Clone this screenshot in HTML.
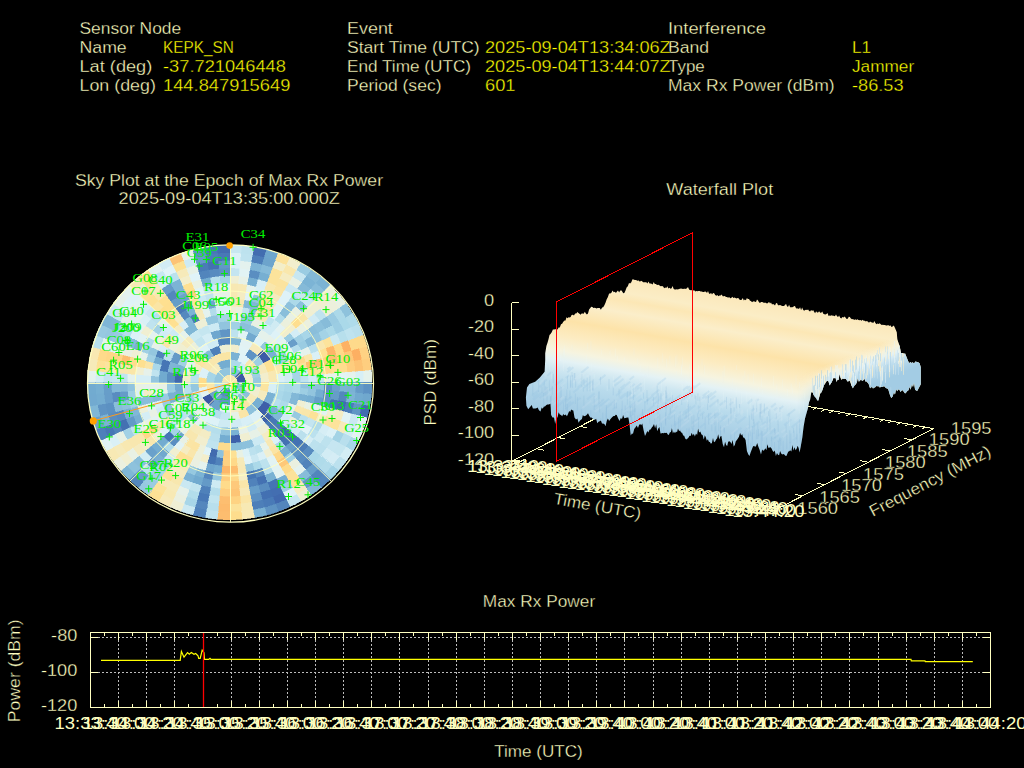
<!DOCTYPE html>
<html><head><meta charset="utf-8"><title>Interference Event</title>
<style>html,body{margin:0;padding:0;background:#000;overflow:hidden}svg{display:block}text{font-family:"Liberation Sans",sans-serif;white-space:pre;stroke:#000;stroke-width:.32px}#sats text{font-family:"Liberation Serif",serif;stroke:none}text.ns{stroke:none}</style></head>
<body>
<svg width="1024" height="768" viewBox="0 0 1024 768" font-family="'Liberation Sans', sans-serif" font-size="16.3px">
<rect width="1024" height="768" fill="#000"/>
<g id="header">
<text x="79.50" y="33.60" textLength="101.72" lengthAdjust="spacingAndGlyphs" fill="#ffffc0">Sensor Node</text>
<text x="79.50" y="52.70" textLength="47.22" lengthAdjust="spacingAndGlyphs" fill="#ffffc0">Name</text>
<text x="79.50" y="71.80" textLength="72.77" lengthAdjust="spacingAndGlyphs" fill="#ffffc0">Lat (deg)</text>
<text x="79.50" y="90.90" textLength="76.33" lengthAdjust="spacingAndGlyphs" fill="#ffffc0">Lon (deg)</text>
<text x="163.00" y="52.70" textLength="70.89" lengthAdjust="spacingAndGlyphs" fill="#ffff00">KEPK_SN</text>
<text x="163.00" y="71.80" textLength="122.94" lengthAdjust="spacingAndGlyphs" fill="#ffff00">-37.721046448</text>
<text x="163.00" y="90.90" textLength="127.34" lengthAdjust="spacingAndGlyphs" fill="#ffff00">144.847915649</text>
<text x="347.00" y="33.60" textLength="45.84" lengthAdjust="spacingAndGlyphs" fill="#ffffc0">Event</text>
<text x="347.00" y="52.70" textLength="132.72" lengthAdjust="spacingAndGlyphs" fill="#ffffc0">Start Time (UTC)</text>
<text x="347.00" y="71.80" textLength="124.02" lengthAdjust="spacingAndGlyphs" fill="#ffffc0">End Time (UTC)</text>
<text x="347.00" y="90.90" textLength="94.5" lengthAdjust="spacingAndGlyphs" fill="#ffffc0">Period (sec)</text>
<text x="668.00" y="33.60" textLength="97.91" lengthAdjust="spacingAndGlyphs" fill="#ffffc0">Interference</text>
<text x="668.00" y="52.70" textLength="41.09" lengthAdjust="spacingAndGlyphs" fill="#ffffc0">Band</text>
<text x="668.00" y="71.80" textLength="36.77" lengthAdjust="spacingAndGlyphs" fill="#ffffc0">Type</text>
<text x="668.00" y="90.90" textLength="166.61" lengthAdjust="spacingAndGlyphs" fill="#ffffc0">Max Rx Power (dBm)</text>
<text x="485.00" y="52.70" textLength="185.72" lengthAdjust="spacingAndGlyphs" fill="#ffff00">2025-09-04T13:34:06Z</text>
<text x="485.00" y="71.80" textLength="185.72" lengthAdjust="spacingAndGlyphs" fill="#ffff00">2025-09-04T13:44:07Z</text>
<text x="485.00" y="90.90" textLength="30.56" lengthAdjust="spacingAndGlyphs" fill="#ffff00">601</text>
<text x="852.00" y="52.70" textLength="19.11" lengthAdjust="spacingAndGlyphs" fill="#ffff00">L1</text>
<text x="852.00" y="71.80" textLength="62.14" lengthAdjust="spacingAndGlyphs" fill="#ffff00">Jammer</text>
<text x="852.00" y="90.90" textLength="51.62" lengthAdjust="spacingAndGlyphs" fill="#ffff00">-86.53</text>
</g>
<g id="sky">
<text x="74.92" y="185.70" textLength="308.16" lengthAdjust="spacingAndGlyphs" fill="#ffffc0">Sky Plot at the Epoch of Max Rx Power</text>
<text x="118.61" y="204.40" textLength="221.38" lengthAdjust="spacingAndGlyphs" fill="#ffffc0">2025-09-04T13:35:00.000Z</text>
<ellipse cx="229.7" cy="382.3" rx="142.2" ry="137.3" fill="#bcdcec"/>
<g shape-rendering="crispEdges" stroke-width="0.6">
<path d="M229.7 374.7L230.0 374.7L230.4 374.7L230.7 374.7L231.1 374.8L231.4 374.9L231.7 374.9L232.1 375.0L232.4 375.1L232.7 375.3L233.0 375.4L233.3 375.5L233.6 375.7L233.9 375.9L234.2 376.1L234.5 376.2L234.8 376.5L235.0 376.7L235.3 376.9L235.5 377.1L235.8 377.4L236.0 377.7L236.2 377.9L236.4 378.2L236.5 378.5L236.7 378.8L236.9 379.1L237.0 379.4L237.1 379.7L237.2 380.0L237.3 380.3L237.4 380.6L237.5 381.0L237.5 381.3L237.6 381.6L237.6 382.0L237.6 382.3L229.7 382.3L229.7 382.3L229.7 382.3L229.7 382.3L229.7 382.3L229.7 382.3L229.7 382.3L229.7 382.3L229.7 382.3L229.7 382.3L229.7 382.3L229.7 382.3L229.7 382.3L229.7 382.3L229.7 382.3L229.7 382.3L229.7 382.3L229.7 382.3L229.7 382.3L229.7 382.3L229.7 382.3L229.7 382.3L229.7 382.3L229.7 382.3L229.7 382.3L229.7 382.3L229.7 382.3L229.7 382.3L229.7 382.3L229.7 382.3L229.7 382.3L229.7 382.3L229.7 382.3L229.7 382.3L229.7 382.3L229.7 382.3L229.7 382.3Z" fill="#f8e8b1" stroke="#f8e8b1"/>
<path d="M237.6 382.3L237.6 382.6L237.6 383.0L237.5 383.3L237.5 383.6L237.4 384.0L237.3 384.3L237.2 384.6L237.1 384.9L237.0 385.2L236.9 385.5L236.7 385.8L236.5 386.1L236.4 386.4L236.2 386.7L236.0 386.9L235.8 387.2L235.5 387.5L235.3 387.7L235.0 387.9L234.8 388.1L234.5 388.4L234.2 388.5L233.9 388.7L233.6 388.9L233.3 389.1L233.0 389.2L232.7 389.3L232.4 389.5L232.1 389.6L231.7 389.7L231.4 389.7L231.1 389.8L230.7 389.9L230.4 389.9L230.0 389.9L229.7 389.9L229.7 382.3L229.7 382.3L229.7 382.3L229.7 382.3L229.7 382.3L229.7 382.3L229.7 382.3L229.7 382.3L229.7 382.3L229.7 382.3L229.7 382.3L229.7 382.3L229.7 382.3L229.7 382.3L229.7 382.3L229.7 382.3L229.7 382.3L229.7 382.3L229.7 382.3L229.7 382.3L229.7 382.3L229.7 382.3L229.7 382.3L229.7 382.3L229.7 382.3L229.7 382.3L229.7 382.3L229.7 382.3L229.7 382.3L229.7 382.3L229.7 382.3L229.7 382.3L229.7 382.3L229.7 382.3L229.7 382.3L229.7 382.3L229.7 382.3Z" fill="#fbe39e" stroke="#fbe39e"/>
<path d="M229.7 389.9L229.4 389.9L229.0 389.9L228.7 389.9L228.3 389.8L228.0 389.7L227.7 389.7L227.3 389.6L227.0 389.5L226.7 389.3L226.4 389.2L226.1 389.1L225.8 388.9L225.5 388.7L225.2 388.5L224.9 388.4L224.6 388.1L224.4 387.9L224.1 387.7L223.9 387.5L223.6 387.2L223.4 386.9L223.2 386.7L223.0 386.4L222.9 386.1L222.7 385.8L222.5 385.5L222.4 385.2L222.3 384.9L222.2 384.6L222.1 384.3L222.0 384.0L221.9 383.6L221.9 383.3L221.8 383.0L221.8 382.6L221.8 382.3L229.7 382.3L229.7 382.3L229.7 382.3L229.7 382.3L229.7 382.3L229.7 382.3L229.7 382.3L229.7 382.3L229.7 382.3L229.7 382.3L229.7 382.3L229.7 382.3L229.7 382.3L229.7 382.3L229.7 382.3L229.7 382.3L229.7 382.3L229.7 382.3L229.7 382.3L229.7 382.3L229.7 382.3L229.7 382.3L229.7 382.3L229.7 382.3L229.7 382.3L229.7 382.3L229.7 382.3L229.7 382.3L229.7 382.3L229.7 382.3L229.7 382.3L229.7 382.3L229.7 382.3L229.7 382.3L229.7 382.3L229.7 382.3L229.7 382.3Z" fill="#b5deec" stroke="#b5deec"/>
<path d="M221.8 382.3L221.8 382.0L221.8 381.6L221.9 381.3L221.9 381.0L222.0 380.6L222.1 380.3L222.2 380.0L222.3 379.7L222.4 379.4L222.5 379.1L222.7 378.8L222.9 378.5L223.0 378.2L223.2 377.9L223.4 377.7L223.6 377.4L223.9 377.1L224.1 376.9L224.4 376.7L224.6 376.5L224.9 376.2L225.2 376.1L225.5 375.9L225.8 375.7L226.1 375.5L226.4 375.4L226.7 375.3L227.0 375.1L227.3 375.0L227.7 374.9L228.0 374.9L228.3 374.8L228.7 374.7L229.0 374.7L229.4 374.7L229.7 374.7L229.7 382.3L229.7 382.3L229.7 382.3L229.7 382.3L229.7 382.3L229.7 382.3L229.7 382.3L229.7 382.3L229.7 382.3L229.7 382.3L229.7 382.3L229.7 382.3L229.7 382.3L229.7 382.3L229.7 382.3L229.7 382.3L229.7 382.3L229.7 382.3L229.7 382.3L229.7 382.3L229.7 382.3L229.7 382.3L229.7 382.3L229.7 382.3L229.7 382.3L229.7 382.3L229.7 382.3L229.7 382.3L229.7 382.3L229.7 382.3L229.7 382.3L229.7 382.3L229.7 382.3L229.7 382.3L229.7 382.3L229.7 382.3L229.7 382.3Z" fill="#f8e8b1" stroke="#f8e8b1"/>
<path d="M229.7 367.0L230.4 367.1L231.1 367.1L231.8 367.2L232.4 367.3L233.1 367.4L233.8 367.6L234.5 367.8L235.1 368.0L235.7 368.2L236.4 368.5L237.0 368.8L237.6 369.1L238.2 369.4L238.8 369.8L239.3 370.2L239.9 370.6L240.4 371.1L240.9 371.5L235.3 376.9L235.0 376.7L234.8 376.5L234.5 376.2L234.2 376.1L233.9 375.9L233.6 375.7L233.3 375.5L233.0 375.4L232.7 375.3L232.4 375.1L232.1 375.0L231.7 374.9L231.4 374.9L231.1 374.8L230.7 374.7L230.4 374.7L230.0 374.7L229.7 374.7Z" fill="#8cc0db" stroke="#8cc0db"/>
<path d="M240.9 371.5L241.3 372.0L241.8 372.5L242.2 373.0L242.6 373.5L243.0 374.1L243.4 374.7L243.7 375.3L244.0 375.9L244.3 376.5L244.5 377.1L244.8 377.7L245.0 378.4L245.1 379.0L245.3 379.7L245.4 380.3L245.4 381.0L245.5 381.6L245.5 382.3L237.6 382.3L237.6 382.0L237.6 381.6L237.5 381.3L237.5 381.0L237.4 380.6L237.3 380.3L237.2 380.0L237.1 379.7L237.0 379.4L236.9 379.1L236.7 378.8L236.5 378.5L236.4 378.2L236.2 377.9L236.0 377.7L235.8 377.4L235.5 377.1L235.3 376.9Z" fill="#3c57a5" stroke="#3c57a5"/>
<path d="M245.5 382.3L245.5 383.0L245.4 383.6L245.4 384.3L245.3 384.9L245.1 385.6L245.0 386.2L244.8 386.9L244.5 387.5L244.3 388.1L244.0 388.7L243.7 389.3L243.4 389.9L243.0 390.5L242.6 391.1L242.2 391.6L241.8 392.1L241.3 392.6L240.9 393.1L235.3 387.7L235.5 387.5L235.8 387.2L236.0 386.9L236.2 386.7L236.4 386.4L236.5 386.1L236.7 385.8L236.9 385.5L237.0 385.2L237.1 384.9L237.2 384.6L237.3 384.3L237.4 384.0L237.5 383.6L237.5 383.3L237.6 383.0L237.6 382.6L237.6 382.3Z" fill="#8fc3dd" stroke="#8fc3dd"/>
<path d="M240.9 393.1L240.4 393.5L239.9 394.0L239.3 394.4L238.8 394.8L238.2 395.2L237.6 395.5L237.0 395.8L236.4 396.1L235.7 396.4L235.1 396.6L234.5 396.8L233.8 397.0L233.1 397.2L232.4 397.3L231.8 397.4L231.1 397.5L230.4 397.5L229.7 397.6L229.7 389.9L230.0 389.9L230.4 389.9L230.7 389.9L231.1 389.8L231.4 389.7L231.7 389.7L232.1 389.6L232.4 389.5L232.7 389.3L233.0 389.2L233.3 389.1L233.6 388.9L233.9 388.7L234.2 388.5L234.5 388.4L234.8 388.1L235.0 387.9L235.3 387.7Z" fill="#c5e6f0" stroke="#c5e6f0"/>
<path d="M229.7 397.6L229.0 397.5L228.3 397.5L227.6 397.4L227.0 397.3L226.3 397.2L225.6 397.0L224.9 396.8L224.3 396.6L223.7 396.4L223.0 396.1L222.4 395.8L221.8 395.5L221.2 395.2L220.6 394.8L220.1 394.4L219.5 394.0L219.0 393.5L218.5 393.1L224.1 387.7L224.4 387.9L224.6 388.1L224.9 388.4L225.2 388.5L225.5 388.7L225.8 388.9L226.1 389.1L226.4 389.2L226.7 389.3L227.0 389.5L227.3 389.6L227.7 389.7L228.0 389.7L228.3 389.8L228.7 389.9L229.0 389.9L229.4 389.9L229.7 389.9Z" fill="#588cc0" stroke="#588cc0"/>
<path d="M218.5 393.1L218.1 392.6L217.6 392.1L217.2 391.6L216.8 391.1L216.4 390.5L216.0 389.9L215.7 389.3L215.4 388.7L215.1 388.1L214.9 387.5L214.6 386.9L214.4 386.2L214.3 385.6L214.1 384.9L214.0 384.3L214.0 383.6L213.9 383.0L213.9 382.3L221.8 382.3L221.8 382.6L221.8 383.0L221.9 383.3L221.9 383.6L222.0 384.0L222.1 384.3L222.2 384.6L222.3 384.9L222.4 385.2L222.5 385.5L222.7 385.8L222.9 386.1L223.0 386.4L223.2 386.7L223.4 386.9L223.6 387.2L223.9 387.5L224.1 387.7Z" fill="#b9e0ed" stroke="#b9e0ed"/>
<path d="M213.9 382.3L213.9 381.6L214.0 381.0L214.0 380.3L214.1 379.7L214.3 379.0L214.4 378.4L214.6 377.7L214.9 377.1L215.1 376.5L215.4 375.9L215.7 375.3L216.0 374.7L216.4 374.1L216.8 373.5L217.2 373.0L217.6 372.5L218.1 372.0L218.5 371.5L224.1 376.9L223.9 377.1L223.6 377.4L223.4 377.7L223.2 377.9L223.0 378.2L222.9 378.5L222.7 378.8L222.5 379.1L222.4 379.4L222.3 379.7L222.2 380.0L222.1 380.3L222.0 380.6L221.9 381.0L221.9 381.3L221.8 381.6L221.8 382.0L221.8 382.3Z" fill="#94c7df" stroke="#94c7df"/>
<path d="M218.5 371.5L219.0 371.1L219.5 370.6L220.1 370.2L220.6 369.8L221.2 369.4L221.8 369.1L222.4 368.8L223.0 368.5L223.7 368.2L224.3 368.0L224.9 367.8L225.6 367.6L226.3 367.4L227.0 367.3L227.6 367.2L228.3 367.1L229.0 367.1L229.7 367.0L229.7 374.7L229.4 374.7L229.0 374.7L228.7 374.7L228.3 374.8L228.0 374.9L227.7 374.9L227.3 375.0L227.0 375.1L226.7 375.3L226.4 375.4L226.1 375.5L225.8 375.7L225.5 375.9L225.2 376.1L224.9 376.2L224.6 376.5L224.4 376.7L224.1 376.9Z" fill="#92c5de" stroke="#92c5de"/>
<path d="M229.7 359.4L230.7 359.4L231.8 359.5L232.8 359.6L233.8 359.8L234.8 360.0L235.8 360.2L236.8 360.5L237.8 360.8L238.8 361.2L239.7 361.6L240.6 362.0L241.5 362.5L237.6 369.1L237.0 368.8L236.4 368.5L235.7 368.2L235.1 368.0L234.5 367.8L233.8 367.6L233.1 367.4L232.4 367.3L231.8 367.2L231.1 367.1L230.4 367.1L229.7 367.0Z" fill="#addae9" stroke="#addae9"/>
<path d="M241.5 362.5L242.4 363.0L243.3 363.6L244.1 364.1L244.9 364.8L245.7 365.4L246.5 366.1L247.2 366.8L247.9 367.6L248.5 368.4L249.1 369.2L249.7 370.0L250.2 370.9L243.4 374.7L243.0 374.1L242.6 373.5L242.2 373.0L241.8 372.5L241.3 372.0L240.9 371.5L240.4 371.1L239.9 370.6L239.3 370.2L238.8 369.8L238.2 369.4L237.6 369.1Z" fill="#d1ecf4" stroke="#d1ecf4"/>
<path d="M250.2 370.9L250.7 371.7L251.2 372.6L251.6 373.5L252.0 374.5L252.3 375.4L252.6 376.4L252.8 377.3L253.0 378.3L253.2 379.3L253.3 380.3L253.4 381.3L253.4 382.3L245.5 382.3L245.5 381.6L245.4 381.0L245.4 380.3L245.3 379.7L245.1 379.0L245.0 378.4L244.8 377.7L244.5 377.1L244.3 376.5L244.0 375.9L243.7 375.3L243.4 374.7Z" fill="#f1eecf" stroke="#f1eecf"/>
<path d="M253.4 382.3L253.4 383.3L253.3 384.3L253.2 385.3L253.0 386.3L252.8 387.3L252.6 388.2L252.3 389.2L252.0 390.1L251.6 391.1L251.2 392.0L250.7 392.9L250.2 393.7L243.4 389.9L243.7 389.3L244.0 388.7L244.3 388.1L244.5 387.5L244.8 386.9L245.0 386.2L245.1 385.6L245.3 384.9L245.4 384.3L245.4 383.6L245.5 383.0L245.5 382.3Z" fill="#f1efd0" stroke="#f1efd0"/>
<path d="M250.2 393.7L249.7 394.6L249.1 395.4L248.5 396.2L247.9 397.0L247.2 397.8L246.5 398.5L245.7 399.2L244.9 399.8L244.1 400.5L243.3 401.0L242.4 401.6L241.5 402.1L237.6 395.5L238.2 395.2L238.8 394.8L239.3 394.4L239.9 394.0L240.4 393.5L240.9 393.1L241.3 392.6L241.8 392.1L242.2 391.6L242.6 391.1L243.0 390.5L243.4 389.9Z" fill="#8dc1dc" stroke="#8dc1dc"/>
<path d="M241.5 402.1L240.6 402.6L239.7 403.0L238.8 403.4L237.8 403.8L236.8 404.1L235.8 404.4L234.8 404.6L233.8 404.8L232.8 405.0L231.8 405.1L230.7 405.2L229.7 405.2L229.7 397.6L230.4 397.5L231.1 397.5L231.8 397.4L232.4 397.3L233.1 397.2L233.8 397.0L234.5 396.8L235.1 396.6L235.7 396.4L236.4 396.1L237.0 395.8L237.6 395.5Z" fill="#f6ebbd" stroke="#f6ebbd"/>
<path d="M229.7 405.2L228.7 405.2L227.6 405.1L226.6 405.0L225.6 404.8L224.6 404.6L223.6 404.4L222.6 404.1L221.6 403.8L220.6 403.4L219.7 403.0L218.8 402.6L217.8 402.1L221.8 395.5L222.4 395.8L223.0 396.1L223.7 396.4L224.3 396.6L224.9 396.8L225.6 397.0L226.3 397.2L227.0 397.3L227.6 397.4L228.3 397.5L229.0 397.5L229.7 397.6Z" fill="#6096c5" stroke="#6096c5"/>
<path d="M217.8 402.1L217.0 401.6L216.1 401.0L215.3 400.5L214.5 399.8L213.7 399.2L212.9 398.5L212.2 397.8L211.5 397.0L210.9 396.2L210.3 395.4L209.7 394.6L209.2 393.7L216.0 389.9L216.4 390.5L216.8 391.1L217.2 391.6L217.6 392.1L218.1 392.6L218.5 393.1L219.0 393.5L219.5 394.0L220.1 394.4L220.6 394.8L221.2 395.2L221.8 395.5Z" fill="#6ca4cc" stroke="#6ca4cc"/>
<path d="M209.2 393.7L208.7 392.9L208.2 392.0L207.8 391.1L207.4 390.1L207.1 389.2L206.8 388.2L206.6 387.3L206.4 386.3L206.2 385.3L206.1 384.3L206.0 383.3L206.0 382.3L213.9 382.3L213.9 383.0L214.0 383.6L214.0 384.3L214.1 384.9L214.3 385.6L214.4 386.2L214.6 386.9L214.9 387.5L215.1 388.1L215.4 388.7L215.7 389.3L216.0 389.9Z" fill="#f9e6aa" stroke="#f9e6aa"/>
<path d="M206.0 382.3L206.0 381.3L206.1 380.3L206.2 379.3L206.4 378.3L206.6 377.3L206.8 376.4L207.1 375.4L207.4 374.5L207.8 373.5L208.2 372.6L208.7 371.7L209.2 370.9L216.0 374.7L215.7 375.3L215.4 375.9L215.1 376.5L214.9 377.1L214.6 377.7L214.4 378.4L214.3 379.0L214.1 379.7L214.0 380.3L214.0 381.0L213.9 381.6L213.9 382.3Z" fill="#a6d5e7" stroke="#a6d5e7"/>
<path d="M209.2 370.9L209.7 370.0L210.3 369.2L210.9 368.4L211.5 367.6L212.2 366.8L212.9 366.1L213.7 365.4L214.5 364.8L215.3 364.1L216.1 363.6L217.0 363.0L217.8 362.5L221.8 369.1L221.2 369.4L220.6 369.8L220.1 370.2L219.5 370.6L219.0 371.1L218.5 371.5L218.1 372.0L217.6 372.5L217.2 373.0L216.8 373.5L216.4 374.1L216.0 374.7Z" fill="#f5ebbf" stroke="#f5ebbf"/>
<path d="M217.8 362.5L218.8 362.0L219.7 361.6L220.6 361.2L221.6 360.8L222.6 360.5L223.6 360.2L224.6 360.0L225.6 359.8L226.6 359.6L227.6 359.5L228.7 359.4L229.7 359.4L229.7 367.0L229.0 367.1L228.3 367.1L227.6 367.2L227.0 367.3L226.3 367.4L225.6 367.6L224.9 367.8L224.3 368.0L223.7 368.2L223.0 368.5L222.4 368.8L221.8 369.1Z" fill="#74add1" stroke="#74add1"/>
<path d="M229.7 351.8L231.1 351.8L232.5 351.9L233.8 352.0L235.2 352.3L236.5 352.5L237.9 352.8L239.2 353.2L240.5 353.6L237.8 360.8L236.8 360.5L235.8 360.2L234.8 360.0L233.8 359.8L232.8 359.6L231.8 359.5L230.7 359.4L229.7 359.4Z" fill="#7ab2d4" stroke="#7ab2d4"/>
<path d="M240.5 353.6L241.8 354.1L243.1 354.6L244.3 355.2L245.5 355.9L246.7 356.6L247.8 357.3L248.9 358.1L250.0 358.9L244.9 364.8L244.1 364.1L243.3 363.6L242.4 363.0L241.5 362.5L240.6 362.0L239.7 361.6L238.8 361.2L237.8 360.8Z" fill="#e0f3f7" stroke="#e0f3f7"/>
<path d="M250.0 358.9L251.0 359.8L252.0 360.7L253.0 361.7L253.9 362.7L254.8 363.7L255.6 364.8L256.4 365.9L257.1 367.0L250.2 370.9L249.7 370.0L249.1 369.2L248.5 368.4L247.9 367.6L247.2 366.8L246.5 366.1L245.7 365.4L244.9 364.8Z" fill="#f8e7ae" stroke="#f8e7ae"/>
<path d="M257.1 367.0L257.7 368.2L258.3 369.4L258.9 370.6L259.4 371.9L259.8 373.1L260.2 374.4L260.6 375.7L260.8 377.0L253.0 378.3L252.8 377.3L252.6 376.4L252.3 375.4L252.0 374.5L251.6 373.5L251.2 372.6L250.7 371.7L250.2 370.9Z" fill="#9fcfe4" stroke="#9fcfe4"/>
<path d="M260.8 377.0L261.0 378.3L261.2 379.6L261.3 381.0L261.3 382.3L261.3 383.6L261.2 385.0L261.0 386.3L260.8 387.6L253.0 386.3L253.2 385.3L253.3 384.3L253.4 383.3L253.4 382.3L253.4 381.3L253.3 380.3L253.2 379.3L253.0 378.3Z" fill="#98c9e1" stroke="#98c9e1"/>
<path d="M260.8 387.6L260.6 388.9L260.2 390.2L259.8 391.5L259.4 392.7L258.9 394.0L258.3 395.2L257.7 396.4L257.1 397.6L250.2 393.7L250.7 392.9L251.2 392.0L251.6 391.1L252.0 390.1L252.3 389.2L252.6 388.2L252.8 387.3L253.0 386.3Z" fill="#f1eecf" stroke="#f1eecf"/>
<path d="M257.1 397.6L256.4 398.7L255.6 399.8L254.8 400.9L253.9 401.9L253.0 402.9L252.0 403.9L251.0 404.8L250.0 405.7L244.9 399.8L245.7 399.2L246.5 398.5L247.2 397.8L247.9 397.0L248.5 396.2L249.1 395.4L249.7 394.6L250.2 393.7Z" fill="#f6eab9" stroke="#f6eab9"/>
<path d="M250.0 405.7L248.9 406.5L247.8 407.3L246.7 408.0L245.5 408.7L244.3 409.4L243.1 410.0L241.8 410.5L240.5 411.0L237.8 403.8L238.8 403.4L239.7 403.0L240.6 402.6L241.5 402.1L242.4 401.6L243.3 401.0L244.1 400.5L244.9 399.8Z" fill="#fae5a5" stroke="#fae5a5"/>
<path d="M240.5 411.0L239.2 411.4L237.9 411.8L236.5 412.1L235.2 412.3L233.8 412.6L232.5 412.7L231.1 412.8L229.7 412.8L229.7 405.2L230.7 405.2L231.8 405.1L232.8 405.0L233.8 404.8L234.8 404.6L235.8 404.4L236.8 404.1L237.8 403.8Z" fill="#f4edc7" stroke="#f4edc7"/>
<path d="M229.7 412.8L228.3 412.8L226.9 412.7L225.6 412.6L224.2 412.3L222.9 412.1L221.5 411.8L220.2 411.4L218.9 411.0L221.6 403.8L222.6 404.1L223.6 404.4L224.6 404.6L225.6 404.8L226.6 405.0L227.6 405.1L228.7 405.2L229.7 405.2Z" fill="#e2f2f3" stroke="#e2f2f3"/>
<path d="M218.9 411.0L217.6 410.5L216.3 410.0L215.1 409.4L213.9 408.7L212.7 408.0L211.6 407.3L210.5 406.5L209.4 405.7L214.5 399.8L215.3 400.5L216.1 401.0L217.0 401.6L217.8 402.1L218.8 402.6L219.7 403.0L220.6 403.4L221.6 403.8Z" fill="#6ba3cc" stroke="#6ba3cc"/>
<path d="M209.4 405.7L208.4 404.8L207.4 403.9L206.4 402.9L205.5 401.9L204.6 400.9L203.8 399.8L203.0 398.7L202.3 397.6L209.2 393.7L209.7 394.6L210.3 395.4L210.9 396.2L211.5 397.0L212.2 397.8L212.9 398.5L213.7 399.2L214.5 399.8Z" fill="#3b55a4" stroke="#3b55a4"/>
<path d="M202.3 397.6L201.7 396.4L201.1 395.2L200.5 394.0L200.0 392.7L199.6 391.5L199.2 390.2L198.8 388.9L198.6 387.6L206.4 386.3L206.6 387.3L206.8 388.2L207.1 389.2L207.4 390.1L207.8 391.1L208.2 392.0L208.7 392.9L209.2 393.7Z" fill="#e3f2f2" stroke="#e3f2f2"/>
<path d="M198.6 387.6L198.4 386.3L198.2 385.0L198.1 383.6L198.1 382.3L198.1 381.0L198.2 379.6L198.4 378.3L198.6 377.0L206.4 378.3L206.2 379.3L206.1 380.3L206.0 381.3L206.0 382.3L206.0 383.3L206.1 384.3L206.2 385.3L206.4 386.3Z" fill="#fedc8c" stroke="#fedc8c"/>
<path d="M198.6 377.0L198.8 375.7L199.2 374.4L199.6 373.1L200.0 371.9L200.5 370.6L201.1 369.4L201.7 368.2L202.3 367.0L209.2 370.9L208.7 371.7L208.2 372.6L207.8 373.5L207.4 374.5L207.1 375.4L206.8 376.4L206.6 377.3L206.4 378.3Z" fill="#ddf1f7" stroke="#ddf1f7"/>
<path d="M202.3 367.0L203.0 365.9L203.8 364.8L204.6 363.7L205.5 362.7L206.4 361.7L207.4 360.7L208.4 359.8L209.4 358.9L214.5 364.8L213.7 365.4L212.9 366.1L212.2 366.8L211.5 367.6L210.9 368.4L210.3 369.2L209.7 370.0L209.2 370.9Z" fill="#f8e7ae" stroke="#f8e7ae"/>
<path d="M209.4 358.9L210.5 358.1L211.6 357.3L212.7 356.6L213.9 355.9L215.1 355.2L216.3 354.6L217.6 354.1L218.9 353.6L221.6 360.8L220.6 361.2L219.7 361.6L218.8 362.0L217.8 362.5L217.0 363.0L216.1 363.6L215.3 364.1L214.5 364.8Z" fill="#f9e7ad" stroke="#f9e7ad"/>
<path d="M218.9 353.6L220.2 353.2L221.5 352.8L222.9 352.5L224.2 352.3L225.6 352.0L226.9 351.9L228.3 351.8L229.7 351.8L229.7 359.4L228.7 359.4L227.6 359.5L226.6 359.6L225.6 359.8L224.6 360.0L223.6 360.2L222.6 360.5L221.6 360.8Z" fill="#fae5a4" stroke="#fae5a4"/>
<path d="M229.7 344.2L231.4 344.2L233.1 344.3L234.9 344.5L236.6 344.7L238.2 345.1L239.9 345.5L237.9 352.8L236.5 352.5L235.2 352.3L233.8 352.0L232.5 351.9L231.1 351.8L229.7 351.8Z" fill="#f2eecc" stroke="#f2eecc"/>
<path d="M239.9 345.5L241.6 345.9L243.2 346.5L244.8 347.1L246.4 347.7L247.9 348.5L249.4 349.3L245.5 355.9L244.3 355.2L243.1 354.6L241.8 354.1L240.5 353.6L239.2 353.2L237.9 352.8Z" fill="#e1f3f5" stroke="#e1f3f5"/>
<path d="M249.4 349.3L250.9 350.1L252.4 351.1L253.7 352.0L255.1 353.1L256.4 354.2L257.6 355.3L252.0 360.7L251.0 359.8L250.0 358.9L248.9 358.1L247.8 357.3L246.7 356.6L245.5 355.9Z" fill="#5e93c4" stroke="#5e93c4"/>
<path d="M257.6 355.3L258.8 356.5L260.0 357.8L261.0 359.1L262.1 360.4L263.0 361.8L263.9 363.2L257.1 367.0L256.4 365.9L255.6 364.8L254.8 363.7L253.9 362.7L253.0 361.7L252.0 360.7Z" fill="#9ecfe3" stroke="#9ecfe3"/>
<path d="M263.9 363.2L264.7 364.7L265.5 366.2L266.2 367.7L266.8 369.3L267.4 370.8L267.9 372.4L260.2 374.4L259.8 373.1L259.4 371.9L258.9 370.6L258.3 369.4L257.7 368.2L257.1 367.0Z" fill="#f6eabb" stroke="#f6eabb"/>
<path d="M267.9 372.4L268.3 374.0L268.6 375.7L268.9 377.3L269.0 379.0L269.2 380.6L269.2 382.3L261.3 382.3L261.3 381.0L261.2 379.6L261.0 378.3L260.8 377.0L260.6 375.7L260.2 374.4Z" fill="#f2eecd" stroke="#f2eecd"/>
<path d="M269.2 382.3L269.2 384.0L269.0 385.6L268.9 387.3L268.6 388.9L268.3 390.6L267.9 392.2L260.2 390.2L260.6 388.9L260.8 387.6L261.0 386.3L261.2 385.0L261.3 383.6L261.3 382.3Z" fill="#fbe4a0" stroke="#fbe4a0"/>
<path d="M267.9 392.2L267.4 393.8L266.8 395.3L266.2 396.9L265.5 398.4L264.7 399.9L263.9 401.4L257.1 397.6L257.7 396.4L258.3 395.2L258.9 394.0L259.4 392.7L259.8 391.5L260.2 390.2Z" fill="#f5ebbe" stroke="#f5ebbe"/>
<path d="M263.9 401.4L263.0 402.8L262.1 404.2L261.0 405.5L260.0 406.8L258.8 408.1L257.6 409.3L252.0 403.9L253.0 402.9L253.9 401.9L254.8 400.9L255.6 399.8L256.4 398.7L257.1 397.6Z" fill="#77afd2" stroke="#77afd2"/>
<path d="M257.6 409.3L256.4 410.4L255.1 411.5L253.7 412.6L252.4 413.5L250.9 414.5L249.4 415.3L245.5 408.7L246.7 408.0L247.8 407.3L248.9 406.5L250.0 405.7L251.0 404.8L252.0 403.9Z" fill="#8dc1dc" stroke="#8dc1dc"/>
<path d="M249.4 415.3L247.9 416.1L246.4 416.9L244.8 417.5L243.2 418.1L241.6 418.7L239.9 419.1L237.9 411.8L239.2 411.4L240.5 411.0L241.8 410.5L243.1 410.0L244.3 409.4L245.5 408.7Z" fill="#fae5a7" stroke="#fae5a7"/>
<path d="M239.9 419.1L238.2 419.5L236.6 419.9L234.9 420.1L233.1 420.3L231.4 420.4L229.7 420.4L229.7 412.8L231.1 412.8L232.5 412.7L233.8 412.6L235.2 412.3L236.5 412.1L237.9 411.8Z" fill="#e7f1e7" stroke="#e7f1e7"/>
<path d="M229.7 420.4L228.0 420.4L226.3 420.3L224.5 420.1L222.8 419.9L221.2 419.5L219.5 419.1L221.5 411.8L222.9 412.1L224.2 412.3L225.6 412.6L226.9 412.7L228.3 412.8L229.7 412.8Z" fill="#c3e5f0" stroke="#c3e5f0"/>
<path d="M219.5 419.1L217.8 418.7L216.2 418.1L214.6 417.5L213.0 416.9L211.5 416.1L209.9 415.3L213.9 408.7L215.1 409.4L216.3 410.0L217.6 410.5L218.9 411.0L220.2 411.4L221.5 411.8Z" fill="#b6deec" stroke="#b6deec"/>
<path d="M209.9 415.3L208.5 414.5L207.0 413.5L205.7 412.6L204.3 411.5L203.0 410.4L201.8 409.3L207.4 403.9L208.4 404.8L209.4 405.7L210.5 406.5L211.6 407.3L212.7 408.0L213.9 408.7Z" fill="#e7f1e8" stroke="#e7f1e8"/>
<path d="M201.8 409.3L200.6 408.1L199.4 406.8L198.4 405.5L197.3 404.2L196.4 402.8L195.5 401.4L202.3 397.6L203.0 398.7L203.8 399.8L204.6 400.9L205.5 401.9L206.4 402.9L207.4 403.9Z" fill="#edefd8" stroke="#edefd8"/>
<path d="M195.5 401.4L194.7 399.9L193.9 398.4L193.2 396.9L192.6 395.3L192.0 393.8L191.5 392.2L199.2 390.2L199.6 391.5L200.0 392.7L200.5 394.0L201.1 395.2L201.7 396.4L202.3 397.6Z" fill="#cfeaf3" stroke="#cfeaf3"/>
<path d="M191.5 392.2L191.1 390.6L190.8 388.9L190.5 387.3L190.4 385.6L190.2 384.0L190.2 382.3L198.1 382.3L198.1 383.6L198.2 385.0L198.4 386.3L198.6 387.6L198.8 388.9L199.2 390.2Z" fill="#94c7df" stroke="#94c7df"/>
<path d="M190.2 382.3L190.2 380.6L190.4 379.0L190.5 377.3L190.8 375.7L191.1 374.0L191.5 372.4L199.2 374.4L198.8 375.7L198.6 377.0L198.4 378.3L198.2 379.6L198.1 381.0L198.1 382.3Z" fill="#bbe1ee" stroke="#bbe1ee"/>
<path d="M191.5 372.4L192.0 370.8L192.6 369.3L193.2 367.7L193.9 366.2L194.7 364.7L195.5 363.2L202.3 367.0L201.7 368.2L201.1 369.4L200.5 370.6L200.0 371.9L199.6 373.1L199.2 374.4Z" fill="#f5ecc2" stroke="#f5ecc2"/>
<path d="M195.5 363.2L196.4 361.8L197.3 360.4L198.4 359.1L199.4 357.8L200.6 356.5L201.8 355.3L207.4 360.7L206.4 361.7L205.5 362.7L204.6 363.7L203.8 364.8L203.0 365.9L202.3 367.0Z" fill="#fbe4a3" stroke="#fbe4a3"/>
<path d="M201.8 355.3L203.0 354.2L204.3 353.1L205.7 352.0L207.0 351.1L208.5 350.1L209.9 349.3L213.9 355.9L212.7 356.6L211.6 357.3L210.5 358.1L209.4 358.9L208.4 359.8L207.4 360.7Z" fill="#87bcd9" stroke="#87bcd9"/>
<path d="M209.9 349.3L211.5 348.5L213.0 347.7L214.6 347.1L216.2 346.5L217.8 345.9L219.5 345.5L221.5 352.8L220.2 353.2L218.9 353.6L217.6 354.1L216.3 354.6L215.1 355.2L213.9 355.9Z" fill="#4d7fb9" stroke="#4d7fb9"/>
<path d="M219.5 345.5L221.2 345.1L222.8 344.7L224.5 344.5L226.3 344.3L228.0 344.2L229.7 344.2L229.7 351.8L228.3 351.8L226.9 351.9L225.6 352.0L224.2 352.3L222.9 352.5L221.5 352.8Z" fill="#f0efd2" stroke="#f0efd2"/>
<path d="M229.7 336.5L231.8 336.6L233.8 336.7L235.9 336.9L237.9 337.2L240.0 337.6L242.0 338.1L239.9 345.5L238.2 345.1L236.6 344.7L234.9 344.5L233.1 344.3L231.4 344.2L229.7 344.2Z" fill="#80b7d6" stroke="#80b7d6"/>
<path d="M242.0 338.1L244.0 338.7L245.9 339.3L247.8 340.0L249.7 340.8L251.6 341.7L253.4 342.7L249.4 349.3L247.9 348.5L246.4 347.7L244.8 347.1L243.2 346.5L241.6 345.9L239.9 345.5Z" fill="#e2f2f3" stroke="#e2f2f3"/>
<path d="M253.4 342.7L255.2 343.7L256.9 344.8L258.6 346.0L260.2 347.2L261.7 348.6L263.2 349.9L257.6 355.3L256.4 354.2L255.1 353.1L253.7 352.0L252.4 351.1L250.9 350.1L249.4 349.3Z" fill="#f6eabb" stroke="#f6eabb"/>
<path d="M263.2 349.9L264.6 351.4L266.0 352.9L267.3 354.4L268.5 356.0L269.7 357.7L270.7 359.4L263.9 363.2L263.0 361.8L262.1 360.4L261.0 359.1L260.0 357.8L258.8 356.5L257.6 355.3Z" fill="#3d5ba7" stroke="#3d5ba7"/>
<path d="M270.7 359.4L271.7 361.2L272.7 363.0L273.5 364.8L274.2 366.6L274.9 368.5L275.5 370.5L267.9 372.4L267.4 370.8L266.8 369.3L266.2 367.7L265.5 366.2L264.7 364.7L263.9 363.2Z" fill="#fde194" stroke="#fde194"/>
<path d="M275.5 370.5L276.0 372.4L276.4 374.4L276.7 376.3L276.9 378.3L277.1 380.3L277.1 382.3L269.2 382.3L269.2 380.6L269.0 379.0L268.9 377.3L268.6 375.7L268.3 374.0L267.9 372.4Z" fill="#f8e8b2" stroke="#f8e8b2"/>
<path d="M277.1 382.3L277.1 384.3L276.9 386.3L276.7 388.3L276.4 390.2L276.0 392.2L275.5 394.1L267.9 392.2L268.3 390.6L268.6 388.9L268.9 387.3L269.0 385.6L269.2 384.0L269.2 382.3Z" fill="#d7eff6" stroke="#d7eff6"/>
<path d="M275.5 394.1L274.9 396.1L274.2 398.0L273.5 399.8L272.7 401.6L271.7 403.4L270.7 405.2L263.9 401.4L264.7 399.9L265.5 398.4L266.2 396.9L266.8 395.3L267.4 393.8L267.9 392.2Z" fill="#7ab2d4" stroke="#7ab2d4"/>
<path d="M270.7 405.2L269.7 406.9L268.5 408.6L267.3 410.2L266.0 411.7L264.6 413.2L263.2 414.7L257.6 409.3L258.8 408.1L260.0 406.8L261.0 405.5L262.1 404.2L263.0 402.8L263.9 401.4Z" fill="#3e5fa9" stroke="#3e5fa9"/>
<path d="M263.2 414.7L261.7 416.0L260.2 417.4L258.6 418.6L256.9 419.8L255.2 420.9L253.4 421.9L249.4 415.3L250.9 414.5L252.4 413.5L253.7 412.6L255.1 411.5L256.4 410.4L257.6 409.3Z" fill="#dcf1f7" stroke="#dcf1f7"/>
<path d="M253.4 421.9L251.6 422.9L249.7 423.8L247.8 424.6L245.9 425.3L244.0 425.9L242.0 426.5L239.9 419.1L241.6 418.7L243.2 418.1L244.8 417.5L246.4 416.9L247.9 416.1L249.4 415.3Z" fill="#d8eff6" stroke="#d8eff6"/>
<path d="M242.0 426.5L240.0 427.0L237.9 427.4L235.9 427.7L233.8 427.9L231.8 428.0L229.7 428.1L229.7 420.4L231.4 420.4L233.1 420.3L234.9 420.1L236.6 419.9L238.2 419.5L239.9 419.1Z" fill="#d1ebf4" stroke="#d1ebf4"/>
<path d="M229.7 428.1L227.6 428.0L225.6 427.9L223.5 427.7L221.5 427.4L219.4 427.0L217.4 426.5L219.5 419.1L221.2 419.5L222.8 419.9L224.5 420.1L226.3 420.3L228.0 420.4L229.7 420.4Z" fill="#cfebf3" stroke="#cfebf3"/>
<path d="M217.4 426.5L215.4 425.9L213.5 425.3L211.6 424.6L209.7 423.8L207.8 422.9L206.0 421.9L209.9 415.3L211.5 416.1L213.0 416.9L214.6 417.5L216.2 418.1L217.8 418.7L219.5 419.1Z" fill="#ddf2f7" stroke="#ddf2f7"/>
<path d="M206.0 421.9L204.2 420.9L202.5 419.8L200.8 418.6L199.2 417.4L197.7 416.0L196.2 414.7L201.8 409.3L203.0 410.4L204.3 411.5L205.7 412.6L207.0 413.5L208.5 414.5L209.9 415.3Z" fill="#e0f3f8" stroke="#e0f3f8"/>
<path d="M196.2 414.7L194.8 413.2L193.4 411.7L192.1 410.2L190.9 408.6L189.7 406.9L188.7 405.2L195.5 401.4L196.4 402.8L197.3 404.2L198.4 405.5L199.4 406.8L200.6 408.1L201.8 409.3Z" fill="#e7f1e9" stroke="#e7f1e9"/>
<path d="M188.7 405.2L187.7 403.4L186.7 401.6L185.9 399.8L185.2 398.0L184.5 396.1L183.9 394.1L191.5 392.2L192.0 393.8L192.6 395.3L193.2 396.9L193.9 398.4L194.7 399.9L195.5 401.4Z" fill="#9dcde3" stroke="#9dcde3"/>
<path d="M183.9 394.1L183.4 392.2L183.0 390.2L182.7 388.3L182.5 386.3L182.3 384.3L182.3 382.3L190.2 382.3L190.2 384.0L190.4 385.6L190.5 387.3L190.8 388.9L191.1 390.6L191.5 392.2Z" fill="#b9e0ed" stroke="#b9e0ed"/>
<path d="M182.3 382.3L182.3 380.3L182.5 378.3L182.7 376.3L183.0 374.4L183.4 372.4L183.9 370.5L191.5 372.4L191.1 374.0L190.8 375.7L190.5 377.3L190.4 379.0L190.2 380.6L190.2 382.3Z" fill="#f4edc8" stroke="#f4edc8"/>
<path d="M183.9 370.5L184.5 368.5L185.2 366.6L185.9 364.8L186.7 363.0L187.7 361.2L188.7 359.4L195.5 363.2L194.7 364.7L193.9 366.2L193.2 367.7L192.6 369.3L192.0 370.8L191.5 372.4Z" fill="#e3f2f0" stroke="#e3f2f0"/>
<path d="M188.7 359.4L189.7 357.7L190.9 356.0L192.1 354.4L193.4 352.9L194.8 351.4L196.2 349.9L201.8 355.3L200.6 356.5L199.4 357.8L198.4 359.1L197.3 360.4L196.4 361.8L195.5 363.2Z" fill="#f6eab9" stroke="#f6eab9"/>
<path d="M196.2 349.9L197.7 348.6L199.2 347.2L200.8 346.0L202.5 344.8L204.2 343.7L206.0 342.7L209.9 349.3L208.5 350.1L207.0 351.1L205.7 352.0L204.3 353.1L203.0 354.2L201.8 355.3Z" fill="#ddf1f7" stroke="#ddf1f7"/>
<path d="M206.0 342.7L207.8 341.7L209.7 340.8L211.6 340.0L213.5 339.3L215.4 338.7L217.4 338.1L219.5 345.5L217.8 345.9L216.2 346.5L214.6 347.1L213.0 347.7L211.5 348.5L209.9 349.3Z" fill="#d0ebf4" stroke="#d0ebf4"/>
<path d="M217.4 338.1L219.4 337.6L221.5 337.2L223.5 336.9L225.6 336.7L227.6 336.6L229.7 336.5L229.7 344.2L228.0 344.2L226.3 344.3L224.5 344.5L222.8 344.7L221.2 345.1L219.5 345.5Z" fill="#5284bc" stroke="#5284bc"/>
<path d="M229.7 328.9L232.1 329.0L234.5 329.1L236.9 329.4L239.3 329.7L237.9 337.2L235.9 336.9L233.8 336.7L231.8 336.6L229.7 336.5Z" fill="#bde2ee" stroke="#bde2ee"/>
<path d="M239.3 329.7L241.7 330.2L244.0 330.7L246.3 331.4L248.6 332.1L245.9 339.3L244.0 338.7L242.0 338.1L240.0 337.6L237.9 337.2Z" fill="#e1f3f5" stroke="#e1f3f5"/>
<path d="M248.6 332.1L250.9 333.0L253.1 333.9L255.2 334.9L257.3 336.1L253.4 342.7L251.6 341.7L249.7 340.8L247.8 340.0L245.9 339.3Z" fill="#71a9cf" stroke="#71a9cf"/>
<path d="M257.3 336.1L259.4 337.3L261.4 338.6L263.4 339.9L265.2 341.4L260.2 347.2L258.6 346.0L256.9 344.8L255.2 343.7L253.4 342.7Z" fill="#ddf2f7" stroke="#ddf2f7"/>
<path d="M265.2 341.4L267.1 342.9L268.8 344.5L270.5 346.2L272.1 348.0L266.0 352.9L264.6 351.4L263.2 349.9L261.7 348.6L260.2 347.2Z" fill="#95c8e0" stroke="#95c8e0"/>
<path d="M272.1 348.0L273.6 349.8L275.0 351.7L276.3 353.6L277.6 355.6L270.7 359.4L269.7 357.7L268.5 356.0L267.3 354.4L266.0 352.9Z" fill="#79b1d3" stroke="#79b1d3"/>
<path d="M277.6 355.6L278.8 357.6L279.8 359.7L280.8 361.9L281.7 364.0L274.2 366.6L273.5 364.8L272.7 363.0L271.7 361.2L270.7 359.4Z" fill="#c3e5f0" stroke="#c3e5f0"/>
<path d="M281.7 364.0L282.4 366.2L283.1 368.5L283.7 370.7L284.2 373.0L276.4 374.4L276.0 372.4L275.5 370.5L274.9 368.5L274.2 366.6Z" fill="#f8e8b0" stroke="#f8e8b0"/>
<path d="M284.2 373.0L284.5 375.3L284.8 377.6L284.9 380.0L285.0 382.3L277.1 382.3L277.1 380.3L276.9 378.3L276.7 376.3L276.4 374.4Z" fill="#d9f0f6" stroke="#d9f0f6"/>
<path d="M285.0 382.3L284.9 384.6L284.8 387.0L284.5 389.3L284.2 391.6L276.4 390.2L276.7 388.3L276.9 386.3L277.1 384.3L277.1 382.3Z" fill="#b0dcea" stroke="#b0dcea"/>
<path d="M284.2 391.6L283.7 393.9L283.1 396.1L282.4 398.4L281.7 400.6L274.2 398.0L274.9 396.1L275.5 394.1L276.0 392.2L276.4 390.2Z" fill="#aad8e9" stroke="#aad8e9"/>
<path d="M281.7 400.6L280.8 402.7L279.8 404.9L278.8 407.0L277.6 409.0L270.7 405.2L271.7 403.4L272.7 401.6L273.5 399.8L274.2 398.0Z" fill="#b7dfed" stroke="#b7dfed"/>
<path d="M277.6 409.0L276.3 411.0L275.0 412.9L273.6 414.8L272.1 416.6L266.0 411.7L267.3 410.2L268.5 408.6L269.7 406.9L270.7 405.2Z" fill="#76aed2" stroke="#76aed2"/>
<path d="M272.1 416.6L270.5 418.4L268.8 420.1L267.1 421.7L265.2 423.2L260.2 417.4L261.7 416.0L263.2 414.7L264.6 413.2L266.0 411.7Z" fill="#3f62ab" stroke="#3f62ab"/>
<path d="M265.2 423.2L263.4 424.7L261.4 426.0L259.4 427.3L257.3 428.5L253.4 421.9L255.2 420.9L256.9 419.8L258.6 418.6L260.2 417.4Z" fill="#e5f2ec" stroke="#e5f2ec"/>
<path d="M257.3 428.5L255.2 429.7L253.1 430.7L250.9 431.6L248.6 432.5L245.9 425.3L247.8 424.6L249.7 423.8L251.6 422.9L253.4 421.9Z" fill="#d2ecf4" stroke="#d2ecf4"/>
<path d="M248.6 432.5L246.3 433.2L244.0 433.9L241.7 434.4L239.3 434.9L237.9 427.4L240.0 427.0L242.0 426.5L244.0 425.9L245.9 425.3Z" fill="#e6f1ea" stroke="#e6f1ea"/>
<path d="M239.3 434.9L236.9 435.2L234.5 435.5L232.1 435.6L229.7 435.7L229.7 428.1L231.8 428.0L233.8 427.9L235.9 427.7L237.9 427.4Z" fill="#7ab2d4" stroke="#7ab2d4"/>
<path d="M229.7 435.7L227.3 435.6L224.9 435.5L222.5 435.2L220.1 434.9L221.5 427.4L223.5 427.7L225.6 427.9L227.6 428.0L229.7 428.1Z" fill="#93c6df" stroke="#93c6df"/>
<path d="M220.1 434.9L217.7 434.4L215.4 433.9L213.1 433.2L210.8 432.5L213.5 425.3L215.4 425.9L217.4 426.5L219.4 427.0L221.5 427.4Z" fill="#b5deec" stroke="#b5deec"/>
<path d="M210.8 432.5L208.5 431.6L206.3 430.7L204.2 429.7L202.0 428.5L206.0 421.9L207.8 422.9L209.7 423.8L211.6 424.6L213.5 425.3Z" fill="#b8dfed" stroke="#b8dfed"/>
<path d="M202.0 428.5L200.0 427.3L198.0 426.0L196.0 424.7L194.2 423.2L199.2 417.4L200.8 418.6L202.5 419.8L204.2 420.9L206.0 421.9Z" fill="#e3f2f0" stroke="#e3f2f0"/>
<path d="M194.2 423.2L192.3 421.7L190.6 420.1L188.9 418.4L187.3 416.6L193.4 411.7L194.8 413.2L196.2 414.7L197.7 416.0L199.2 417.4Z" fill="#89beda" stroke="#89beda"/>
<path d="M187.3 416.6L185.8 414.8L184.4 412.9L183.1 411.0L181.8 409.0L188.7 405.2L189.7 406.9L190.9 408.6L192.1 410.2L193.4 411.7Z" fill="#c1e4ef" stroke="#c1e4ef"/>
<path d="M181.8 409.0L180.6 407.0L179.6 404.9L178.6 402.7L177.7 400.6L185.2 398.0L185.9 399.8L186.7 401.6L187.7 403.4L188.7 405.2Z" fill="#d0ebf3" stroke="#d0ebf3"/>
<path d="M177.7 400.6L177.0 398.4L176.3 396.1L175.7 393.9L175.2 391.6L183.0 390.2L183.4 392.2L183.9 394.1L184.5 396.1L185.2 398.0Z" fill="#75aed1" stroke="#75aed1"/>
<path d="M175.2 391.6L174.9 389.3L174.6 387.0L174.5 384.6L174.4 382.3L182.3 382.3L182.3 384.3L182.5 386.3L182.7 388.3L183.0 390.2Z" fill="#72aad0" stroke="#72aad0"/>
<path d="M174.4 382.3L174.5 380.0L174.6 377.6L174.9 375.3L175.2 373.0L183.0 374.4L182.7 376.3L182.5 378.3L182.3 380.3L182.3 382.3Z" fill="#4168ad" stroke="#4168ad"/>
<path d="M175.2 373.0L175.7 370.7L176.3 368.5L177.0 366.2L177.7 364.0L185.2 366.6L184.5 368.5L183.9 370.5L183.4 372.4L183.0 374.4Z" fill="#7ab2d4" stroke="#7ab2d4"/>
<path d="M177.7 364.0L178.6 361.9L179.6 359.7L180.6 357.6L181.8 355.6L188.7 359.4L187.7 361.2L186.7 363.0L185.9 364.8L185.2 366.6Z" fill="#a1d1e4" stroke="#a1d1e4"/>
<path d="M181.8 355.6L183.1 353.6L184.4 351.7L185.8 349.8L187.3 348.0L193.4 352.9L192.1 354.4L190.9 356.0L189.7 357.7L188.7 359.4Z" fill="#e9f1e4" stroke="#e9f1e4"/>
<path d="M187.3 348.0L188.9 346.2L190.6 344.5L192.3 342.9L194.2 341.4L199.2 347.2L197.7 348.6L196.2 349.9L194.8 351.4L193.4 352.9Z" fill="#ecf0db" stroke="#ecf0db"/>
<path d="M194.2 341.4L196.0 339.9L198.0 338.6L200.0 337.3L202.0 336.1L206.0 342.7L204.2 343.7L202.5 344.8L200.8 346.0L199.2 347.2Z" fill="#c1e4ef" stroke="#c1e4ef"/>
<path d="M202.0 336.1L204.2 334.9L206.3 333.9L208.5 333.0L210.8 332.1L213.5 339.3L211.6 340.0L209.7 340.8L207.8 341.7L206.0 342.7Z" fill="#d4edf5" stroke="#d4edf5"/>
<path d="M210.8 332.1L213.1 331.4L215.4 330.7L217.7 330.2L220.1 329.7L221.5 337.2L219.4 337.6L217.4 338.1L215.4 338.7L213.5 339.3Z" fill="#6fa7ce" stroke="#6fa7ce"/>
<path d="M220.1 329.7L222.5 329.4L224.9 329.1L227.3 329.0L229.7 328.9L229.7 336.5L227.6 336.6L225.6 336.7L223.5 336.9L221.5 337.2Z" fill="#6095c5" stroke="#6095c5"/>
<path d="M229.7 321.3L232.5 321.3L235.2 321.5L237.9 321.8L240.7 322.2L239.3 329.7L236.9 329.4L234.5 329.1L232.1 329.0L229.7 328.9Z" fill="#a1d1e5" stroke="#a1d1e5"/>
<path d="M240.7 322.2L243.4 322.7L246.1 323.4L248.7 324.1L251.3 325.0L248.6 332.1L246.3 331.4L244.0 330.7L241.7 330.2L239.3 329.7Z" fill="#8bc0db" stroke="#8bc0db"/>
<path d="M251.3 325.0L253.9 325.9L256.4 327.0L258.9 328.2L261.3 329.5L257.3 336.1L255.2 334.9L253.1 333.9L250.9 333.0L248.6 332.1Z" fill="#90c4dd" stroke="#90c4dd"/>
<path d="M261.3 329.5L263.7 330.8L266.0 332.3L268.2 333.9L270.3 335.6L265.2 341.4L263.4 339.9L261.4 338.6L259.4 337.3L257.3 336.1Z" fill="#e5f2eb" stroke="#e5f2eb"/>
<path d="M270.3 335.6L272.4 337.3L274.4 339.2L276.3 341.1L278.1 343.1L272.1 348.0L270.5 346.2L268.8 344.5L267.1 342.9L265.2 341.4Z" fill="#e7f1e8" stroke="#e7f1e8"/>
<path d="M278.1 343.1L279.8 345.2L281.5 347.3L283.0 349.5L284.4 351.8L277.6 355.6L276.3 353.6L275.0 351.7L273.6 349.8L272.1 348.0Z" fill="#c1e4ef" stroke="#c1e4ef"/>
<path d="M284.4 351.8L285.8 354.1L287.0 356.5L288.1 358.9L289.1 361.4L281.7 364.0L280.8 361.9L279.8 359.7L278.8 357.6L277.6 355.6Z" fill="#a2d1e5" stroke="#a2d1e5"/>
<path d="M289.1 361.4L290.0 364.0L290.7 366.5L291.4 369.1L291.9 371.7L284.2 373.0L283.7 370.7L283.1 368.5L282.4 366.2L281.7 364.0Z" fill="#f7e9b6" stroke="#f7e9b6"/>
<path d="M291.9 371.7L292.4 374.3L292.7 377.0L292.8 379.6L292.9 382.3L285.0 382.3L284.9 380.0L284.8 377.6L284.5 375.3L284.2 373.0Z" fill="#d1ecf4" stroke="#d1ecf4"/>
<path d="M292.9 382.3L292.8 385.0L292.7 387.6L292.4 390.3L291.9 392.9L284.2 391.6L284.5 389.3L284.8 387.0L284.9 384.6L285.0 382.3Z" fill="#a9d8e8" stroke="#a9d8e8"/>
<path d="M291.9 392.9L291.4 395.5L290.7 398.1L290.0 400.6L289.1 403.2L281.7 400.6L282.4 398.4L283.1 396.1L283.7 393.9L284.2 391.6Z" fill="#a3d3e6" stroke="#a3d3e6"/>
<path d="M289.1 403.2L288.1 405.7L287.0 408.1L285.8 410.5L284.4 412.8L277.6 409.0L278.8 407.0L279.8 404.9L280.8 402.7L281.7 400.6Z" fill="#aedaea" stroke="#aedaea"/>
<path d="M284.4 412.8L283.0 415.1L281.5 417.3L279.8 419.4L278.1 421.5L272.1 416.6L273.6 414.8L275.0 412.9L276.3 411.0L277.6 409.0Z" fill="#81b8d7" stroke="#81b8d7"/>
<path d="M278.1 421.5L276.3 423.5L274.4 425.4L272.4 427.3L270.3 429.0L265.2 423.2L267.1 421.7L268.8 420.1L270.5 418.4L272.1 416.6Z" fill="#4778b5" stroke="#4778b5"/>
<path d="M270.3 429.0L268.2 430.7L266.0 432.3L263.7 433.8L261.3 435.1L257.3 428.5L259.4 427.3L261.4 426.0L263.4 424.7L265.2 423.2Z" fill="#eeefd7" stroke="#eeefd7"/>
<path d="M261.3 435.1L258.9 436.4L256.4 437.6L253.9 438.7L251.3 439.6L248.6 432.5L250.9 431.6L253.1 430.7L255.2 429.7L257.3 428.5Z" fill="#e7f1e7" stroke="#e7f1e7"/>
<path d="M251.3 439.6L248.7 440.5L246.1 441.2L243.4 441.9L240.7 442.4L239.3 434.9L241.7 434.4L244.0 433.9L246.3 433.2L248.6 432.5Z" fill="#f0efd2" stroke="#f0efd2"/>
<path d="M240.7 442.4L237.9 442.8L235.2 443.1L232.5 443.3L229.7 443.3L229.7 435.7L232.1 435.6L234.5 435.5L236.9 435.2L239.3 434.9Z" fill="#3e60aa" stroke="#3e60aa"/>
<path d="M229.7 443.3L226.9 443.3L224.2 443.1L221.5 442.8L218.7 442.4L220.1 434.9L222.5 435.2L224.9 435.5L227.3 435.6L229.7 435.7Z" fill="#74add1" stroke="#74add1"/>
<path d="M218.7 442.4L216.0 441.9L213.3 441.2L210.7 440.5L208.1 439.6L210.8 432.5L213.1 433.2L215.4 433.9L217.7 434.4L220.1 434.9Z" fill="#bae0ed" stroke="#bae0ed"/>
<path d="M208.1 439.6L205.5 438.7L203.0 437.6L200.5 436.4L198.1 435.1L202.0 428.5L204.2 429.7L206.3 430.7L208.5 431.6L210.8 432.5Z" fill="#f4ecc4" stroke="#f4ecc4"/>
<path d="M198.1 435.1L195.7 433.8L193.4 432.3L191.2 430.7L189.1 429.0L194.2 423.2L196.0 424.7L198.0 426.0L200.0 427.3L202.0 428.5Z" fill="#f6eaba" stroke="#f6eaba"/>
<path d="M189.1 429.0L187.0 427.3L185.0 425.4L183.1 423.5L181.3 421.5L187.3 416.6L188.9 418.4L190.6 420.1L192.3 421.7L194.2 423.2Z" fill="#e8f1e5" stroke="#e8f1e5"/>
<path d="M181.3 421.5L179.6 419.4L177.9 417.3L176.4 415.1L175.0 412.8L181.8 409.0L183.1 411.0L184.4 412.9L185.8 414.8L187.3 416.6Z" fill="#bbe1ee" stroke="#bbe1ee"/>
<path d="M175.0 412.8L173.6 410.5L172.4 408.1L171.3 405.7L170.3 403.2L177.7 400.6L178.6 402.7L179.6 404.9L180.6 407.0L181.8 409.0Z" fill="#e6f1e9" stroke="#e6f1e9"/>
<path d="M170.3 403.2L169.4 400.6L168.7 398.1L168.0 395.5L167.5 392.9L175.2 391.6L175.7 393.9L176.3 396.1L177.0 398.4L177.7 400.6Z" fill="#79b1d3" stroke="#79b1d3"/>
<path d="M167.5 392.9L167.0 390.3L166.7 387.6L166.6 385.0L166.5 382.3L174.4 382.3L174.5 384.6L174.6 387.0L174.9 389.3L175.2 391.6Z" fill="#9acbe2" stroke="#9acbe2"/>
<path d="M166.5 382.3L166.6 379.6L166.7 377.0L167.0 374.3L167.5 371.7L175.2 373.0L174.9 375.3L174.6 377.6L174.5 380.0L174.4 382.3Z" fill="#5b8fc1" stroke="#5b8fc1"/>
<path d="M167.5 371.7L168.0 369.1L168.7 366.5L169.4 364.0L170.3 361.4L177.7 364.0L177.0 366.2L176.3 368.5L175.7 370.7L175.2 373.0Z" fill="#7fb5d6" stroke="#7fb5d6"/>
<path d="M170.3 361.4L171.3 358.9L172.4 356.5L173.6 354.1L175.0 351.8L181.8 355.6L180.6 357.6L179.6 359.7L178.6 361.9L177.7 364.0Z" fill="#649ac7" stroke="#649ac7"/>
<path d="M175.0 351.8L176.4 349.5L177.9 347.3L179.6 345.2L181.3 343.1L187.3 348.0L185.8 349.8L184.4 351.7L183.1 353.6L181.8 355.6Z" fill="#f0efd1" stroke="#f0efd1"/>
<path d="M181.3 343.1L183.1 341.1L185.0 339.2L187.0 337.3L189.1 335.6L194.2 341.4L192.3 342.9L190.6 344.5L188.9 346.2L187.3 348.0Z" fill="#f5ebbf" stroke="#f5ebbf"/>
<path d="M189.1 335.6L191.2 333.9L193.4 332.3L195.7 330.8L198.1 329.5L202.0 336.1L200.0 337.3L198.0 338.6L196.0 339.9L194.2 341.4Z" fill="#cbe9f2" stroke="#cbe9f2"/>
<path d="M198.1 329.5L200.5 328.2L203.0 327.0L205.5 325.9L208.1 325.0L210.8 332.1L208.5 333.0L206.3 333.9L204.2 334.9L202.0 336.1Z" fill="#c5e6f0" stroke="#c5e6f0"/>
<path d="M208.1 325.0L210.7 324.1L213.3 323.4L216.0 322.7L218.7 322.2L220.1 329.7L217.7 330.2L215.4 330.7L213.1 331.4L210.8 332.1Z" fill="#cdeaf3" stroke="#cdeaf3"/>
<path d="M218.7 322.2L221.5 321.8L224.2 321.5L226.9 321.3L229.7 321.3L229.7 328.9L227.3 329.0L224.9 329.1L222.5 329.4L220.1 329.7Z" fill="#91c4de" stroke="#91c4de"/>
<path d="M229.7 313.6L232.8 313.7L235.9 313.9L239.0 314.2L242.0 314.7L240.7 322.2L237.9 321.8L235.2 321.5L232.5 321.3L229.7 321.3Z" fill="#e6f2eb" stroke="#e6f2eb"/>
<path d="M242.0 314.7L245.1 315.3L248.1 316.0L251.1 316.8L254.0 317.8L251.3 325.0L248.7 324.1L246.1 323.4L243.4 322.7L240.7 322.2Z" fill="#96c8e0" stroke="#96c8e0"/>
<path d="M254.0 317.8L256.9 318.9L259.7 320.1L262.5 321.4L265.2 322.8L261.3 329.5L258.9 328.2L256.4 327.0L253.9 325.9L251.3 325.0Z" fill="#e9f1e3" stroke="#e9f1e3"/>
<path d="M265.2 322.8L267.9 324.4L270.5 326.1L273.0 327.8L275.4 329.7L270.3 335.6L268.2 333.9L266.0 332.3L263.7 330.8L261.3 329.5Z" fill="#d0ebf4" stroke="#d0ebf4"/>
<path d="M275.4 329.7L277.7 331.7L280.0 333.8L282.1 335.9L284.2 338.2L278.1 343.1L276.3 341.1L274.4 339.2L272.4 337.3L270.3 335.6Z" fill="#def2f7" stroke="#def2f7"/>
<path d="M284.2 338.2L286.1 340.5L287.9 342.9L289.7 345.4L291.3 348.0L284.4 351.8L283.0 349.5L281.5 347.3L279.8 345.2L278.1 343.1Z" fill="#e5f2ed" stroke="#e5f2ed"/>
<path d="M291.3 348.0L292.8 350.6L294.1 353.3L295.4 356.0L296.5 358.8L289.1 361.4L288.1 358.9L287.0 356.5L285.8 354.1L284.4 351.8Z" fill="#e3f2f0" stroke="#e3f2f0"/>
<path d="M296.5 358.8L297.5 361.7L298.4 364.5L299.1 367.4L299.7 370.4L291.9 371.7L291.4 369.1L290.7 366.5L290.0 364.0L289.1 361.4Z" fill="#f7e9b5" stroke="#f7e9b5"/>
<path d="M299.7 370.4L300.2 373.3L300.5 376.3L300.7 379.3L300.8 382.3L292.9 382.3L292.8 379.6L292.7 377.0L292.4 374.3L291.9 371.7Z" fill="#a6d5e7" stroke="#a6d5e7"/>
<path d="M300.8 382.3L300.7 385.3L300.5 388.3L300.2 391.3L299.7 394.2L291.9 392.9L292.4 390.3L292.7 387.6L292.8 385.0L292.9 382.3Z" fill="#aedaea" stroke="#aedaea"/>
<path d="M299.7 394.2L299.1 397.2L298.4 400.1L297.5 402.9L296.5 405.8L289.1 403.2L290.0 400.6L290.7 398.1L291.4 395.5L291.9 392.9Z" fill="#82b8d7" stroke="#82b8d7"/>
<path d="M296.5 405.8L295.4 408.6L294.1 411.3L292.8 414.0L291.3 416.6L284.4 412.8L285.8 410.5L287.0 408.1L288.1 405.7L289.1 403.2Z" fill="#e7f1e8" stroke="#e7f1e8"/>
<path d="M291.3 416.6L289.7 419.2L287.9 421.7L286.1 424.1L284.2 426.4L278.1 421.5L279.8 419.4L281.5 417.3L283.0 415.1L284.4 412.8Z" fill="#d1ecf4" stroke="#d1ecf4"/>
<path d="M284.2 426.4L282.1 428.7L280.0 430.8L277.7 432.9L275.4 434.9L270.3 429.0L272.4 427.3L274.4 425.4L276.3 423.5L278.1 421.5Z" fill="#4b7db8" stroke="#4b7db8"/>
<path d="M275.4 434.9L273.0 436.8L270.5 438.5L267.9 440.2L265.2 441.8L261.3 435.1L263.7 433.8L266.0 432.3L268.2 430.7L270.3 429.0Z" fill="#f4ecc3" stroke="#f4ecc3"/>
<path d="M265.2 441.8L262.5 443.2L259.7 444.5L256.9 445.7L254.0 446.8L251.3 439.6L253.9 438.7L256.4 437.6L258.9 436.4L261.3 435.1Z" fill="#cdeaf3" stroke="#cdeaf3"/>
<path d="M254.0 446.8L251.1 447.8L248.1 448.6L245.1 449.3L242.0 449.9L240.7 442.4L243.4 441.9L246.1 441.2L248.7 440.5L251.3 439.6Z" fill="#8dc1dc" stroke="#8dc1dc"/>
<path d="M242.0 449.9L239.0 450.4L235.9 450.7L232.8 450.9L229.7 451.0L229.7 443.3L232.5 443.3L235.2 443.1L237.9 442.8L240.7 442.4Z" fill="#8bc0db" stroke="#8bc0db"/>
<path d="M229.7 451.0L226.6 450.9L223.5 450.7L220.4 450.4L217.4 449.9L218.7 442.4L221.5 442.8L224.2 443.1L226.9 443.3L229.7 443.3Z" fill="#fedc8d" stroke="#fedc8d"/>
<path d="M217.4 449.9L214.3 449.3L211.3 448.6L208.3 447.8L205.4 446.8L208.1 439.6L210.7 440.5L213.3 441.2L216.0 441.9L218.7 442.4Z" fill="#c0e3ef" stroke="#c0e3ef"/>
<path d="M205.4 446.8L202.5 445.7L199.7 444.5L196.9 443.2L194.1 441.8L198.1 435.1L200.5 436.4L203.0 437.6L205.5 438.7L208.1 439.6Z" fill="#f2eece" stroke="#f2eece"/>
<path d="M194.1 441.8L191.5 440.2L188.9 438.5L186.4 436.8L184.0 434.9L189.1 429.0L191.2 430.7L193.4 432.3L195.7 433.8L198.1 435.1Z" fill="#f8e7af" stroke="#f8e7af"/>
<path d="M184.0 434.9L181.7 432.9L179.4 430.8L177.3 428.7L175.2 426.4L181.3 421.5L183.1 423.5L185.0 425.4L187.0 427.3L189.1 429.0Z" fill="#e6f1ea" stroke="#e6f1ea"/>
<path d="M175.2 426.4L173.3 424.1L171.5 421.7L169.7 419.2L168.1 416.6L175.0 412.8L176.4 415.1L177.9 417.3L179.6 419.4L181.3 421.5Z" fill="#c9e7f1" stroke="#c9e7f1"/>
<path d="M168.1 416.6L166.6 414.0L165.3 411.3L164.0 408.6L162.9 405.8L170.3 403.2L171.3 405.7L172.4 408.1L173.6 410.5L175.0 412.8Z" fill="#90c3dd" stroke="#90c3dd"/>
<path d="M162.9 405.8L161.9 402.9L161.0 400.1L160.3 397.2L159.7 394.2L167.5 392.9L168.0 395.5L168.7 398.1L169.4 400.6L170.3 403.2Z" fill="#9acbe2" stroke="#9acbe2"/>
<path d="M159.7 394.2L159.2 391.3L158.9 388.3L158.7 385.3L158.6 382.3L166.5 382.3L166.6 385.0L166.7 387.6L167.0 390.3L167.5 392.9Z" fill="#e8f1e5" stroke="#e8f1e5"/>
<path d="M158.6 382.3L158.7 379.3L158.9 376.3L159.2 373.3L159.7 370.4L167.5 371.7L167.0 374.3L166.7 377.0L166.6 379.6L166.5 382.3Z" fill="#71aacf" stroke="#71aacf"/>
<path d="M159.7 370.4L160.3 367.4L161.0 364.5L161.9 361.7L162.9 358.8L170.3 361.4L169.4 364.0L168.7 366.5L168.0 369.1L167.5 371.7Z" fill="#4676b5" stroke="#4676b5"/>
<path d="M162.9 358.8L164.0 356.0L165.3 353.3L166.6 350.6L168.1 348.0L175.0 351.8L173.6 354.1L172.4 356.5L171.3 358.9L170.3 361.4Z" fill="#bbe1ed" stroke="#bbe1ed"/>
<path d="M168.1 348.0L169.7 345.4L171.5 342.9L173.3 340.5L175.2 338.2L181.3 343.1L179.6 345.2L177.9 347.3L176.4 349.5L175.0 351.8Z" fill="#edf0da" stroke="#edf0da"/>
<path d="M175.2 338.2L177.3 335.9L179.4 333.8L181.7 331.7L184.0 329.7L189.1 335.6L187.0 337.3L185.0 339.2L183.1 341.1L181.3 343.1Z" fill="#e5f2eb" stroke="#e5f2eb"/>
<path d="M184.0 329.7L186.4 327.8L188.9 326.1L191.5 324.4L194.1 322.8L198.1 329.5L195.7 330.8L193.4 332.3L191.2 333.9L189.1 335.6Z" fill="#80b7d6" stroke="#80b7d6"/>
<path d="M194.1 322.8L196.9 321.4L199.7 320.1L202.5 318.9L205.4 317.8L208.1 325.0L205.5 325.9L203.0 327.0L200.5 328.2L198.1 329.5Z" fill="#eeefd6" stroke="#eeefd6"/>
<path d="M205.4 317.8L208.3 316.8L211.3 316.0L214.3 315.3L217.4 314.7L218.7 322.2L216.0 322.7L213.3 323.4L210.7 324.1L208.1 325.0Z" fill="#92c5de" stroke="#92c5de"/>
<path d="M217.4 314.7L220.4 314.2L223.5 313.9L226.6 313.7L229.7 313.6L229.7 321.3L226.9 321.3L224.2 321.5L221.5 321.8L218.7 322.2Z" fill="#a6d5e7" stroke="#a6d5e7"/>
<path d="M229.7 306.0L233.1 306.1L236.6 306.3L235.9 313.9L232.8 313.7L229.7 313.6Z" fill="#efefd5" stroke="#efefd5"/>
<path d="M236.6 306.3L240.0 306.7L243.4 307.2L242.0 314.7L239.0 314.2L235.9 313.9Z" fill="#eaf0e0" stroke="#eaf0e0"/>
<path d="M243.4 307.2L246.8 307.8L250.1 308.6L248.1 316.0L245.1 315.3L242.0 314.7Z" fill="#c0e3ef" stroke="#c0e3ef"/>
<path d="M250.1 308.6L253.5 309.6L256.7 310.6L254.0 317.8L251.1 316.8L248.1 316.0Z" fill="#8abedb" stroke="#8abedb"/>
<path d="M256.7 310.6L259.9 311.8L263.1 313.2L259.7 320.1L256.9 318.9L254.0 317.8Z" fill="#f6eabc" stroke="#f6eabc"/>
<path d="M263.1 313.2L266.2 314.6L269.2 316.2L265.2 322.8L262.5 321.4L259.7 320.1Z" fill="#f7e9b6" stroke="#f7e9b6"/>
<path d="M269.2 316.2L272.1 318.0L275.0 319.8L270.5 326.1L267.9 324.4L265.2 322.8Z" fill="#bfe3ef" stroke="#bfe3ef"/>
<path d="M275.0 319.8L277.8 321.8L280.5 323.9L275.4 329.7L273.0 327.8L270.5 326.1Z" fill="#d0ebf3" stroke="#d0ebf3"/>
<path d="M280.5 323.9L283.1 326.1L285.6 328.4L280.0 333.8L277.7 331.7L275.4 329.7Z" fill="#e3f2f2" stroke="#e3f2f2"/>
<path d="M285.6 328.4L287.9 330.8L290.2 333.3L284.2 338.2L282.1 335.9L280.0 333.8Z" fill="#f2eecd" stroke="#f2eecd"/>
<path d="M290.2 333.3L292.4 335.9L294.4 338.5L287.9 342.9L286.1 340.5L284.2 338.2Z" fill="#9acce2" stroke="#9acce2"/>
<path d="M294.4 338.5L296.3 341.3L298.1 344.2L291.3 348.0L289.7 345.4L287.9 342.9Z" fill="#689ec9" stroke="#689ec9"/>
<path d="M298.1 344.2L299.8 347.1L301.3 350.1L294.1 353.3L292.8 350.6L291.3 348.0Z" fill="#b4deec" stroke="#b4deec"/>
<path d="M301.3 350.1L302.7 353.1L303.9 356.2L296.5 358.8L295.4 356.0L294.1 353.3Z" fill="#e5f2ed" stroke="#e5f2ed"/>
<path d="M303.9 356.2L305.0 359.4L306.0 362.6L298.4 364.5L297.5 361.7L296.5 358.8Z" fill="#fed98a" stroke="#fed98a"/>
<path d="M306.0 362.6L306.8 365.8L307.5 369.1L299.7 370.4L299.1 367.4L298.4 364.5Z" fill="#fce29a" stroke="#fce29a"/>
<path d="M307.5 369.1L308.0 372.3L308.4 375.7L300.5 376.3L300.2 373.3L299.7 370.4Z" fill="#dbf1f7" stroke="#dbf1f7"/>
<path d="M308.4 375.7L308.6 379.0L308.7 382.3L300.8 382.3L300.7 379.3L300.5 376.3Z" fill="#c0e3ef" stroke="#c0e3ef"/>
<path d="M308.7 382.3L308.6 385.6L308.4 388.9L300.5 388.3L300.7 385.3L300.8 382.3Z" fill="#90c3dd" stroke="#90c3dd"/>
<path d="M308.4 388.9L308.0 392.3L307.5 395.5L299.7 394.2L300.2 391.3L300.5 388.3Z" fill="#9dcee3" stroke="#9dcee3"/>
<path d="M307.5 395.5L306.8 398.8L306.0 402.0L298.4 400.1L299.1 397.2L299.7 394.2Z" fill="#79b1d3" stroke="#79b1d3"/>
<path d="M306.0 402.0L305.0 405.2L303.9 408.4L296.5 405.8L297.5 402.9L298.4 400.1Z" fill="#f0efd3" stroke="#f0efd3"/>
<path d="M303.9 408.4L302.7 411.5L301.3 414.5L294.1 411.3L295.4 408.6L296.5 405.8Z" fill="#f9e7ac" stroke="#f9e7ac"/>
<path d="M301.3 414.5L299.8 417.5L298.1 420.4L291.3 416.6L292.8 414.0L294.1 411.3Z" fill="#96c9e0" stroke="#96c9e0"/>
<path d="M298.1 420.4L296.3 423.3L294.4 426.1L287.9 421.7L289.7 419.2L291.3 416.6Z" fill="#ecf0dc" stroke="#ecf0dc"/>
<path d="M294.4 426.1L292.4 428.7L290.2 431.3L284.2 426.4L286.1 424.1L287.9 421.7Z" fill="#c7e7f1" stroke="#c7e7f1"/>
<path d="M290.2 431.3L287.9 433.8L285.6 436.2L280.0 430.8L282.1 428.7L284.2 426.4Z" fill="#4168ae" stroke="#4168ae"/>
<path d="M285.6 436.2L283.1 438.5L280.5 440.7L275.4 434.9L277.7 432.9L280.0 430.8Z" fill="#426caf" stroke="#426caf"/>
<path d="M280.5 440.7L277.8 442.8L275.0 444.8L270.5 438.5L273.0 436.8L275.4 434.9Z" fill="#d9f0f6" stroke="#d9f0f6"/>
<path d="M275.0 444.8L272.1 446.6L269.2 448.4L265.2 441.8L267.9 440.2L270.5 438.5Z" fill="#f7e8b3" stroke="#f7e8b3"/>
<path d="M269.2 448.4L266.2 450.0L263.1 451.4L259.7 444.5L262.5 443.2L265.2 441.8Z" fill="#e5f2ec" stroke="#e5f2ec"/>
<path d="M263.1 451.4L259.9 452.8L256.7 454.0L254.0 446.8L256.9 445.7L259.7 444.5Z" fill="#b7dfec" stroke="#b7dfec"/>
<path d="M256.7 454.0L253.5 455.0L250.1 456.0L248.1 448.6L251.1 447.8L254.0 446.8Z" fill="#bce1ee" stroke="#bce1ee"/>
<path d="M250.1 456.0L246.8 456.8L243.4 457.4L242.0 449.9L245.1 449.3L248.1 448.6Z" fill="#dbf1f7" stroke="#dbf1f7"/>
<path d="M243.4 457.4L240.0 457.9L236.6 458.3L235.9 450.7L239.0 450.4L242.0 449.9Z" fill="#e8f1e4" stroke="#e8f1e4"/>
<path d="M236.6 458.3L233.1 458.5L229.7 458.6L229.7 451.0L232.8 450.9L235.9 450.7Z" fill="#fde194" stroke="#fde194"/>
<path d="M229.7 458.6L226.3 458.5L222.8 458.3L223.5 450.7L226.6 450.9L229.7 451.0Z" fill="#fece7f" stroke="#fece7f"/>
<path d="M222.8 458.3L219.4 457.9L216.0 457.4L217.4 449.9L220.4 450.4L223.5 450.7Z" fill="#8dc1dc" stroke="#8dc1dc"/>
<path d="M216.0 457.4L212.6 456.8L209.3 456.0L211.3 448.6L214.3 449.3L217.4 449.9Z" fill="#426baf" stroke="#426baf"/>
<path d="M209.3 456.0L205.9 455.0L202.7 454.0L205.4 446.8L208.3 447.8L211.3 448.6Z" fill="#dff3f8" stroke="#dff3f8"/>
<path d="M202.7 454.0L199.5 452.8L196.3 451.4L199.7 444.5L202.5 445.7L205.4 446.8Z" fill="#edf0da" stroke="#edf0da"/>
<path d="M196.3 451.4L193.2 450.0L190.2 448.4L194.1 441.8L196.9 443.2L199.7 444.5Z" fill="#fbe4a3" stroke="#fbe4a3"/>
<path d="M190.2 448.4L187.3 446.6L184.4 444.8L188.9 438.5L191.5 440.2L194.1 441.8Z" fill="#fae5a5" stroke="#fae5a5"/>
<path d="M184.4 444.8L181.6 442.8L178.9 440.7L184.0 434.9L186.4 436.8L188.9 438.5Z" fill="#e8f1e5" stroke="#e8f1e5"/>
<path d="M178.9 440.7L176.3 438.5L173.8 436.2L179.4 430.8L181.7 432.9L184.0 434.9Z" fill="#6ca4cc" stroke="#6ca4cc"/>
<path d="M173.8 436.2L171.5 433.8L169.2 431.3L175.2 426.4L177.3 428.7L179.4 430.8Z" fill="#a4d4e6" stroke="#a4d4e6"/>
<path d="M169.2 431.3L167.0 428.7L165.0 426.1L171.5 421.7L173.3 424.1L175.2 426.4Z" fill="#aedbea" stroke="#aedbea"/>
<path d="M165.0 426.1L163.1 423.3L161.3 420.4L168.1 416.6L169.7 419.2L171.5 421.7Z" fill="#f7e9b6" stroke="#f7e9b6"/>
<path d="M161.3 420.4L159.6 417.5L158.1 414.5L165.3 411.3L166.6 414.0L168.1 416.6Z" fill="#c3e5f0" stroke="#c3e5f0"/>
<path d="M158.1 414.5L156.7 411.5L155.5 408.4L162.9 405.8L164.0 408.6L165.3 411.3Z" fill="#cdeaf3" stroke="#cdeaf3"/>
<path d="M155.5 408.4L154.4 405.2L153.4 402.0L161.0 400.1L161.9 402.9L162.9 405.8Z" fill="#d7eef5" stroke="#d7eef5"/>
<path d="M153.4 402.0L152.6 398.8L151.9 395.5L159.7 394.2L160.3 397.2L161.0 400.1Z" fill="#82b8d7" stroke="#82b8d7"/>
<path d="M151.9 395.5L151.4 392.3L151.0 388.9L158.9 388.3L159.2 391.3L159.7 394.2Z" fill="#e6f2eb" stroke="#e6f2eb"/>
<path d="M151.0 388.9L150.8 385.6L150.7 382.3L158.6 382.3L158.7 385.3L158.9 388.3Z" fill="#e5f2ec" stroke="#e5f2ec"/>
<path d="M150.7 382.3L150.8 379.0L151.0 375.7L158.9 376.3L158.7 379.3L158.6 382.3Z" fill="#94c6df" stroke="#94c6df"/>
<path d="M151.0 375.7L151.4 372.3L151.9 369.1L159.7 370.4L159.2 373.3L158.9 376.3Z" fill="#bfe3ef" stroke="#bfe3ef"/>
<path d="M151.9 369.1L152.6 365.8L153.4 362.6L161.0 364.5L160.3 367.4L159.7 370.4Z" fill="#aad8e9" stroke="#aad8e9"/>
<path d="M153.4 362.6L154.4 359.4L155.5 356.2L162.9 358.8L161.9 361.7L161.0 364.5Z" fill="#71aacf" stroke="#71aacf"/>
<path d="M155.5 356.2L156.7 353.1L158.1 350.1L165.3 353.3L164.0 356.0L162.9 358.8Z" fill="#5183bb" stroke="#5183bb"/>
<path d="M158.1 350.1L159.6 347.1L161.3 344.2L168.1 348.0L166.6 350.6L165.3 353.3Z" fill="#d7eef5" stroke="#d7eef5"/>
<path d="M161.3 344.2L163.1 341.3L165.0 338.5L171.5 342.9L169.7 345.4L168.1 348.0Z" fill="#f9e6a9" stroke="#f9e6a9"/>
<path d="M165.0 338.5L167.0 335.9L169.2 333.3L175.2 338.2L173.3 340.5L171.5 342.9Z" fill="#f8e8b3" stroke="#f8e8b3"/>
<path d="M169.2 333.3L171.5 330.8L173.8 328.4L179.4 333.8L177.3 335.9L175.2 338.2Z" fill="#ceeaf3" stroke="#ceeaf3"/>
<path d="M173.8 328.4L176.3 326.1L178.9 323.9L184.0 329.7L181.7 331.7L179.4 333.8Z" fill="#f4ecc4" stroke="#f4ecc4"/>
<path d="M178.9 323.9L181.6 321.8L184.4 319.8L188.9 326.1L186.4 327.8L184.0 329.7Z" fill="#d8eff6" stroke="#d8eff6"/>
<path d="M184.4 319.8L187.3 318.0L190.2 316.2L194.1 322.8L191.5 324.4L188.9 326.1Z" fill="#82b9d7" stroke="#82b9d7"/>
<path d="M190.2 316.2L193.2 314.6L196.3 313.2L199.7 320.1L196.9 321.4L194.1 322.8Z" fill="#4d7eb9" stroke="#4d7eb9"/>
<path d="M196.3 313.2L199.5 311.8L202.7 310.6L205.4 317.8L202.5 318.9L199.7 320.1Z" fill="#f6eabb" stroke="#f6eabb"/>
<path d="M202.7 310.6L205.9 309.6L209.3 308.6L211.3 316.0L208.3 316.8L205.4 317.8Z" fill="#e4f2ee" stroke="#e4f2ee"/>
<path d="M209.3 308.6L212.6 307.8L216.0 307.2L217.4 314.7L214.3 315.3L211.3 316.0Z" fill="#b2dceb" stroke="#b2dceb"/>
<path d="M216.0 307.2L219.4 306.7L222.8 306.3L223.5 313.9L220.4 314.2L217.4 314.7Z" fill="#d8eff6" stroke="#d8eff6"/>
<path d="M222.8 306.3L226.3 306.1L229.7 306.0L229.7 313.6L226.6 313.7L223.5 313.9Z" fill="#daf0f6" stroke="#daf0f6"/>
<path d="M229.7 298.4L233.5 298.5L237.3 298.7L236.6 306.3L233.1 306.1L229.7 306.0Z" fill="#f6eab9" stroke="#f6eab9"/>
<path d="M237.3 298.7L241.0 299.1L244.8 299.7L243.4 307.2L240.0 306.7L236.6 306.3Z" fill="#f8e7ae" stroke="#f8e7ae"/>
<path d="M244.8 299.7L248.5 300.4L252.2 301.3L250.1 308.6L246.8 307.8L243.4 307.2Z" fill="#80b7d6" stroke="#80b7d6"/>
<path d="M252.2 301.3L255.8 302.3L259.4 303.5L256.7 310.6L253.5 309.6L250.1 308.6Z" fill="#81b7d6" stroke="#81b7d6"/>
<path d="M259.4 303.5L263.0 304.8L266.4 306.3L263.1 313.2L259.9 311.8L256.7 310.6Z" fill="#fce39c" stroke="#fce39c"/>
<path d="M266.4 306.3L269.8 307.9L273.1 309.6L269.2 316.2L266.2 314.6L263.1 313.2Z" fill="#fae5a4" stroke="#fae5a4"/>
<path d="M273.1 309.6L276.4 311.5L279.5 313.6L275.0 319.8L272.1 318.0L269.2 316.2Z" fill="#e0f3f8" stroke="#e0f3f8"/>
<path d="M279.5 313.6L282.6 315.7L285.6 318.0L280.5 323.9L277.8 321.8L275.0 319.8Z" fill="#b1dceb" stroke="#b1dceb"/>
<path d="M285.6 318.0L288.4 320.4L291.1 323.0L285.6 328.4L283.1 326.1L280.5 323.9Z" fill="#ebf0dd" stroke="#ebf0dd"/>
<path d="M291.1 323.0L293.8 325.6L296.3 328.4L290.2 333.3L287.9 330.8L285.6 328.4Z" fill="#f3eecc" stroke="#f3eecc"/>
<path d="M296.3 328.4L298.6 331.2L300.9 334.2L294.4 338.5L292.4 335.9L290.2 333.3Z" fill="#d4edf5" stroke="#d4edf5"/>
<path d="M300.9 334.2L303.0 337.2L305.0 340.3L298.1 344.2L296.3 341.3L294.4 338.5Z" fill="#9fcfe4" stroke="#9fcfe4"/>
<path d="M305.0 340.3L306.8 343.6L308.5 346.8L301.3 350.1L299.8 347.1L298.1 344.2Z" fill="#9acce2" stroke="#9acce2"/>
<path d="M308.5 346.8L310.0 350.2L311.4 353.6L303.9 356.2L302.7 353.1L301.3 350.1Z" fill="#e5f2ed" stroke="#e5f2ed"/>
<path d="M311.4 353.6L312.6 357.1L313.6 360.6L306.0 362.6L305.0 359.4L303.9 356.2Z" fill="#f9e7ad" stroke="#f9e7ad"/>
<path d="M313.6 360.6L314.5 364.1L315.3 367.7L307.5 369.1L306.8 365.8L306.0 362.6Z" fill="#fdc072" stroke="#fdc072"/>
<path d="M315.3 367.7L315.9 371.3L316.3 375.0L308.4 375.7L308.0 372.3L307.5 369.1Z" fill="#fde194" stroke="#fde194"/>
<path d="M316.3 375.0L316.5 378.6L316.6 382.3L308.7 382.3L308.6 379.0L308.4 375.7Z" fill="#d1ecf4" stroke="#d1ecf4"/>
<path d="M316.6 382.3L316.5 386.0L316.3 389.6L308.4 388.9L308.6 385.6L308.7 382.3Z" fill="#8fc2dd" stroke="#8fc2dd"/>
<path d="M316.3 389.6L315.9 393.3L315.3 396.9L307.5 395.5L308.0 392.3L308.4 388.9Z" fill="#92c5de" stroke="#92c5de"/>
<path d="M315.3 396.9L314.5 400.5L313.6 404.0L306.0 402.0L306.8 398.8L307.5 395.5Z" fill="#76afd2" stroke="#76afd2"/>
<path d="M313.6 404.0L312.6 407.5L311.4 411.0L303.9 408.4L305.0 405.2L306.0 402.0Z" fill="#e8f1e5" stroke="#e8f1e5"/>
<path d="M311.4 411.0L310.0 414.4L308.5 417.8L301.3 414.5L302.7 411.5L303.9 408.4Z" fill="#f9e6aa" stroke="#f9e6aa"/>
<path d="M308.5 417.8L306.8 421.0L305.0 424.3L298.1 420.4L299.8 417.5L301.3 414.5Z" fill="#b9e0ed" stroke="#b9e0ed"/>
<path d="M305.0 424.3L303.0 427.4L300.9 430.4L294.4 426.1L296.3 423.3L298.1 420.4Z" fill="#e5f2ec" stroke="#e5f2ec"/>
<path d="M300.9 430.4L298.6 433.4L296.3 436.2L290.2 431.3L292.4 428.7L294.4 426.1Z" fill="#d3ecf4" stroke="#d3ecf4"/>
<path d="M296.3 436.2L293.8 439.0L291.1 441.6L285.6 436.2L287.9 433.8L290.2 431.3Z" fill="#4066ac" stroke="#4066ac"/>
<path d="M291.1 441.6L288.4 444.2L285.6 446.6L280.5 440.7L283.1 438.5L285.6 436.2Z" fill="#4471b2" stroke="#4471b2"/>
<path d="M285.6 446.6L282.6 448.9L279.5 451.0L275.0 444.8L277.8 442.8L280.5 440.7Z" fill="#a8d7e8" stroke="#a8d7e8"/>
<path d="M279.5 451.0L276.4 453.1L273.1 455.0L269.2 448.4L272.1 446.6L275.0 444.8Z" fill="#fbe4a3" stroke="#fbe4a3"/>
<path d="M273.1 455.0L269.8 456.7L266.4 458.3L263.1 451.4L266.2 450.0L269.2 448.4Z" fill="#f0efd3" stroke="#f0efd3"/>
<path d="M266.4 458.3L263.0 459.8L259.4 461.1L256.7 454.0L259.9 452.8L263.1 451.4Z" fill="#daf0f6" stroke="#daf0f6"/>
<path d="M259.4 461.1L255.8 462.3L252.2 463.3L250.1 456.0L253.5 455.0L256.7 454.0Z" fill="#cae8f2" stroke="#cae8f2"/>
<path d="M252.2 463.3L248.5 464.2L244.8 464.9L243.4 457.4L246.8 456.8L250.1 456.0Z" fill="#e0f3f8" stroke="#e0f3f8"/>
<path d="M244.8 464.9L241.0 465.5L237.3 465.9L236.6 458.3L240.0 457.9L243.4 457.4Z" fill="#f6eab9" stroke="#f6eab9"/>
<path d="M237.3 465.9L233.5 466.1L229.7 466.2L229.7 458.6L233.1 458.5L236.6 458.3Z" fill="#fed989" stroke="#fed989"/>
<path d="M229.7 466.2L225.9 466.1L222.1 465.9L222.8 458.3L226.3 458.5L229.7 458.6Z" fill="#fed081" stroke="#fed081"/>
<path d="M222.1 465.9L218.4 465.5L214.6 464.9L216.0 457.4L219.4 457.9L222.8 458.3Z" fill="#5082bb" stroke="#5082bb"/>
<path d="M214.6 464.9L210.9 464.2L207.2 463.3L209.3 456.0L212.6 456.8L216.0 457.4Z" fill="#4473b3" stroke="#4473b3"/>
<path d="M207.2 463.3L203.6 462.3L200.0 461.1L202.7 454.0L205.9 455.0L209.3 456.0Z" fill="#f3eecb" stroke="#f3eecb"/>
<path d="M200.0 461.1L196.4 459.8L193.0 458.3L196.3 451.4L199.5 452.8L202.7 454.0Z" fill="#edf0da" stroke="#edf0da"/>
<path d="M193.0 458.3L189.6 456.7L186.2 455.0L190.2 448.4L193.2 450.0L196.3 451.4Z" fill="#f9e6ab" stroke="#f9e6ab"/>
<path d="M186.2 455.0L183.0 453.1L179.9 451.0L184.4 444.8L187.3 446.6L190.2 448.4Z" fill="#f5ecc2" stroke="#f5ecc2"/>
<path d="M179.9 451.0L176.8 448.9L173.8 446.6L178.9 440.7L181.6 442.8L184.4 444.8Z" fill="#e2f3f4" stroke="#e2f3f4"/>
<path d="M173.8 446.6L171.0 444.2L168.3 441.6L173.8 436.2L176.3 438.5L178.9 440.7Z" fill="#5a8ec1" stroke="#5a8ec1"/>
<path d="M168.3 441.6L165.6 439.0L163.1 436.2L169.2 431.3L171.5 433.8L173.8 436.2Z" fill="#4676b5" stroke="#4676b5"/>
<path d="M163.1 436.2L160.8 433.4L158.5 430.4L165.0 426.1L167.0 428.7L169.2 431.3Z" fill="#ddf1f7" stroke="#ddf1f7"/>
<path d="M158.5 430.4L156.4 427.4L154.4 424.3L161.3 420.4L163.1 423.3L165.0 426.1Z" fill="#f7e8b3" stroke="#f7e8b3"/>
<path d="M154.4 424.3L152.6 421.0L150.9 417.8L158.1 414.5L159.6 417.5L161.3 420.4Z" fill="#e2f2f2" stroke="#e2f2f2"/>
<path d="M150.9 417.8L149.4 414.4L148.0 411.0L155.5 408.4L156.7 411.5L158.1 414.5Z" fill="#e8f1e5" stroke="#e8f1e5"/>
<path d="M148.0 411.0L146.8 407.5L145.8 404.0L153.4 402.0L154.4 405.2L155.5 408.4Z" fill="#e1f3f6" stroke="#e1f3f6"/>
<path d="M145.8 404.0L144.9 400.5L144.1 396.9L151.9 395.5L152.6 398.8L153.4 402.0Z" fill="#89beda" stroke="#89beda"/>
<path d="M144.1 396.9L143.5 393.3L143.1 389.6L151.0 388.9L151.4 392.3L151.9 395.5Z" fill="#f4edc7" stroke="#f4edc7"/>
<path d="M143.1 389.6L142.9 386.0L142.8 382.3L150.7 382.3L150.8 385.6L151.0 388.9Z" fill="#e6f1ea" stroke="#e6f1ea"/>
<path d="M142.8 382.3L142.9 378.6L143.1 375.0L151.0 375.7L150.8 379.0L150.7 382.3Z" fill="#d6eef5" stroke="#d6eef5"/>
<path d="M143.1 375.0L143.5 371.3L144.1 367.7L151.9 369.1L151.4 372.3L151.0 375.7Z" fill="#e6f1ea" stroke="#e6f1ea"/>
<path d="M144.1 367.7L144.9 364.1L145.8 360.6L153.4 362.6L152.6 365.8L151.9 369.1Z" fill="#fae5a6" stroke="#fae5a6"/>
<path d="M145.8 360.6L146.8 357.1L148.0 353.6L155.5 356.2L154.4 359.4L153.4 362.6Z" fill="#a0d0e4" stroke="#a0d0e4"/>
<path d="M148.0 353.6L149.4 350.2L150.9 346.8L158.1 350.1L156.7 353.1L155.5 356.2Z" fill="#94c7df" stroke="#94c7df"/>
<path d="M150.9 346.8L152.6 343.6L154.4 340.3L161.3 344.2L159.6 347.1L158.1 350.1Z" fill="#e6f1ea" stroke="#e6f1ea"/>
<path d="M154.4 340.3L156.4 337.2L158.5 334.2L165.0 338.5L163.1 341.3L161.3 344.2Z" fill="#efefd5" stroke="#efefd5"/>
<path d="M158.5 334.2L160.8 331.2L163.1 328.4L169.2 333.3L167.0 335.9L165.0 338.5Z" fill="#d1ecf4" stroke="#d1ecf4"/>
<path d="M163.1 328.4L165.6 325.6L168.3 323.0L173.8 328.4L171.5 330.8L169.2 333.3Z" fill="#d6eef5" stroke="#d6eef5"/>
<path d="M168.3 323.0L171.0 320.4L173.8 318.0L178.9 323.9L176.3 326.1L173.8 328.4Z" fill="#fee091" stroke="#fee091"/>
<path d="M173.8 318.0L176.8 315.7L179.9 313.6L184.4 319.8L181.6 321.8L178.9 323.9Z" fill="#f4edc6" stroke="#f4edc6"/>
<path d="M179.9 313.6L183.0 311.5L186.2 309.6L190.2 316.2L187.3 318.0L184.4 319.8Z" fill="#5588be" stroke="#5588be"/>
<path d="M186.2 309.6L189.6 307.9L193.0 306.3L196.3 313.2L193.2 314.6L190.2 316.2Z" fill="#7cb4d5" stroke="#7cb4d5"/>
<path d="M193.0 306.3L196.4 304.8L200.0 303.5L202.7 310.6L199.5 311.8L196.3 313.2Z" fill="#f7e9b5" stroke="#f7e9b5"/>
<path d="M200.0 303.5L203.6 302.3L207.2 301.3L209.3 308.6L205.9 309.6L202.7 310.6Z" fill="#e7f1e8" stroke="#e7f1e8"/>
<path d="M207.2 301.3L210.9 300.4L214.6 299.7L216.0 307.2L212.6 307.8L209.3 308.6Z" fill="#6ea5cd" stroke="#6ea5cd"/>
<path d="M214.6 299.7L218.4 299.1L222.1 298.7L222.8 306.3L219.4 306.7L216.0 307.2Z" fill="#e3f2f2" stroke="#e3f2f2"/>
<path d="M222.1 298.7L225.9 298.5L229.7 298.4L229.7 306.0L226.3 306.1L222.8 306.3Z" fill="#dff3f8" stroke="#dff3f8"/>
<path d="M229.7 290.8L233.8 290.9L238.0 291.1L237.3 298.7L233.5 298.5L229.7 298.4Z" fill="#f7e9b4" stroke="#f7e9b4"/>
<path d="M238.0 291.1L242.1 291.5L246.2 292.2L244.8 299.7L241.0 299.1L237.3 298.7Z" fill="#f5ecc2" stroke="#f5ecc2"/>
<path d="M246.2 292.2L250.2 292.9L254.2 293.9L252.2 301.3L248.5 300.4L244.8 299.7Z" fill="#e0f3f7" stroke="#e0f3f7"/>
<path d="M254.2 293.9L258.2 295.0L262.1 296.3L259.4 303.5L255.8 302.3L252.2 301.3Z" fill="#94c7df" stroke="#94c7df"/>
<path d="M262.1 296.3L266.0 297.7L269.8 299.3L266.4 306.3L263.0 304.8L259.4 303.5Z" fill="#fde195" stroke="#fde195"/>
<path d="M269.8 299.3L273.5 301.1L277.1 303.0L273.1 309.6L269.8 307.9L266.4 306.3Z" fill="#f5ebbf" stroke="#f5ebbf"/>
<path d="M277.1 303.0L280.6 305.1L284.1 307.3L279.5 313.6L276.4 311.5L273.1 309.6Z" fill="#e2f3f4" stroke="#e2f3f4"/>
<path d="M284.1 307.3L287.4 309.7L290.6 312.2L285.6 318.0L282.6 315.7L279.5 313.6Z" fill="#89beda" stroke="#89beda"/>
<path d="M290.6 312.2L293.7 314.8L296.7 317.6L291.1 323.0L288.4 320.4L285.6 318.0Z" fill="#e8f1e4" stroke="#e8f1e4"/>
<path d="M296.7 317.6L299.6 320.5L302.3 323.5L296.3 328.4L293.8 325.6L291.1 323.0Z" fill="#fede8e" stroke="#fede8e"/>
<path d="M302.3 323.5L304.9 326.6L307.4 329.8L300.9 334.2L298.6 331.2L296.3 328.4Z" fill="#e8f1e5" stroke="#e8f1e5"/>
<path d="M307.4 329.8L309.7 333.1L311.8 336.5L305.0 340.3L303.0 337.2L300.9 334.2Z" fill="#a8d6e8" stroke="#a8d6e8"/>
<path d="M311.8 336.5L313.8 340.0L315.6 343.6L308.5 346.8L306.8 343.6L305.0 340.3Z" fill="#83b9d7" stroke="#83b9d7"/>
<path d="M315.6 343.6L317.3 347.3L318.8 351.0L311.4 353.6L310.0 350.2L308.5 346.8Z" fill="#bae0ed" stroke="#bae0ed"/>
<path d="M318.8 351.0L320.1 354.8L321.3 358.6L313.6 360.6L312.6 357.1L311.4 353.6Z" fill="#daf0f6" stroke="#daf0f6"/>
<path d="M321.3 358.6L322.3 362.5L323.1 366.4L315.3 367.7L314.5 364.1L313.6 360.6Z" fill="#fdbe70" stroke="#fdbe70"/>
<path d="M323.1 366.4L323.7 370.4L324.1 374.3L316.3 375.0L315.9 371.3L315.3 367.7Z" fill="#fbe39d" stroke="#fbe39d"/>
<path d="M324.1 374.3L324.4 378.3L324.5 382.3L316.6 382.3L316.5 378.6L316.3 375.0Z" fill="#c5e6f0" stroke="#c5e6f0"/>
<path d="M324.5 382.3L324.4 386.3L324.1 390.3L316.3 389.6L316.5 386.0L316.6 382.3Z" fill="#8dc1dc" stroke="#8dc1dc"/>
<path d="M324.1 390.3L323.7 394.2L323.1 398.2L315.3 396.9L315.9 393.3L316.3 389.6Z" fill="#75aed2" stroke="#75aed2"/>
<path d="M323.1 398.2L322.3 402.1L321.3 406.0L313.6 404.0L314.5 400.5L315.3 396.9Z" fill="#679ec9" stroke="#679ec9"/>
<path d="M321.3 406.0L320.1 409.8L318.8 413.6L311.4 411.0L312.6 407.5L313.6 404.0Z" fill="#e4f2ee" stroke="#e4f2ee"/>
<path d="M318.8 413.6L317.3 417.3L315.6 421.0L308.5 417.8L310.0 414.4L311.4 411.0Z" fill="#fce298" stroke="#fce298"/>
<path d="M315.6 421.0L313.8 424.6L311.8 428.1L305.0 424.3L306.8 421.0L308.5 417.8Z" fill="#c4e5f0" stroke="#c4e5f0"/>
<path d="M311.8 428.1L309.7 431.5L307.4 434.8L300.9 430.4L303.0 427.4L305.0 424.3Z" fill="#e1f3f7" stroke="#e1f3f7"/>
<path d="M307.4 434.8L304.9 438.0L302.3 441.1L296.3 436.2L298.6 433.4L300.9 430.4Z" fill="#bae0ed" stroke="#bae0ed"/>
<path d="M302.3 441.1L299.6 444.1L296.7 447.0L291.1 441.6L293.8 439.0L296.3 436.2Z" fill="#4471b2" stroke="#4471b2"/>
<path d="M296.7 447.0L293.7 449.8L290.6 452.4L285.6 446.6L288.4 444.2L291.1 441.6Z" fill="#689ec9" stroke="#689ec9"/>
<path d="M290.6 452.4L287.4 454.9L284.1 457.3L279.5 451.0L282.6 448.9L285.6 446.6Z" fill="#77afd2" stroke="#77afd2"/>
<path d="M284.1 457.3L280.6 459.5L277.1 461.6L273.1 455.0L276.4 453.1L279.5 451.0Z" fill="#fed889" stroke="#fed889"/>
<path d="M277.1 461.6L273.5 463.5L269.8 465.3L266.4 458.3L269.8 456.7L273.1 455.0Z" fill="#e2f3f4" stroke="#e2f3f4"/>
<path d="M269.8 465.3L266.0 466.9L262.1 468.3L259.4 461.1L263.0 459.8L266.4 458.3Z" fill="#bde2ee" stroke="#bde2ee"/>
<path d="M262.1 468.3L258.2 469.6L254.2 470.7L252.2 463.3L255.8 462.3L259.4 461.1Z" fill="#abd9e9" stroke="#abd9e9"/>
<path d="M254.2 470.7L250.2 471.7L246.2 472.4L244.8 464.9L248.5 464.2L252.2 463.3Z" fill="#97c9e0" stroke="#97c9e0"/>
<path d="M246.2 472.4L242.1 473.1L238.0 473.5L237.3 465.9L241.0 465.5L244.8 464.9Z" fill="#f7e9b6" stroke="#f7e9b6"/>
<path d="M238.0 473.5L233.8 473.7L229.7 473.8L229.7 466.2L233.5 466.1L237.3 465.9Z" fill="#fdbd6f" stroke="#fdbd6f"/>
<path d="M229.7 473.8L225.6 473.7L221.4 473.5L222.1 465.9L225.9 466.1L229.7 466.2Z" fill="#fdb86a" stroke="#fdb86a"/>
<path d="M221.4 473.5L217.3 473.1L213.2 472.4L214.6 464.9L218.4 465.5L222.1 465.9Z" fill="#72abd0" stroke="#72abd0"/>
<path d="M213.2 472.4L209.2 471.7L205.2 470.7L207.2 463.3L210.9 464.2L214.6 464.9Z" fill="#6da5cd" stroke="#6da5cd"/>
<path d="M205.2 470.7L201.2 469.6L197.3 468.3L200.0 461.1L203.6 462.3L207.2 463.3Z" fill="#e4f2ee" stroke="#e4f2ee"/>
<path d="M197.3 468.3L193.4 466.9L189.6 465.3L193.0 458.3L196.4 459.8L200.0 461.1Z" fill="#eaf0e1" stroke="#eaf0e1"/>
<path d="M189.6 465.3L185.9 463.5L182.3 461.6L186.2 455.0L189.6 456.7L193.0 458.3Z" fill="#fde297" stroke="#fde297"/>
<path d="M182.3 461.6L178.8 459.5L175.3 457.3L179.9 451.0L183.0 453.1L186.2 455.0Z" fill="#fde196" stroke="#fde196"/>
<path d="M175.3 457.3L172.0 454.9L168.8 452.4L173.8 446.6L176.8 448.9L179.9 451.0Z" fill="#f0efd1" stroke="#f0efd1"/>
<path d="M168.8 452.4L165.7 449.8L162.7 447.0L168.3 441.6L171.0 444.2L173.8 446.6Z" fill="#b0dceb" stroke="#b0dceb"/>
<path d="M162.7 447.0L159.8 444.1L157.1 441.1L163.1 436.2L165.6 439.0L168.3 441.6Z" fill="#73acd0" stroke="#73acd0"/>
<path d="M157.1 441.1L154.5 438.0L152.0 434.8L158.5 430.4L160.8 433.4L163.1 436.2Z" fill="#efefd4" stroke="#efefd4"/>
<path d="M152.0 434.8L149.7 431.5L147.6 428.1L154.4 424.3L156.4 427.4L158.5 430.4Z" fill="#fed384" stroke="#fed384"/>
<path d="M147.6 428.1L145.6 424.6L143.8 421.0L150.9 417.8L152.6 421.0L154.4 424.3Z" fill="#e8f1e6" stroke="#e8f1e6"/>
<path d="M143.8 421.0L142.1 417.3L140.6 413.6L148.0 411.0L149.4 414.4L150.9 417.8Z" fill="#d5eef5" stroke="#d5eef5"/>
<path d="M140.6 413.6L139.3 409.8L138.1 406.0L145.8 404.0L146.8 407.5L148.0 411.0Z" fill="#ecf0db" stroke="#ecf0db"/>
<path d="M138.1 406.0L137.1 402.1L136.3 398.2L144.1 396.9L144.9 400.5L145.8 404.0Z" fill="#88bdda" stroke="#88bdda"/>
<path d="M136.3 398.2L135.7 394.2L135.3 390.3L143.1 389.6L143.5 393.3L144.1 396.9Z" fill="#daf0f6" stroke="#daf0f6"/>
<path d="M135.3 390.3L135.0 386.3L134.9 382.3L142.8 382.3L142.9 386.0L143.1 389.6Z" fill="#e8f1e5" stroke="#e8f1e5"/>
<path d="M134.9 382.3L135.0 378.3L135.3 374.3L143.1 375.0L142.9 378.6L142.8 382.3Z" fill="#d6eef5" stroke="#d6eef5"/>
<path d="M135.3 374.3L135.7 370.4L136.3 366.4L144.1 367.7L143.5 371.3L143.1 375.0Z" fill="#f0efd2" stroke="#f0efd2"/>
<path d="M136.3 366.4L137.1 362.5L138.1 358.6L145.8 360.6L144.9 364.1L144.1 367.7Z" fill="#fee090" stroke="#fee090"/>
<path d="M138.1 358.6L139.3 354.8L140.6 351.0L148.0 353.6L146.8 357.1L145.8 360.6Z" fill="#e5f2eb" stroke="#e5f2eb"/>
<path d="M140.6 351.0L142.1 347.3L143.8 343.6L150.9 346.8L149.4 350.2L148.0 353.6Z" fill="#9fcfe4" stroke="#9fcfe4"/>
<path d="M143.8 343.6L145.6 340.0L147.6 336.5L154.4 340.3L152.6 343.6L150.9 346.8Z" fill="#b3ddeb" stroke="#b3ddeb"/>
<path d="M147.6 336.5L149.7 333.1L152.0 329.8L158.5 334.2L156.4 337.2L154.4 340.3Z" fill="#e4f2ef" stroke="#e4f2ef"/>
<path d="M152.0 329.8L154.5 326.6L157.1 323.5L163.1 328.4L160.8 331.2L158.5 334.2Z" fill="#a3d2e5" stroke="#a3d2e5"/>
<path d="M157.1 323.5L159.8 320.5L162.7 317.6L168.3 323.0L165.6 325.6L163.1 328.4Z" fill="#e5f2ed" stroke="#e5f2ed"/>
<path d="M162.7 317.6L165.7 314.8L168.8 312.2L173.8 318.0L171.0 320.4L168.3 323.0Z" fill="#fedc8c" stroke="#fedc8c"/>
<path d="M168.8 312.2L172.0 309.7L175.3 307.3L179.9 313.6L176.8 315.7L173.8 318.0Z" fill="#fae6a7" stroke="#fae6a7"/>
<path d="M175.3 307.3L178.8 305.1L182.3 303.0L186.2 309.6L183.0 311.5L179.9 313.6Z" fill="#4878b6" stroke="#4878b6"/>
<path d="M182.3 303.0L185.9 301.1L189.6 299.3L193.0 306.3L189.6 307.9L186.2 309.6Z" fill="#5b90c2" stroke="#5b90c2"/>
<path d="M189.6 299.3L193.4 297.7L197.3 296.3L200.0 303.5L196.4 304.8L193.0 306.3Z" fill="#fbe4a0" stroke="#fbe4a0"/>
<path d="M197.3 296.3L201.2 295.0L205.2 293.9L207.2 301.3L203.6 302.3L200.0 303.5Z" fill="#cbe9f2" stroke="#cbe9f2"/>
<path d="M205.2 293.9L209.2 292.9L213.2 292.2L214.6 299.7L210.9 300.4L207.2 301.3Z" fill="#c0e3ef" stroke="#c0e3ef"/>
<path d="M213.2 292.2L217.3 291.5L221.4 291.1L222.1 298.7L218.4 299.1L214.6 299.7Z" fill="#e7f1e8" stroke="#e7f1e8"/>
<path d="M221.4 291.1L225.6 290.9L229.7 290.8L229.7 298.4L225.9 298.5L222.1 298.7Z" fill="#e7f1e7" stroke="#e7f1e7"/>
<path d="M229.7 283.1L234.2 283.2L238.7 283.5L238.0 291.1L233.8 290.9L229.7 290.8Z" fill="#f7e8b3" stroke="#f7e8b3"/>
<path d="M238.7 283.5L243.1 284.0L247.5 284.6L246.2 292.2L242.1 291.5L238.0 291.1Z" fill="#f7e9b6" stroke="#f7e9b6"/>
<path d="M247.5 284.6L251.9 285.5L256.3 286.5L254.2 293.9L250.2 292.9L246.2 292.2Z" fill="#e5f2ed" stroke="#e5f2ed"/>
<path d="M256.3 286.5L260.6 287.7L264.8 289.1L262.1 296.3L258.2 295.0L254.2 293.9Z" fill="#d9f0f6" stroke="#d9f0f6"/>
<path d="M264.8 289.1L269.0 290.7L273.1 292.4L269.8 299.3L266.0 297.7L262.1 296.3Z" fill="#f6ebbc" stroke="#f6ebbc"/>
<path d="M273.1 292.4L277.1 294.3L281.0 296.4L277.1 303.0L273.5 301.1L269.8 299.3Z" fill="#f5ebbe" stroke="#f5ebbe"/>
<path d="M281.0 296.4L284.9 298.7L288.6 301.1L284.1 307.3L280.6 305.1L277.1 303.0Z" fill="#def2f7" stroke="#def2f7"/>
<path d="M288.6 301.1L292.2 303.6L295.7 306.3L290.6 312.2L287.4 309.7L284.1 307.3Z" fill="#8dc1dc" stroke="#8dc1dc"/>
<path d="M295.7 306.3L299.1 309.2L302.3 312.2L296.7 317.6L293.7 314.8L290.6 312.2Z" fill="#e8f1e4" stroke="#e8f1e4"/>
<path d="M302.3 312.2L305.4 315.3L308.4 318.6L302.3 323.5L299.6 320.5L296.7 317.6Z" fill="#f9e6a8" stroke="#f9e6a8"/>
<path d="M308.4 318.6L311.2 321.9L313.8 325.4L307.4 329.8L304.9 326.6L302.3 323.5Z" fill="#ebf0df" stroke="#ebf0df"/>
<path d="M313.8 325.4L316.3 329.0L318.6 332.7L311.8 336.5L309.7 333.1L307.4 329.8Z" fill="#8abeda" stroke="#8abeda"/>
<path d="M318.6 332.7L320.8 336.5L322.8 340.4L315.6 343.6L313.8 340.0L311.8 336.5Z" fill="#90c3dd" stroke="#90c3dd"/>
<path d="M322.8 340.4L324.6 344.4L326.2 348.4L318.8 351.0L317.3 347.3L315.6 343.6Z" fill="#f8e7af" stroke="#f8e7af"/>
<path d="M326.2 348.4L327.6 352.5L328.9 356.6L321.3 358.6L320.1 354.8L318.8 351.0Z" fill="#fee193" stroke="#fee193"/>
<path d="M328.9 356.6L330.0 360.8L330.8 365.1L323.1 366.4L322.3 362.5L321.3 358.6Z" fill="#fed283" stroke="#fed283"/>
<path d="M330.8 365.1L331.5 369.4L332.0 373.7L324.1 374.3L323.7 370.4L323.1 366.4Z" fill="#feda8a" stroke="#feda8a"/>
<path d="M332.0 373.7L332.3 378.0L332.4 382.3L324.5 382.3L324.4 378.3L324.1 374.3Z" fill="#e8f1e6" stroke="#e8f1e6"/>
<path d="M332.4 382.3L332.3 386.6L332.0 390.9L324.1 390.3L324.4 386.3L324.5 382.3Z" fill="#598dc0" stroke="#598dc0"/>
<path d="M332.0 390.9L331.5 395.2L330.8 399.5L323.1 398.2L323.7 394.2L324.1 390.3Z" fill="#5c91c2" stroke="#5c91c2"/>
<path d="M330.8 399.5L330.0 403.8L328.9 408.0L321.3 406.0L322.3 402.1L323.1 398.2Z" fill="#5d91c3" stroke="#5d91c3"/>
<path d="M328.9 408.0L327.6 412.1L326.2 416.2L318.8 413.6L320.1 409.8L321.3 406.0Z" fill="#e3f2f1" stroke="#e3f2f1"/>
<path d="M326.2 416.2L324.6 420.2L322.8 424.2L315.6 421.0L317.3 417.3L318.8 413.6Z" fill="#f4ecc3" stroke="#f4ecc3"/>
<path d="M322.8 424.2L320.8 428.1L318.6 431.9L311.8 428.1L313.8 424.6L315.6 421.0Z" fill="#b0dbea" stroke="#b0dbea"/>
<path d="M318.6 431.9L316.3 435.6L313.8 439.2L307.4 434.8L309.7 431.5L311.8 428.1Z" fill="#bbe1ee" stroke="#bbe1ee"/>
<path d="M313.8 439.2L311.2 442.7L308.4 446.0L302.3 441.1L304.9 438.0L307.4 434.8Z" fill="#d5edf5" stroke="#d5edf5"/>
<path d="M308.4 446.0L305.4 449.3L302.3 452.4L296.7 447.0L299.6 444.1L302.3 441.1Z" fill="#4b7cb7" stroke="#4b7cb7"/>
<path d="M302.3 452.4L299.1 455.4L295.7 458.3L290.6 452.4L293.7 449.8L296.7 447.0Z" fill="#5e93c3" stroke="#5e93c3"/>
<path d="M295.7 458.3L292.2 461.0L288.6 463.5L284.1 457.3L287.4 454.9L290.6 452.4Z" fill="#a1d1e4" stroke="#a1d1e4"/>
<path d="M288.6 463.5L284.9 465.9L281.0 468.2L277.1 461.6L280.6 459.5L284.1 457.3Z" fill="#fec879" stroke="#fec879"/>
<path d="M281.0 468.2L277.1 470.3L273.1 472.2L269.8 465.3L273.5 463.5L277.1 461.6Z" fill="#e2f2f3" stroke="#e2f2f3"/>
<path d="M273.1 472.2L269.0 473.9L264.8 475.5L262.1 468.3L266.0 466.9L269.8 465.3Z" fill="#b8dfed" stroke="#b8dfed"/>
<path d="M264.8 475.5L260.6 476.9L256.3 478.1L254.2 470.7L258.2 469.6L262.1 468.3Z" fill="#5588be" stroke="#5588be"/>
<path d="M256.3 478.1L251.9 479.1L247.5 480.0L246.2 472.4L250.2 471.7L254.2 470.7Z" fill="#4576b4" stroke="#4576b4"/>
<path d="M247.5 480.0L243.1 480.6L238.7 481.1L238.0 473.5L242.1 473.1L246.2 472.4Z" fill="#f4edc6" stroke="#f4edc6"/>
<path d="M238.7 481.1L234.2 481.4L229.7 481.5L229.7 473.8L233.8 473.7L238.0 473.5Z" fill="#fed889" stroke="#fed889"/>
<path d="M229.7 481.5L225.2 481.4L220.7 481.1L221.4 473.5L225.6 473.7L229.7 473.8Z" fill="#fece7f" stroke="#fece7f"/>
<path d="M220.7 481.1L216.3 480.6L211.9 480.0L213.2 472.4L217.3 473.1L221.4 473.5Z" fill="#95c7df" stroke="#95c7df"/>
<path d="M211.9 480.0L207.5 479.1L203.1 478.1L205.2 470.7L209.2 471.7L213.2 472.4Z" fill="#5386bd" stroke="#5386bd"/>
<path d="M203.1 478.1L198.8 476.9L194.6 475.5L197.3 468.3L201.2 469.6L205.2 470.7Z" fill="#7bb3d4" stroke="#7bb3d4"/>
<path d="M194.6 475.5L190.4 473.9L186.3 472.2L189.6 465.3L193.4 466.9L197.3 468.3Z" fill="#96c9e0" stroke="#96c9e0"/>
<path d="M186.3 472.2L182.3 470.3L178.3 468.2L182.3 461.6L185.9 463.5L189.6 465.3Z" fill="#f6eaba" stroke="#f6eaba"/>
<path d="M178.3 468.2L174.5 465.9L170.8 463.5L175.3 457.3L178.8 459.5L182.3 461.6Z" fill="#f6eaba" stroke="#f6eaba"/>
<path d="M170.8 463.5L167.2 461.0L163.7 458.3L168.8 452.4L172.0 454.9L175.3 457.3Z" fill="#ceeaf3" stroke="#ceeaf3"/>
<path d="M163.7 458.3L160.3 455.4L157.1 452.4L162.7 447.0L165.7 449.8L168.8 452.4Z" fill="#70a8ce" stroke="#70a8ce"/>
<path d="M157.1 452.4L154.0 449.3L151.0 446.0L157.1 441.1L159.8 444.1L162.7 447.0Z" fill="#74add1" stroke="#74add1"/>
<path d="M151.0 446.0L148.2 442.7L145.6 439.2L152.0 434.8L154.5 438.0L157.1 441.1Z" fill="#f8e7af" stroke="#f8e7af"/>
<path d="M145.6 439.2L143.1 435.6L140.8 431.9L147.6 428.1L149.7 431.5L152.0 434.8Z" fill="#fed788" stroke="#fed788"/>
<path d="M140.8 431.9L138.6 428.1L136.6 424.2L143.8 421.0L145.6 424.6L147.6 428.1Z" fill="#e6f2eb" stroke="#e6f2eb"/>
<path d="M136.6 424.2L134.8 420.2L133.2 416.2L140.6 413.6L142.1 417.3L143.8 421.0Z" fill="#77afd2" stroke="#77afd2"/>
<path d="M133.2 416.2L131.8 412.1L130.5 408.0L138.1 406.0L139.3 409.8L140.6 413.6Z" fill="#81b7d7" stroke="#81b7d7"/>
<path d="M130.5 408.0L129.4 403.8L128.6 399.5L136.3 398.2L137.1 402.1L138.1 406.0Z" fill="#a1d1e5" stroke="#a1d1e5"/>
<path d="M128.6 399.5L127.9 395.2L127.4 390.9L135.3 390.3L135.7 394.2L136.3 398.2Z" fill="#a0d0e4" stroke="#a0d0e4"/>
<path d="M127.4 390.9L127.1 386.6L127.0 382.3L134.9 382.3L135.0 386.3L135.3 390.3Z" fill="#91c4de" stroke="#91c4de"/>
<path d="M127.0 382.3L127.1 378.0L127.4 373.7L135.3 374.3L135.0 378.3L134.9 382.3Z" fill="#e4f2ee" stroke="#e4f2ee"/>
<path d="M127.4 373.7L127.9 369.4L128.6 365.1L136.3 366.4L135.7 370.4L135.3 374.3Z" fill="#fae6a8" stroke="#fae6a8"/>
<path d="M128.6 365.1L129.4 360.8L130.5 356.6L138.1 358.6L137.1 362.5L136.3 366.4Z" fill="#fedd8d" stroke="#fedd8d"/>
<path d="M130.5 356.6L131.8 352.5L133.2 348.4L140.6 351.0L139.3 354.8L138.1 358.6Z" fill="#efefd4" stroke="#efefd4"/>
<path d="M133.2 348.4L134.8 344.4L136.6 340.4L143.8 343.6L142.1 347.3L140.6 351.0Z" fill="#79b1d3" stroke="#79b1d3"/>
<path d="M136.6 340.4L138.6 336.5L140.8 332.7L147.6 336.5L145.6 340.0L143.8 343.6Z" fill="#e1f3f5" stroke="#e1f3f5"/>
<path d="M140.8 332.7L143.1 329.0L145.6 325.4L152.0 329.8L149.7 333.1L147.6 336.5Z" fill="#f0efd2" stroke="#f0efd2"/>
<path d="M145.6 325.4L148.2 321.9L151.0 318.6L157.1 323.5L154.5 326.6L152.0 329.8Z" fill="#bfe3ef" stroke="#bfe3ef"/>
<path d="M151.0 318.6L154.0 315.3L157.1 312.2L162.7 317.6L159.8 320.5L157.1 323.5Z" fill="#b9e0ed" stroke="#b9e0ed"/>
<path d="M157.1 312.2L160.3 309.2L163.7 306.3L168.8 312.2L165.7 314.8L162.7 317.6Z" fill="#fede8e" stroke="#fede8e"/>
<path d="M163.7 306.3L167.2 303.6L170.8 301.1L175.3 307.3L172.0 309.7L168.8 312.2Z" fill="#fedf8f" stroke="#fedf8f"/>
<path d="M170.8 301.1L174.5 298.7L178.3 296.4L182.3 303.0L178.8 305.1L175.3 307.3Z" fill="#669dc8" stroke="#669dc8"/>
<path d="M178.3 296.4L182.3 294.3L186.3 292.4L189.6 299.3L185.9 301.1L182.3 303.0Z" fill="#6ca4cc" stroke="#6ca4cc"/>
<path d="M186.3 292.4L190.4 290.7L194.6 289.1L197.3 296.3L193.4 297.7L189.6 299.3Z" fill="#fed081" stroke="#fed081"/>
<path d="M194.6 289.1L198.8 287.7L203.1 286.5L205.2 293.9L201.2 295.0L197.3 296.3Z" fill="#e0f3f7" stroke="#e0f3f7"/>
<path d="M203.1 286.5L207.5 285.5L211.9 284.6L213.2 292.2L209.2 292.9L205.2 293.9Z" fill="#c1e4ef" stroke="#c1e4ef"/>
<path d="M211.9 284.6L216.3 284.0L220.7 283.5L221.4 291.1L217.3 291.5L213.2 292.2Z" fill="#cfebf3" stroke="#cfebf3"/>
<path d="M220.7 283.5L225.2 283.2L229.7 283.1L229.7 290.8L225.6 290.9L221.4 291.1Z" fill="#e4f2ee" stroke="#e4f2ee"/>
<path d="M229.7 275.5L234.5 275.6L239.3 275.9L238.7 283.5L234.2 283.2L229.7 283.1Z" fill="#efefd4" stroke="#efefd4"/>
<path d="M239.3 275.9L244.1 276.4L248.9 277.1L247.5 284.6L243.1 284.0L238.7 283.5Z" fill="#e7f1e8" stroke="#e7f1e8"/>
<path d="M248.9 277.1L253.6 278.0L258.3 279.1L256.3 286.5L251.9 285.5L247.5 284.6Z" fill="#77afd2" stroke="#77afd2"/>
<path d="M258.3 279.1L263.0 280.5L267.5 282.0L264.8 289.1L260.6 287.7L256.3 286.5Z" fill="#d8eff6" stroke="#d8eff6"/>
<path d="M267.5 282.0L272.0 283.6L276.4 285.5L273.1 292.4L269.0 290.7L264.8 289.1Z" fill="#f9e7ad" stroke="#f9e7ad"/>
<path d="M276.4 285.5L280.8 287.6L285.0 289.8L281.0 296.4L277.1 294.3L273.1 292.4Z" fill="#fbe4a2" stroke="#fbe4a2"/>
<path d="M285.0 289.8L289.1 292.2L293.1 294.8L288.6 301.1L284.9 298.7L281.0 296.4Z" fill="#def2f7" stroke="#def2f7"/>
<path d="M293.1 294.8L297.0 297.6L300.8 300.5L295.7 306.3L292.2 303.6L288.6 301.1Z" fill="#acd9e9" stroke="#acd9e9"/>
<path d="M300.8 300.5L304.4 303.6L307.9 306.8L302.3 312.2L299.1 309.2L295.7 306.3Z" fill="#8cc0dc" stroke="#8cc0dc"/>
<path d="M307.9 306.8L311.2 310.2L314.4 313.7L308.4 318.6L305.4 315.3L302.3 312.2Z" fill="#f0efd1" stroke="#f0efd1"/>
<path d="M314.4 313.7L317.4 317.3L320.3 321.0L313.8 325.4L311.2 321.9L308.4 318.6Z" fill="#d0ebf4" stroke="#d0ebf4"/>
<path d="M320.3 321.0L323.0 324.9L325.5 328.9L318.6 332.7L316.3 329.0L313.8 325.4Z" fill="#8dc1dc" stroke="#8dc1dc"/>
<path d="M325.5 328.9L327.8 333.0L329.9 337.2L322.8 340.4L320.8 336.5L318.6 332.7Z" fill="#a4d3e6" stroke="#a4d3e6"/>
<path d="M329.9 337.2L331.9 341.4L333.6 345.8L326.2 348.4L324.6 344.4L322.8 340.4Z" fill="#fce39b" stroke="#fce39b"/>
<path d="M333.6 345.8L335.2 350.2L336.5 354.7L328.9 356.6L327.6 352.5L326.2 348.4Z" fill="#fdb669" stroke="#fdb669"/>
<path d="M336.5 354.7L337.7 359.2L338.6 363.8L330.8 365.1L330.0 360.8L328.9 356.6Z" fill="#fdc172" stroke="#fdc172"/>
<path d="M338.6 363.8L339.4 368.4L339.9 373.0L332.0 373.7L331.5 369.4L330.8 365.1Z" fill="#fee192" stroke="#fee192"/>
<path d="M339.9 373.0L340.2 377.6L340.3 382.3L332.4 382.3L332.3 378.0L332.0 373.7Z" fill="#e6f2eb" stroke="#e6f2eb"/>
<path d="M340.3 382.3L340.2 387.0L339.9 391.6L332.0 390.9L332.3 386.6L332.4 382.3Z" fill="#6ba2cb" stroke="#6ba2cb"/>
<path d="M339.9 391.6L339.4 396.2L338.6 400.8L330.8 399.5L331.5 395.2L332.0 390.9Z" fill="#669dc8" stroke="#669dc8"/>
<path d="M338.6 400.8L337.7 405.4L336.5 409.9L328.9 408.0L330.0 403.8L330.8 399.5Z" fill="#4473b3" stroke="#4473b3"/>
<path d="M336.5 409.9L335.2 414.4L333.6 418.8L326.2 416.2L327.6 412.1L328.9 408.0Z" fill="#f1eecf" stroke="#f1eecf"/>
<path d="M333.6 418.8L331.9 423.2L329.9 427.4L322.8 424.2L324.6 420.2L326.2 416.2Z" fill="#fbe4a0" stroke="#fbe4a0"/>
<path d="M329.9 427.4L327.8 431.6L325.5 435.7L318.6 431.9L320.8 428.1L322.8 424.2Z" fill="#d6eef5" stroke="#d6eef5"/>
<path d="M325.5 435.7L323.0 439.7L320.3 443.6L313.8 439.2L316.3 435.6L318.6 431.9Z" fill="#cfebf3" stroke="#cfebf3"/>
<path d="M320.3 443.6L317.4 447.3L314.4 450.9L308.4 446.0L311.2 442.7L313.8 439.2Z" fill="#bce1ee" stroke="#bce1ee"/>
<path d="M314.4 450.9L311.2 454.4L307.9 457.8L302.3 452.4L305.4 449.3L308.4 446.0Z" fill="#588cc0" stroke="#588cc0"/>
<path d="M307.9 457.8L304.4 461.0L300.8 464.1L295.7 458.3L299.1 455.4L302.3 452.4Z" fill="#588cc0" stroke="#588cc0"/>
<path d="M300.8 464.1L297.0 467.0L293.1 469.8L288.6 463.5L292.2 461.0L295.7 458.3Z" fill="#eaf0e0" stroke="#eaf0e0"/>
<path d="M293.1 469.8L289.1 472.4L285.0 474.8L281.0 468.2L284.9 465.9L288.6 463.5Z" fill="#fedb8b" stroke="#fedb8b"/>
<path d="M285.0 474.8L280.8 477.0L276.4 479.1L273.1 472.2L277.1 470.3L281.0 468.2Z" fill="#e3f2f1" stroke="#e3f2f1"/>
<path d="M276.4 479.1L272.0 481.0L267.5 482.6L264.8 475.5L269.0 473.9L273.1 472.2Z" fill="#79b1d3" stroke="#79b1d3"/>
<path d="M267.5 482.6L263.0 484.1L258.3 485.5L256.3 478.1L260.6 476.9L264.8 475.5Z" fill="#4471b2" stroke="#4471b2"/>
<path d="M258.3 485.5L253.6 486.6L248.9 487.5L247.5 480.0L251.9 479.1L256.3 478.1Z" fill="#5082bb" stroke="#5082bb"/>
<path d="M248.9 487.5L244.1 488.2L239.3 488.7L238.7 481.1L243.1 480.6L247.5 480.0Z" fill="#f9e6aa" stroke="#f9e6aa"/>
<path d="M239.3 488.7L234.5 489.0L229.7 489.1L229.7 481.5L234.2 481.4L238.7 481.1Z" fill="#fec97b" stroke="#fec97b"/>
<path d="M229.7 489.1L224.9 489.0L220.1 488.7L220.7 481.1L225.2 481.4L229.7 481.5Z" fill="#fedb8b" stroke="#fedb8b"/>
<path d="M220.1 488.7L215.3 488.2L210.5 487.5L211.9 480.0L216.3 480.6L220.7 481.1Z" fill="#cdeaf3" stroke="#cdeaf3"/>
<path d="M210.5 487.5L205.8 486.6L201.1 485.5L203.1 478.1L207.5 479.1L211.9 480.0Z" fill="#649ac7" stroke="#649ac7"/>
<path d="M201.1 485.5L196.4 484.1L191.9 482.6L194.6 475.5L198.8 476.9L203.1 478.1Z" fill="#71aacf" stroke="#71aacf"/>
<path d="M191.9 482.6L187.4 481.0L183.0 479.1L186.3 472.2L190.4 473.9L194.6 475.5Z" fill="#7ab2d4" stroke="#7ab2d4"/>
<path d="M183.0 479.1L178.6 477.0L174.4 474.8L178.3 468.2L182.3 470.3L186.3 472.2Z" fill="#f5ecc2" stroke="#f5ecc2"/>
<path d="M174.4 474.8L170.3 472.4L166.3 469.8L170.8 463.5L174.5 465.9L178.3 468.2Z" fill="#f4ecc4" stroke="#f4ecc4"/>
<path d="M166.3 469.8L162.4 467.0L158.6 464.1L163.7 458.3L167.2 461.0L170.8 463.5Z" fill="#99cbe1" stroke="#99cbe1"/>
<path d="M158.6 464.1L155.0 461.0L151.5 457.8L157.1 452.4L160.3 455.4L163.7 458.3Z" fill="#78b0d3" stroke="#78b0d3"/>
<path d="M151.5 457.8L148.2 454.4L145.0 450.9L151.0 446.0L154.0 449.3L157.1 452.4Z" fill="#6aa1cb" stroke="#6aa1cb"/>
<path d="M145.0 450.9L142.0 447.3L139.1 443.6L145.6 439.2L148.2 442.7L151.0 446.0Z" fill="#f4edc7" stroke="#f4edc7"/>
<path d="M139.1 443.6L136.4 439.7L133.9 435.7L140.8 431.9L143.1 435.6L145.6 439.2Z" fill="#f9e7ad" stroke="#f9e7ad"/>
<path d="M133.9 435.7L131.6 431.6L129.5 427.4L136.6 424.2L138.6 428.1L140.8 431.9Z" fill="#bee2ee" stroke="#bee2ee"/>
<path d="M129.5 427.4L127.5 423.2L125.8 418.8L133.2 416.2L134.8 420.2L136.6 424.2Z" fill="#6399c7" stroke="#6399c7"/>
<path d="M125.8 418.8L124.2 414.4L122.9 409.9L130.5 408.0L131.8 412.1L133.2 416.2Z" fill="#78b0d3" stroke="#78b0d3"/>
<path d="M122.9 409.9L121.7 405.4L120.8 400.8L128.6 399.5L129.4 403.8L130.5 408.0Z" fill="#8ec2dc" stroke="#8ec2dc"/>
<path d="M120.8 400.8L120.0 396.2L119.5 391.6L127.4 390.9L127.9 395.2L128.6 399.5Z" fill="#659bc8" stroke="#659bc8"/>
<path d="M119.5 391.6L119.2 387.0L119.1 382.3L127.0 382.3L127.1 386.6L127.4 390.9Z" fill="#83b9d8" stroke="#83b9d8"/>
<path d="M119.1 382.3L119.2 377.6L119.5 373.0L127.4 373.7L127.1 378.0L127.0 382.3Z" fill="#c1e4ef" stroke="#c1e4ef"/>
<path d="M119.5 373.0L120.0 368.4L120.8 363.8L128.6 365.1L127.9 369.4L127.4 373.7Z" fill="#f9e7ad" stroke="#f9e7ad"/>
<path d="M120.8 363.8L121.7 359.2L122.9 354.7L130.5 356.6L129.4 360.8L128.6 365.1Z" fill="#fdbd6f" stroke="#fdbd6f"/>
<path d="M122.9 354.7L124.2 350.2L125.8 345.8L133.2 348.4L131.8 352.5L130.5 356.6Z" fill="#eaf0e0" stroke="#eaf0e0"/>
<path d="M125.8 345.8L127.5 341.4L129.5 337.2L136.6 340.4L134.8 344.4L133.2 348.4Z" fill="#85bbd9" stroke="#85bbd9"/>
<path d="M129.5 337.2L131.6 333.0L133.9 328.9L140.8 332.7L138.6 336.5L136.6 340.4Z" fill="#dcf1f7" stroke="#dcf1f7"/>
<path d="M133.9 328.9L136.4 324.9L139.1 321.0L145.6 325.4L143.1 329.0L140.8 332.7Z" fill="#e5f2ed" stroke="#e5f2ed"/>
<path d="M139.1 321.0L142.0 317.3L145.0 313.7L151.0 318.6L148.2 321.9L145.6 325.4Z" fill="#d9f0f6" stroke="#d9f0f6"/>
<path d="M145.0 313.7L148.2 310.2L151.5 306.8L157.1 312.2L154.0 315.3L151.0 318.6Z" fill="#cae8f2" stroke="#cae8f2"/>
<path d="M151.5 306.8L155.0 303.6L158.6 300.5L163.7 306.3L160.3 309.2L157.1 312.2Z" fill="#fae5a5" stroke="#fae5a5"/>
<path d="M158.6 300.5L162.4 297.6L166.3 294.8L170.8 301.1L167.2 303.6L163.7 306.3Z" fill="#fee090" stroke="#fee090"/>
<path d="M166.3 294.8L170.3 292.2L174.4 289.8L178.3 296.4L174.5 298.7L170.8 301.1Z" fill="#5487bd" stroke="#5487bd"/>
<path d="M174.4 289.8L178.6 287.6L183.0 285.5L186.3 292.4L182.3 294.3L178.3 296.4Z" fill="#7cb3d4" stroke="#7cb3d4"/>
<path d="M183.0 285.5L187.4 283.6L191.9 282.0L194.6 289.1L190.4 290.7L186.3 292.4Z" fill="#fee092" stroke="#fee092"/>
<path d="M191.9 282.0L196.4 280.5L201.1 279.1L203.1 286.5L198.8 287.7L194.6 289.1Z" fill="#e9f1e3" stroke="#e9f1e3"/>
<path d="M201.1 279.1L205.8 278.0L210.5 277.1L211.9 284.6L207.5 285.5L203.1 286.5Z" fill="#74add1" stroke="#74add1"/>
<path d="M210.5 277.1L215.3 276.4L220.1 275.9L220.7 283.5L216.3 284.0L211.9 284.6Z" fill="#b9e0ed" stroke="#b9e0ed"/>
<path d="M220.1 275.9L224.9 275.6L229.7 275.5L229.7 283.1L225.2 283.2L220.7 283.5Z" fill="#a4d4e6" stroke="#a4d4e6"/>
<path d="M229.7 267.9L234.9 268.0L240.0 268.3L239.3 275.9L234.5 275.6L229.7 275.5Z" fill="#c4e5f0" stroke="#c4e5f0"/>
<path d="M240.0 268.3L245.2 268.9L250.3 269.6L248.9 277.1L244.1 276.4L239.3 275.9Z" fill="#e2f3f4" stroke="#e2f3f4"/>
<path d="M250.3 269.6L255.3 270.6L260.4 271.8L258.3 279.1L253.6 278.0L248.9 277.1Z" fill="#5a8ec1" stroke="#5a8ec1"/>
<path d="M260.4 271.8L265.3 273.2L270.2 274.8L267.5 282.0L263.0 280.5L258.3 279.1Z" fill="#77afd2" stroke="#77afd2"/>
<path d="M270.2 274.8L275.0 276.6L279.8 278.6L276.4 285.5L272.0 283.6L267.5 282.0Z" fill="#fce39b" stroke="#fce39b"/>
<path d="M279.8 278.6L284.4 280.8L288.9 283.2L285.0 289.8L280.8 287.6L276.4 285.5Z" fill="#fbe39e" stroke="#fbe39e"/>
<path d="M288.9 283.2L293.4 285.8L297.7 288.6L293.1 294.8L289.1 292.2L285.0 289.8Z" fill="#cae8f2" stroke="#cae8f2"/>
<path d="M297.7 288.6L301.8 291.5L305.9 294.7L300.8 300.5L297.0 297.6L293.1 294.8Z" fill="#c7e7f1" stroke="#c7e7f1"/>
<path d="M305.9 294.7L309.8 297.9L313.5 301.4L307.9 306.8L304.4 303.6L300.8 300.5Z" fill="#cbe9f2" stroke="#cbe9f2"/>
<path d="M313.5 301.4L317.1 305.0L320.5 308.8L314.4 313.7L311.2 310.2L307.9 306.8Z" fill="#efefd5" stroke="#efefd5"/>
<path d="M320.5 308.8L323.7 312.6L326.8 316.7L320.3 321.0L317.4 317.3L314.4 313.7Z" fill="#bfe3ef" stroke="#bfe3ef"/>
<path d="M326.8 316.7L329.6 320.8L332.3 325.1L325.5 328.9L323.0 324.9L320.3 321.0Z" fill="#87bcd9" stroke="#87bcd9"/>
<path d="M332.3 325.1L334.8 329.5L337.1 333.9L329.9 337.2L327.8 333.0L325.5 328.9Z" fill="#abd9e9" stroke="#abd9e9"/>
<path d="M337.1 333.9L339.2 338.5L341.1 343.2L333.6 345.8L331.9 341.4L329.9 337.2Z" fill="#cbe9f2" stroke="#cbe9f2"/>
<path d="M341.1 343.2L342.7 347.9L344.2 352.7L336.5 354.7L335.2 350.2L333.6 345.8Z" fill="#fed989" stroke="#fed989"/>
<path d="M344.2 352.7L345.4 357.5L346.4 362.4L338.6 363.8L337.7 359.2L336.5 354.7Z" fill="#fed687" stroke="#fed687"/>
<path d="M346.4 362.4L347.2 367.4L347.7 372.3L339.9 373.0L339.4 368.4L338.6 363.8Z" fill="#fedd8d" stroke="#fedd8d"/>
<path d="M347.7 372.3L348.1 377.3L348.2 382.3L340.3 382.3L340.2 377.6L339.9 373.0Z" fill="#e2f3f4" stroke="#e2f3f4"/>
<path d="M348.2 382.3L348.1 387.3L347.7 392.3L339.9 391.6L340.2 387.0L340.3 382.3Z" fill="#7cb4d5" stroke="#7cb4d5"/>
<path d="M347.7 392.3L347.2 397.2L346.4 402.2L338.6 400.8L339.4 396.2L339.9 391.6Z" fill="#5487bd" stroke="#5487bd"/>
<path d="M346.4 402.2L345.4 407.1L344.2 411.9L336.5 409.9L337.7 405.4L338.6 400.8Z" fill="#426aaf" stroke="#426aaf"/>
<path d="M344.2 411.9L342.7 416.7L341.1 421.4L333.6 418.8L335.2 414.4L336.5 409.9Z" fill="#f4ecc4" stroke="#f4ecc4"/>
<path d="M341.1 421.4L339.2 426.1L337.1 430.7L329.9 427.4L331.9 423.2L333.6 418.8Z" fill="#fce39b" stroke="#fce39b"/>
<path d="M337.1 430.7L334.8 435.1L332.3 439.5L325.5 435.7L327.8 431.6L329.9 427.4Z" fill="#dbf1f7" stroke="#dbf1f7"/>
<path d="M332.3 439.5L329.6 443.8L326.8 447.9L320.3 443.6L323.0 439.7L325.5 435.7Z" fill="#bde2ee" stroke="#bde2ee"/>
<path d="M326.8 447.9L323.7 452.0L320.5 455.8L314.4 450.9L317.4 447.3L320.3 443.6Z" fill="#bae0ed" stroke="#bae0ed"/>
<path d="M320.5 455.8L317.1 459.6L313.5 463.2L307.9 457.8L311.2 454.4L314.4 450.9Z" fill="#abd9e9" stroke="#abd9e9"/>
<path d="M313.5 463.2L309.8 466.7L305.9 469.9L300.8 464.1L304.4 461.0L307.9 457.8Z" fill="#5183bb" stroke="#5183bb"/>
<path d="M305.9 469.9L301.8 473.1L297.7 476.0L293.1 469.8L297.0 467.0L300.8 464.1Z" fill="#e4f2ef" stroke="#e4f2ef"/>
<path d="M297.7 476.0L293.4 478.8L288.9 481.4L285.0 474.8L289.1 472.4L293.1 469.8Z" fill="#fce29a" stroke="#fce29a"/>
<path d="M288.9 481.4L284.4 483.8L279.8 486.0L276.4 479.1L280.8 477.0L285.0 474.8Z" fill="#75aed2" stroke="#75aed2"/>
<path d="M279.8 486.0L275.0 488.0L270.2 489.8L267.5 482.6L272.0 481.0L276.4 479.1Z" fill="#4574b4" stroke="#4574b4"/>
<path d="M270.2 489.8L265.3 491.4L260.4 492.8L258.3 485.5L263.0 484.1L267.5 482.6Z" fill="#598dc0" stroke="#598dc0"/>
<path d="M260.4 492.8L255.3 494.0L250.3 495.0L248.9 487.5L253.6 486.6L258.3 485.5Z" fill="#669dc9" stroke="#669dc9"/>
<path d="M250.3 495.0L245.2 495.7L240.0 496.3L239.3 488.7L244.1 488.2L248.9 487.5Z" fill="#f7e9b8" stroke="#f7e9b8"/>
<path d="M240.0 496.3L234.9 496.6L229.7 496.7L229.7 489.1L234.5 489.0L239.3 488.7Z" fill="#fdc576" stroke="#fdc576"/>
<path d="M229.7 496.7L224.5 496.6L219.4 496.3L220.1 488.7L224.9 489.0L229.7 489.1Z" fill="#fece7f" stroke="#fece7f"/>
<path d="M219.4 496.3L214.2 495.7L209.1 495.0L210.5 487.5L215.3 488.2L220.1 488.7Z" fill="#b4ddeb" stroke="#b4ddeb"/>
<path d="M209.1 495.0L204.1 494.0L199.0 492.8L201.1 485.5L205.8 486.6L210.5 487.5Z" fill="#4f81ba" stroke="#4f81ba"/>
<path d="M199.0 492.8L194.1 491.4L189.2 489.8L191.9 482.6L196.4 484.1L201.1 485.5Z" fill="#c1e4ef" stroke="#c1e4ef"/>
<path d="M189.2 489.8L184.4 488.0L179.6 486.0L183.0 479.1L187.4 481.0L191.9 482.6Z" fill="#cae8f2" stroke="#cae8f2"/>
<path d="M179.6 486.0L175.0 483.8L170.4 481.4L174.4 474.8L178.6 477.0L183.0 479.1Z" fill="#f8e7ae" stroke="#f8e7ae"/>
<path d="M170.4 481.4L166.0 478.8L161.7 476.0L166.3 469.8L170.3 472.4L174.4 474.8Z" fill="#fce298" stroke="#fce298"/>
<path d="M161.7 476.0L157.6 473.1L153.5 469.9L158.6 464.1L162.4 467.0L166.3 469.8Z" fill="#aad8e9" stroke="#aad8e9"/>
<path d="M153.5 469.9L149.6 466.7L145.9 463.2L151.5 457.8L155.0 461.0L158.6 464.1Z" fill="#6297c6" stroke="#6297c6"/>
<path d="M145.9 463.2L142.3 459.6L138.9 455.8L145.0 450.9L148.2 454.4L151.5 457.8Z" fill="#d2ecf4" stroke="#d2ecf4"/>
<path d="M138.9 455.8L135.7 452.0L132.6 447.9L139.1 443.6L142.0 447.3L145.0 450.9Z" fill="#f5ebbf" stroke="#f5ebbf"/>
<path d="M132.6 447.9L129.8 443.8L127.1 439.5L133.9 435.7L136.4 439.7L139.1 443.6Z" fill="#f8e7af" stroke="#f8e7af"/>
<path d="M127.1 439.5L124.6 435.1L122.3 430.7L129.5 427.4L131.6 431.6L133.9 435.7Z" fill="#a2d1e5" stroke="#a2d1e5"/>
<path d="M122.3 430.7L120.2 426.1L118.3 421.4L125.8 418.8L127.5 423.2L129.5 427.4Z" fill="#4471b2" stroke="#4471b2"/>
<path d="M118.3 421.4L116.7 416.7L115.2 411.9L122.9 409.9L124.2 414.4L125.8 418.8Z" fill="#5588be" stroke="#5588be"/>
<path d="M115.2 411.9L114.0 407.1L113.0 402.2L120.8 400.8L121.7 405.4L122.9 409.9Z" fill="#89bdda" stroke="#89bdda"/>
<path d="M113.0 402.2L112.2 397.2L111.7 392.3L119.5 391.6L120.0 396.2L120.8 400.8Z" fill="#598cc0" stroke="#598cc0"/>
<path d="M111.7 392.3L111.3 387.3L111.2 382.3L119.1 382.3L119.2 387.0L119.5 391.6Z" fill="#83b9d8" stroke="#83b9d8"/>
<path d="M111.2 382.3L111.3 377.3L111.7 372.3L119.5 373.0L119.2 377.6L119.1 382.3Z" fill="#c7e7f1" stroke="#c7e7f1"/>
<path d="M111.7 372.3L112.2 367.4L113.0 362.4L120.8 363.8L120.0 368.4L119.5 373.0Z" fill="#f6ebbc" stroke="#f6ebbc"/>
<path d="M113.0 362.4L114.0 357.5L115.2 352.7L122.9 354.7L121.7 359.2L120.8 363.8Z" fill="#fed586" stroke="#fed586"/>
<path d="M115.2 352.7L116.7 347.9L118.3 343.2L125.8 345.8L124.2 350.2L122.9 354.7Z" fill="#e8f1e4" stroke="#e8f1e4"/>
<path d="M118.3 343.2L120.2 338.5L122.3 333.9L129.5 337.2L127.5 341.4L125.8 345.8Z" fill="#a8d7e8" stroke="#a8d7e8"/>
<path d="M122.3 333.9L124.6 329.5L127.1 325.1L133.9 328.9L131.6 333.0L129.5 337.2Z" fill="#b6deec" stroke="#b6deec"/>
<path d="M127.1 325.1L129.8 320.8L132.6 316.7L139.1 321.0L136.4 324.9L133.9 328.9Z" fill="#e2f2f3" stroke="#e2f2f3"/>
<path d="M132.6 316.7L135.7 312.6L138.9 308.8L145.0 313.7L142.0 317.3L139.1 321.0Z" fill="#e5f2ec" stroke="#e5f2ec"/>
<path d="M138.9 308.8L142.3 305.0L145.9 301.4L151.5 306.8L148.2 310.2L145.0 313.7Z" fill="#d4edf5" stroke="#d4edf5"/>
<path d="M145.9 301.4L149.6 297.9L153.5 294.7L158.6 300.5L155.0 303.6L151.5 306.8Z" fill="#fde194" stroke="#fde194"/>
<path d="M153.5 294.7L157.6 291.5L161.7 288.6L166.3 294.8L162.4 297.6L158.6 300.5Z" fill="#f9e7ad" stroke="#f9e7ad"/>
<path d="M161.7 288.6L166.0 285.8L170.4 283.2L174.4 289.8L170.3 292.2L166.3 294.8Z" fill="#659bc8" stroke="#659bc8"/>
<path d="M170.4 283.2L175.0 280.8L179.6 278.6L183.0 285.5L178.6 287.6L174.4 289.8Z" fill="#7cb3d5" stroke="#7cb3d5"/>
<path d="M179.6 278.6L184.4 276.6L189.2 274.8L191.9 282.0L187.4 283.6L183.0 285.5Z" fill="#f3eeca" stroke="#f3eeca"/>
<path d="M189.2 274.8L194.1 273.2L199.0 271.8L201.1 279.1L196.4 280.5L191.9 282.0Z" fill="#e0f3f8" stroke="#e0f3f8"/>
<path d="M199.0 271.8L204.1 270.6L209.1 269.6L210.5 277.1L205.8 278.0L201.1 279.1Z" fill="#5285bc" stroke="#5285bc"/>
<path d="M209.1 269.6L214.2 268.9L219.4 268.3L220.1 275.9L215.3 276.4L210.5 277.1Z" fill="#578bbf" stroke="#578bbf"/>
<path d="M219.4 268.3L224.5 268.0L229.7 267.9L229.7 275.5L224.9 275.6L220.1 275.9Z" fill="#5d91c3" stroke="#5d91c3"/>
<path d="M229.7 260.3L235.2 260.4L240.7 260.7L240.0 268.3L234.9 268.0L229.7 267.9Z" fill="#dbf1f7" stroke="#dbf1f7"/>
<path d="M240.7 260.7L246.2 261.3L251.6 262.1L250.3 269.6L245.2 268.9L240.0 268.3Z" fill="#e4f2ee" stroke="#e4f2ee"/>
<path d="M251.6 262.1L257.1 263.1L262.4 264.4L260.4 271.8L255.3 270.6L250.3 269.6Z" fill="#7db4d5" stroke="#7db4d5"/>
<path d="M262.4 264.4L267.7 265.9L272.9 267.6L270.2 274.8L265.3 273.2L260.4 271.8Z" fill="#86bbd9" stroke="#86bbd9"/>
<path d="M272.9 267.6L278.1 269.5L283.1 271.7L279.8 278.6L275.0 276.6L270.2 274.8Z" fill="#fce39b" stroke="#fce39b"/>
<path d="M283.1 271.7L288.1 274.0L292.9 276.6L288.9 283.2L284.4 280.8L279.8 278.6Z" fill="#f5ecc2" stroke="#f5ecc2"/>
<path d="M292.9 276.6L297.6 279.4L302.2 282.3L297.7 288.6L293.4 285.8L288.9 283.2Z" fill="#e9f1e4" stroke="#e9f1e4"/>
<path d="M302.2 282.3L306.6 285.5L310.9 288.8L305.9 294.7L301.8 291.5L297.7 288.6Z" fill="#85bad8" stroke="#85bad8"/>
<path d="M310.9 288.8L315.1 292.3L319.1 296.0L313.5 301.4L309.8 297.9L305.9 294.7Z" fill="#b8dfed" stroke="#b8dfed"/>
<path d="M319.1 296.0L322.9 299.8L326.5 303.9L320.5 308.8L317.1 305.0L313.5 301.4Z" fill="#f1efd0" stroke="#f1efd0"/>
<path d="M326.5 303.9L330.0 308.0L333.2 312.3L326.8 316.7L323.7 312.6L320.5 308.8Z" fill="#eeefd7" stroke="#eeefd7"/>
<path d="M333.2 312.3L336.3 316.7L339.2 321.3L332.3 325.1L329.6 320.8L326.8 316.7Z" fill="#9acbe2" stroke="#9acbe2"/>
<path d="M339.2 321.3L341.8 325.9L344.3 330.7L337.1 333.9L334.8 329.5L332.3 325.1Z" fill="#9ccde3" stroke="#9ccde3"/>
<path d="M344.3 330.7L346.5 335.6L348.5 340.6L341.1 343.2L339.2 338.5L337.1 333.9Z" fill="#b7dfec" stroke="#b7dfec"/>
<path d="M348.5 340.6L350.2 345.6L351.8 350.7L344.2 352.7L342.7 347.9L341.1 343.2Z" fill="#fdb164" stroke="#fdb164"/>
<path d="M351.8 350.7L353.1 355.9L354.2 361.1L346.4 362.4L345.4 357.5L344.2 352.7Z" fill="#fec879" stroke="#fec879"/>
<path d="M354.2 361.1L355.0 366.4L355.6 371.7L347.7 372.3L347.2 367.4L346.4 362.4Z" fill="#fecd7e" stroke="#fecd7e"/>
<path d="M355.6 371.7L356.0 377.0L356.1 382.3L348.2 382.3L348.1 377.3L347.7 372.3Z" fill="#e5f2ed" stroke="#e5f2ed"/>
<path d="M356.1 382.3L356.0 387.6L355.6 392.9L347.7 392.3L348.1 387.3L348.2 382.3Z" fill="#7ab2d4" stroke="#7ab2d4"/>
<path d="M355.6 392.9L355.0 398.2L354.2 403.5L346.4 402.2L347.2 397.2L347.7 392.3Z" fill="#7eb5d5" stroke="#7eb5d5"/>
<path d="M354.2 403.5L353.1 408.7L351.8 413.9L344.2 411.9L345.4 407.1L346.4 402.2Z" fill="#4c7db8" stroke="#4c7db8"/>
<path d="M351.8 413.9L350.2 419.0L348.5 424.0L341.1 421.4L342.7 416.7L344.2 411.9Z" fill="#e1f3f5" stroke="#e1f3f5"/>
<path d="M348.5 424.0L346.5 429.0L344.3 433.9L337.1 430.7L339.2 426.1L341.1 421.4Z" fill="#f6eabc" stroke="#f6eabc"/>
<path d="M344.3 433.9L341.8 438.7L339.2 443.3L332.3 439.5L334.8 435.1L337.1 430.7Z" fill="#a3d3e5" stroke="#a3d3e5"/>
<path d="M339.2 443.3L336.3 447.9L333.2 452.3L326.8 447.9L329.6 443.8L332.3 439.5Z" fill="#c6e6f1" stroke="#c6e6f1"/>
<path d="M333.2 452.3L330.0 456.6L326.5 460.7L320.5 455.8L323.7 452.0L326.8 447.9Z" fill="#d2ecf4" stroke="#d2ecf4"/>
<path d="M326.5 460.7L322.9 464.8L319.1 468.6L313.5 463.2L317.1 459.6L320.5 455.8Z" fill="#afdbea" stroke="#afdbea"/>
<path d="M319.1 468.6L315.1 472.3L310.9 475.8L305.9 469.9L309.8 466.7L313.5 463.2Z" fill="#679dc9" stroke="#679dc9"/>
<path d="M310.9 475.8L306.6 479.1L302.2 482.3L297.7 476.0L301.8 473.1L305.9 469.9Z" fill="#87bcd9" stroke="#87bcd9"/>
<path d="M302.2 482.3L297.6 485.2L292.9 488.0L288.9 481.4L293.4 478.8L297.7 476.0Z" fill="#fde297" stroke="#fde297"/>
<path d="M292.9 488.0L288.1 490.6L283.1 492.9L279.8 486.0L284.4 483.8L288.9 481.4Z" fill="#9fcfe4" stroke="#9fcfe4"/>
<path d="M283.1 492.9L278.1 495.1L272.9 497.0L270.2 489.8L275.0 488.0L279.8 486.0Z" fill="#436eb1" stroke="#436eb1"/>
<path d="M272.9 497.0L267.7 498.7L262.4 500.2L260.4 492.8L265.3 491.4L270.2 489.8Z" fill="#4370b2" stroke="#4370b2"/>
<path d="M262.4 500.2L257.1 501.5L251.6 502.5L250.3 495.0L255.3 494.0L260.4 492.8Z" fill="#5c90c2" stroke="#5c90c2"/>
<path d="M251.6 502.5L246.2 503.3L240.7 503.9L240.0 496.3L245.2 495.7L250.3 495.0Z" fill="#fae5a6" stroke="#fae5a6"/>
<path d="M240.7 503.9L235.2 504.2L229.7 504.3L229.7 496.7L234.9 496.6L240.0 496.3Z" fill="#fed383" stroke="#fed383"/>
<path d="M229.7 504.3L224.2 504.2L218.7 503.9L219.4 496.3L224.5 496.6L229.7 496.7Z" fill="#fdbe70" stroke="#fdbe70"/>
<path d="M218.7 503.9L213.2 503.3L207.8 502.5L209.1 495.0L214.2 495.7L219.4 496.3Z" fill="#c1e4ef" stroke="#c1e4ef"/>
<path d="M207.8 502.5L202.3 501.5L197.0 500.2L199.0 492.8L204.1 494.0L209.1 495.0Z" fill="#4878b6" stroke="#4878b6"/>
<path d="M197.0 500.2L191.7 498.7L186.5 497.0L189.2 489.8L194.1 491.4L199.0 492.8Z" fill="#b2ddeb" stroke="#b2ddeb"/>
<path d="M186.5 497.0L181.3 495.1L176.3 492.9L179.6 486.0L184.4 488.0L189.2 489.8Z" fill="#e7f1e9" stroke="#e7f1e9"/>
<path d="M176.3 492.9L171.3 490.6L166.5 488.0L170.4 481.4L175.0 483.8L179.6 486.0Z" fill="#f7eab8" stroke="#f7eab8"/>
<path d="M166.5 488.0L161.8 485.2L157.2 482.3L161.7 476.0L166.0 478.8L170.4 481.4Z" fill="#f7e9b7" stroke="#f7e9b7"/>
<path d="M157.2 482.3L152.8 479.1L148.5 475.8L153.5 469.9L157.6 473.1L161.7 476.0Z" fill="#a0d0e4" stroke="#a0d0e4"/>
<path d="M148.5 475.8L144.3 472.3L140.3 468.6L145.9 463.2L149.6 466.7L153.5 469.9Z" fill="#bde2ee" stroke="#bde2ee"/>
<path d="M140.3 468.6L136.5 464.8L132.9 460.7L138.9 455.8L142.3 459.6L145.9 463.2Z" fill="#89beda" stroke="#89beda"/>
<path d="M132.9 460.7L129.4 456.6L126.2 452.3L132.6 447.9L135.7 452.0L138.9 455.8Z" fill="#e8f1e4" stroke="#e8f1e4"/>
<path d="M126.2 452.3L123.1 447.9L120.2 443.3L127.1 439.5L129.8 443.8L132.6 447.9Z" fill="#f8e8b1" stroke="#f8e8b1"/>
<path d="M120.2 443.3L117.6 438.7L115.1 433.9L122.3 430.7L124.6 435.1L127.1 439.5Z" fill="#e8f1e5" stroke="#e8f1e5"/>
<path d="M115.1 433.9L112.9 429.0L110.9 424.0L118.3 421.4L120.2 426.1L122.3 430.7Z" fill="#5183bb" stroke="#5183bb"/>
<path d="M110.9 424.0L109.2 419.0L107.6 413.9L115.2 411.9L116.7 416.7L118.3 421.4Z" fill="#598dc0" stroke="#598dc0"/>
<path d="M107.6 413.9L106.3 408.7L105.2 403.5L113.0 402.2L114.0 407.1L115.2 411.9Z" fill="#5c91c2" stroke="#5c91c2"/>
<path d="M105.2 403.5L104.4 398.2L103.8 392.9L111.7 392.3L112.2 397.2L113.0 402.2Z" fill="#679dc9" stroke="#679dc9"/>
<path d="M103.8 392.9L103.4 387.6L103.3 382.3L111.2 382.3L111.3 387.3L111.7 392.3Z" fill="#679ec9" stroke="#679ec9"/>
<path d="M103.3 382.3L103.4 377.0L103.8 371.7L111.7 372.3L111.3 377.3L111.2 382.3Z" fill="#c3e5f0" stroke="#c3e5f0"/>
<path d="M103.8 371.7L104.4 366.4L105.2 361.1L113.0 362.4L112.2 367.4L111.7 372.3Z" fill="#fbe49f" stroke="#fbe49f"/>
<path d="M105.2 361.1L106.3 355.9L107.6 350.7L115.2 352.7L114.0 357.5L113.0 362.4Z" fill="#fed787" stroke="#fed787"/>
<path d="M107.6 350.7L109.2 345.6L110.9 340.6L118.3 343.2L116.7 347.9L115.2 352.7Z" fill="#e1f3f7" stroke="#e1f3f7"/>
<path d="M110.9 340.6L112.9 335.6L115.1 330.7L122.3 333.9L120.2 338.5L118.3 343.2Z" fill="#99cbe1" stroke="#99cbe1"/>
<path d="M115.1 330.7L117.6 325.9L120.2 321.3L127.1 325.1L124.6 329.5L122.3 333.9Z" fill="#a7d6e7" stroke="#a7d6e7"/>
<path d="M120.2 321.3L123.1 316.7L126.2 312.3L132.6 316.7L129.8 320.8L127.1 325.1Z" fill="#e6f1ea" stroke="#e6f1ea"/>
<path d="M126.2 312.3L129.4 308.0L132.9 303.9L138.9 308.8L135.7 312.6L132.6 316.7Z" fill="#e9f1e4" stroke="#e9f1e4"/>
<path d="M132.9 303.9L136.5 299.8L140.3 296.0L145.9 301.4L142.3 305.0L138.9 308.8Z" fill="#e2f3f4" stroke="#e2f3f4"/>
<path d="M140.3 296.0L144.3 292.3L148.5 288.8L153.5 294.7L149.6 297.9L145.9 301.4Z" fill="#fde297" stroke="#fde297"/>
<path d="M148.5 288.8L152.8 285.5L157.2 282.3L161.7 288.6L157.6 291.5L153.5 294.7Z" fill="#f5ebbf" stroke="#f5ebbf"/>
<path d="M157.2 282.3L161.8 279.4L166.5 276.6L170.4 283.2L166.0 285.8L161.7 288.6Z" fill="#d7eff6" stroke="#d7eff6"/>
<path d="M166.5 276.6L171.3 274.0L176.3 271.7L179.6 278.6L175.0 280.8L170.4 283.2Z" fill="#bbe1ed" stroke="#bbe1ed"/>
<path d="M176.3 271.7L181.3 269.5L186.5 267.6L189.2 274.8L184.4 276.6L179.6 278.6Z" fill="#f6eab9" stroke="#f6eab9"/>
<path d="M186.5 267.6L191.7 265.9L197.0 264.4L199.0 271.8L194.1 273.2L189.2 274.8Z" fill="#e7f1e7" stroke="#e7f1e7"/>
<path d="M197.0 264.4L202.3 263.1L207.8 262.1L209.1 269.6L204.1 270.6L199.0 271.8Z" fill="#4a7bb7" stroke="#4a7bb7"/>
<path d="M207.8 262.1L213.2 261.3L218.7 260.7L219.4 268.3L214.2 268.9L209.1 269.6Z" fill="#4472b2" stroke="#4472b2"/>
<path d="M218.7 260.7L224.2 260.4L229.7 260.3L229.7 267.9L224.5 268.0L219.4 268.3Z" fill="#6398c6" stroke="#6398c6"/>
<path d="M229.7 252.6L235.6 252.8L241.4 253.1L240.7 260.7L235.2 260.4L229.7 260.3Z" fill="#dbf1f7" stroke="#dbf1f7"/>
<path d="M241.4 253.1L247.2 253.7L253.0 254.6L251.6 262.1L246.2 261.3L240.7 260.7Z" fill="#bfe3ef" stroke="#bfe3ef"/>
<path d="M253.0 254.6L258.8 255.7L264.5 257.0L262.4 264.4L257.1 263.1L251.6 262.1Z" fill="#4d7eb9" stroke="#4d7eb9"/>
<path d="M264.5 257.0L270.1 258.6L275.6 260.4L272.9 267.6L267.7 265.9L262.4 264.4Z" fill="#6da4cc" stroke="#6da4cc"/>
<path d="M275.6 260.4L281.1 262.5L286.5 264.8L283.1 271.7L278.1 269.5L272.9 267.6Z" fill="#f3eec9" stroke="#f3eec9"/>
<path d="M286.5 264.8L291.7 267.3L296.8 270.0L292.9 276.6L288.1 274.0L283.1 271.7Z" fill="#f9e7ac" stroke="#f9e7ac"/>
<path d="M296.8 270.0L301.9 272.9L306.7 276.1L302.2 282.3L297.6 279.4L292.9 276.6Z" fill="#c8e7f1" stroke="#c8e7f1"/>
<path d="M306.7 276.1L311.5 279.4L316.0 283.0L310.9 288.8L306.6 285.5L302.2 282.3Z" fill="#7cb4d5" stroke="#7cb4d5"/>
<path d="M316.0 283.0L320.4 286.7L324.7 290.6L319.1 296.0L315.1 292.3L310.9 288.8Z" fill="#88bdda" stroke="#88bdda"/>
<path d="M324.7 290.6L328.7 294.7L332.6 298.9L326.5 303.9L322.9 299.8L319.1 296.0Z" fill="#f1eecf" stroke="#f1eecf"/>
<path d="M332.6 298.9L336.2 303.4L339.7 307.9L333.2 312.3L330.0 308.0L326.5 303.9Z" fill="#ecf0dc" stroke="#ecf0dc"/>
<path d="M339.7 307.9L343.0 312.6L346.0 317.5L339.2 321.3L336.3 316.7L333.2 312.3Z" fill="#acd9e9" stroke="#acd9e9"/>
<path d="M346.0 317.5L348.8 322.4L351.4 327.5L344.3 330.7L341.8 325.9L339.2 321.3Z" fill="#aad9e9" stroke="#aad9e9"/>
<path d="M351.4 327.5L353.8 332.7L355.9 337.9L348.5 340.6L346.5 335.6L344.3 330.7Z" fill="#bfe3ef" stroke="#bfe3ef"/>
<path d="M355.9 337.9L357.8 343.3L359.4 348.7L351.8 350.7L350.2 345.6L348.5 340.6Z" fill="#feda8b" stroke="#feda8b"/>
<path d="M359.4 348.7L360.8 354.2L362.0 359.8L354.2 361.1L353.1 355.9L351.8 350.7Z" fill="#fdaf62" stroke="#fdaf62"/>
<path d="M362.0 359.8L362.9 365.4L363.5 371.0L355.6 371.7L355.0 366.4L354.2 361.1Z" fill="#fdc374" stroke="#fdc374"/>
<path d="M363.5 371.0L363.9 376.6L364.0 382.3L356.1 382.3L356.0 377.0L355.6 371.7Z" fill="#d7eff5" stroke="#d7eff5"/>
<path d="M364.0 382.3L363.9 388.0L363.5 393.6L355.6 392.9L356.0 387.6L356.1 382.3Z" fill="#669cc8" stroke="#669cc8"/>
<path d="M363.5 393.6L362.9 399.2L362.0 404.8L354.2 403.5L355.0 398.2L355.6 392.9Z" fill="#72abd0" stroke="#72abd0"/>
<path d="M362.0 404.8L360.8 410.4L359.4 415.9L351.8 413.9L353.1 408.7L354.2 403.5Z" fill="#6096c5" stroke="#6096c5"/>
<path d="M359.4 415.9L357.8 421.3L355.9 426.7L348.5 424.0L350.2 419.0L351.8 413.9Z" fill="#cae8f2" stroke="#cae8f2"/>
<path d="M355.9 426.7L353.8 431.9L351.4 437.1L344.3 433.9L346.5 429.0L348.5 424.0Z" fill="#d3edf4" stroke="#d3edf4"/>
<path d="M351.4 437.1L348.8 442.2L346.0 447.1L339.2 443.3L341.8 438.7L344.3 433.9Z" fill="#b8dfed" stroke="#b8dfed"/>
<path d="M346.0 447.1L343.0 452.0L339.7 456.7L333.2 452.3L336.3 447.9L339.2 443.3Z" fill="#c5e6f0" stroke="#c5e6f0"/>
<path d="M339.7 456.7L336.2 461.2L332.6 465.7L326.5 460.7L330.0 456.6L333.2 452.3Z" fill="#d5edf5" stroke="#d5edf5"/>
<path d="M332.6 465.7L328.7 469.9L324.7 474.0L319.1 468.6L322.9 464.8L326.5 460.7Z" fill="#b2dceb" stroke="#b2dceb"/>
<path d="M324.7 474.0L320.4 477.9L316.0 481.6L310.9 475.8L315.1 472.3L319.1 468.6Z" fill="#5285bc" stroke="#5285bc"/>
<path d="M316.0 481.6L311.5 485.2L306.7 488.5L302.2 482.3L306.6 479.1L310.9 475.8Z" fill="#6197c5" stroke="#6197c5"/>
<path d="M306.7 488.5L301.9 491.7L296.8 494.6L292.9 488.0L297.6 485.2L302.2 482.3Z" fill="#f5ecc3" stroke="#f5ecc3"/>
<path d="M296.8 494.6L291.7 497.3L286.5 499.8L283.1 492.9L288.1 490.6L292.9 488.0Z" fill="#e0f3f8" stroke="#e0f3f8"/>
<path d="M286.5 499.8L281.1 502.1L275.6 504.2L272.9 497.0L278.1 495.1L283.1 492.9Z" fill="#4169ae" stroke="#4169ae"/>
<path d="M275.6 504.2L270.1 506.0L264.5 507.6L262.4 500.2L267.7 498.7L272.9 497.0Z" fill="#497ab7" stroke="#497ab7"/>
<path d="M264.5 507.6L258.8 508.9L253.0 510.0L251.6 502.5L257.1 501.5L262.4 500.2Z" fill="#4d7fb9" stroke="#4d7fb9"/>
<path d="M253.0 510.0L247.2 510.9L241.4 511.5L240.7 503.9L246.2 503.3L251.6 502.5Z" fill="#f7e9b4" stroke="#f7e9b4"/>
<path d="M241.4 511.5L235.6 511.8L229.7 512.0L229.7 504.3L235.2 504.2L240.7 503.9Z" fill="#fce29a" stroke="#fce29a"/>
<path d="M229.7 512.0L223.8 511.8L218.0 511.5L218.7 503.9L224.2 504.2L229.7 504.3Z" fill="#fdbb6d" stroke="#fdbb6d"/>
<path d="M218.0 511.5L212.2 510.9L206.4 510.0L207.8 502.5L213.2 503.3L218.7 503.9Z" fill="#b8dfed" stroke="#b8dfed"/>
<path d="M206.4 510.0L200.6 508.9L194.9 507.6L197.0 500.2L202.3 501.5L207.8 502.5Z" fill="#5486bd" stroke="#5486bd"/>
<path d="M194.9 507.6L189.3 506.0L183.8 504.2L186.5 497.0L191.7 498.7L197.0 500.2Z" fill="#a8d6e8" stroke="#a8d6e8"/>
<path d="M183.8 504.2L178.3 502.1L172.9 499.8L176.3 492.9L181.3 495.1L186.5 497.0Z" fill="#eaf0e1" stroke="#eaf0e1"/>
<path d="M172.9 499.8L167.7 497.3L162.5 494.6L166.5 488.0L171.3 490.6L176.3 492.9Z" fill="#f7e9b4" stroke="#f7e9b4"/>
<path d="M162.5 494.6L157.5 491.7L152.7 488.5L157.2 482.3L161.8 485.2L166.5 488.0Z" fill="#fce39c" stroke="#fce39c"/>
<path d="M152.7 488.5L147.9 485.2L143.4 481.6L148.5 475.8L152.8 479.1L157.2 482.3Z" fill="#9acbe2" stroke="#9acbe2"/>
<path d="M143.4 481.6L139.0 477.9L134.7 474.0L140.3 468.6L144.3 472.3L148.5 475.8Z" fill="#669dc9" stroke="#669dc9"/>
<path d="M134.7 474.0L130.7 469.9L126.8 465.7L132.9 460.7L136.5 464.8L140.3 468.6Z" fill="#8ec2dc" stroke="#8ec2dc"/>
<path d="M126.8 465.7L123.2 461.2L119.7 456.7L126.2 452.3L129.4 456.6L132.9 460.7Z" fill="#f1efd1" stroke="#f1efd1"/>
<path d="M119.7 456.7L116.4 452.0L113.4 447.1L120.2 443.3L123.1 447.9L126.2 452.3Z" fill="#f6eaba" stroke="#f6eaba"/>
<path d="M113.4 447.1L110.6 442.2L108.0 437.1L115.1 433.9L117.6 438.7L120.2 443.3Z" fill="#daf0f6" stroke="#daf0f6"/>
<path d="M108.0 437.1L105.6 431.9L103.5 426.7L110.9 424.0L112.9 429.0L115.1 433.9Z" fill="#4777b5" stroke="#4777b5"/>
<path d="M103.5 426.7L101.6 421.3L100.0 415.9L107.6 413.9L109.2 419.0L110.9 424.0Z" fill="#7cb3d4" stroke="#7cb3d4"/>
<path d="M100.0 415.9L98.6 410.4L97.4 404.8L105.2 403.5L106.3 408.7L107.6 413.9Z" fill="#5f94c4" stroke="#5f94c4"/>
<path d="M97.4 404.8L96.5 399.2L95.9 393.6L103.8 392.9L104.4 398.2L105.2 403.5Z" fill="#74add1" stroke="#74add1"/>
<path d="M95.9 393.6L95.5 388.0L95.4 382.3L103.3 382.3L103.4 387.6L103.8 392.9Z" fill="#76afd2" stroke="#76afd2"/>
<path d="M95.4 382.3L95.5 376.6L95.9 371.0L103.8 371.7L103.4 377.0L103.3 382.3Z" fill="#d3edf4" stroke="#d3edf4"/>
<path d="M95.9 371.0L96.5 365.4L97.4 359.8L105.2 361.1L104.4 366.4L103.8 371.7Z" fill="#fde196" stroke="#fde196"/>
<path d="M97.4 359.8L98.6 354.2L100.0 348.7L107.6 350.7L106.3 355.9L105.2 361.1Z" fill="#feda8b" stroke="#feda8b"/>
<path d="M100.0 348.7L101.6 343.3L103.5 337.9L110.9 340.6L109.2 345.6L107.6 350.7Z" fill="#e4f2ef" stroke="#e4f2ef"/>
<path d="M103.5 337.9L105.6 332.7L108.0 327.5L115.1 330.7L112.9 335.6L110.9 340.6Z" fill="#94c7df" stroke="#94c7df"/>
<path d="M108.0 327.5L110.6 322.4L113.4 317.5L120.2 321.3L117.6 325.9L115.1 330.7Z" fill="#7fb6d6" stroke="#7fb6d6"/>
<path d="M113.4 317.5L116.4 312.6L119.7 307.9L126.2 312.3L123.1 316.7L120.2 321.3Z" fill="#cae8f2" stroke="#cae8f2"/>
<path d="M119.7 307.9L123.2 303.4L126.8 298.9L132.9 303.9L129.4 308.0L126.2 312.3Z" fill="#e0f3f8" stroke="#e0f3f8"/>
<path d="M126.8 298.9L130.7 294.7L134.7 290.6L140.3 296.0L136.5 299.8L132.9 303.9Z" fill="#dff2f8" stroke="#dff2f8"/>
<path d="M134.7 290.6L139.0 286.7L143.4 283.0L148.5 288.8L144.3 292.3L140.3 296.0Z" fill="#eeefd7" stroke="#eeefd7"/>
<path d="M143.4 283.0L147.9 279.4L152.7 276.1L157.2 282.3L152.8 285.5L148.5 288.8Z" fill="#fde195" stroke="#fde195"/>
<path d="M152.7 276.1L157.5 272.9L162.5 270.0L166.5 276.6L161.8 279.4L157.2 282.3Z" fill="#c7e7f1" stroke="#c7e7f1"/>
<path d="M162.5 270.0L167.7 267.3L172.9 264.8L176.3 271.7L171.3 274.0L166.5 276.6Z" fill="#e0f3f8" stroke="#e0f3f8"/>
<path d="M172.9 264.8L178.3 262.5L183.8 260.4L186.5 267.6L181.3 269.5L176.3 271.7Z" fill="#fde193" stroke="#fde193"/>
<path d="M183.8 260.4L189.3 258.6L194.9 257.0L197.0 264.4L191.7 265.9L186.5 267.6Z" fill="#cdeaf3" stroke="#cdeaf3"/>
<path d="M194.9 257.0L200.6 255.7L206.4 254.6L207.8 262.1L202.3 263.1L197.0 264.4Z" fill="#659bc8" stroke="#659bc8"/>
<path d="M206.4 254.6L212.2 253.7L218.0 253.1L218.7 260.7L213.2 261.3L207.8 262.1Z" fill="#4c7db8" stroke="#4c7db8"/>
<path d="M218.0 253.1L223.8 252.8L229.7 252.6L229.7 260.3L224.2 260.4L218.7 260.7Z" fill="#4878b6" stroke="#4878b6"/>
<path d="M229.7 245.0L235.9 245.1L242.1 245.5L241.4 253.1L235.6 252.8L229.7 252.6Z" fill="#c7e7f1" stroke="#c7e7f1"/>
<path d="M242.1 245.5L248.3 246.2L254.4 247.1L253.0 254.6L247.2 253.7L241.4 253.1Z" fill="#bde2ee" stroke="#bde2ee"/>
<path d="M254.4 247.1L260.5 248.3L266.5 249.7L264.5 257.0L258.8 255.7L253.0 254.6Z" fill="#426db0" stroke="#426db0"/>
<path d="M266.5 249.7L272.5 251.4L278.3 253.3L275.6 260.4L270.1 258.6L264.5 257.0Z" fill="#6ea6cd" stroke="#6ea6cd"/>
<path d="M278.3 253.3L284.1 255.5L289.8 257.9L286.5 264.8L281.1 262.5L275.6 260.4Z" fill="#fce29a" stroke="#fce29a"/>
<path d="M289.8 257.9L295.4 260.5L300.8 263.4L296.8 270.0L291.7 267.3L286.5 264.8Z" fill="#f2eecd" stroke="#f2eecd"/>
<path d="M300.8 263.4L306.1 266.5L311.3 269.8L306.7 276.1L301.9 272.9L296.8 270.0Z" fill="#9acce2" stroke="#9acce2"/>
<path d="M311.3 269.8L316.3 273.4L321.1 277.1L316.0 283.0L311.5 279.4L306.7 276.1Z" fill="#83b9d7" stroke="#83b9d7"/>
<path d="M321.1 277.1L325.8 281.1L330.3 285.2L324.7 290.6L320.4 286.7L316.0 283.0Z" fill="#7bb3d4" stroke="#7bb3d4"/>
<path d="M330.3 285.2L334.5 289.5L338.6 294.0L332.6 298.9L328.7 294.7L324.7 290.6Z" fill="#ebf0dd" stroke="#ebf0dd"/>
<path d="M338.6 294.0L342.5 298.7L346.2 303.5L339.7 307.9L336.2 303.4L332.6 298.9Z" fill="#e9f1e4" stroke="#e9f1e4"/>
<path d="M346.2 303.5L349.6 308.5L352.8 313.6L346.0 317.5L343.0 312.6L339.7 307.9Z" fill="#8ec2dc" stroke="#8ec2dc"/>
<path d="M352.8 313.6L355.8 318.9L358.6 324.3L351.4 327.5L348.8 322.4L346.0 317.5Z" fill="#afdbea" stroke="#afdbea"/>
<path d="M358.6 324.3L361.1 329.8L363.3 335.3L355.9 337.9L353.8 332.7L351.4 327.5Z" fill="#bae0ed" stroke="#bae0ed"/>
<path d="M363.3 335.3L365.3 341.0L367.1 346.8L359.4 348.7L357.8 343.3L355.9 337.9Z" fill="#feda8a" stroke="#feda8a"/>
<path d="M367.1 346.8L368.5 352.6L369.7 358.5L362.0 359.8L360.8 354.2L359.4 348.7Z" fill="#fed283" stroke="#fed283"/>
<path d="M369.7 358.5L370.7 364.4L371.4 370.3L363.5 371.0L362.9 365.4L362.0 359.8Z" fill="#fece7f" stroke="#fece7f"/>
<path d="M371.4 370.3L371.8 376.3L371.9 382.3L364.0 382.3L363.9 376.6L363.5 371.0Z" fill="#e5f2eb" stroke="#e5f2eb"/>
<path d="M371.9 382.3L371.8 388.3L371.4 394.3L363.5 393.6L363.9 388.0L364.0 382.3Z" fill="#5d92c3" stroke="#5d92c3"/>
<path d="M371.4 394.3L370.7 400.2L369.7 406.1L362.0 404.8L362.9 399.2L363.5 393.6Z" fill="#70a8ce" stroke="#70a8ce"/>
<path d="M369.7 406.1L368.5 412.0L367.1 417.8L359.4 415.9L360.8 410.4L362.0 404.8Z" fill="#426caf" stroke="#426caf"/>
<path d="M367.1 417.8L365.3 423.6L363.3 429.3L355.9 426.7L357.8 421.3L359.4 415.9Z" fill="#e3f2f1" stroke="#e3f2f1"/>
<path d="M363.3 429.3L361.1 434.8L358.6 440.3L351.4 437.1L353.8 431.9L355.9 426.7Z" fill="#e2f2f2" stroke="#e2f2f2"/>
<path d="M358.6 440.3L355.8 445.7L352.8 450.9L346.0 447.1L348.8 442.2L351.4 437.1Z" fill="#a8d7e8" stroke="#a8d7e8"/>
<path d="M352.8 450.9L349.6 456.1L346.2 461.1L339.7 456.7L343.0 452.0L346.0 447.1Z" fill="#d3edf4" stroke="#d3edf4"/>
<path d="M346.2 461.1L342.5 465.9L338.6 470.6L332.6 465.7L336.2 461.2L339.7 456.7Z" fill="#bce1ee" stroke="#bce1ee"/>
<path d="M338.6 470.6L334.5 475.1L330.3 479.4L324.7 474.0L328.7 469.9L332.6 465.7Z" fill="#a3d3e6" stroke="#a3d3e6"/>
<path d="M330.3 479.4L325.8 483.5L321.1 487.5L316.0 481.6L320.4 477.9L324.7 474.0Z" fill="#5588be" stroke="#5588be"/>
<path d="M321.1 487.5L316.3 491.2L311.3 494.8L306.7 488.5L311.5 485.2L316.0 481.6Z" fill="#81b7d7" stroke="#81b7d7"/>
<path d="M311.3 494.8L306.1 498.1L300.8 501.2L296.8 494.6L301.9 491.7L306.7 488.5Z" fill="#efefd4" stroke="#efefd4"/>
<path d="M300.8 501.2L295.4 504.1L289.8 506.7L286.5 499.8L291.7 497.3L296.8 494.6Z" fill="#c5e6f0" stroke="#c5e6f0"/>
<path d="M289.8 506.7L284.1 509.1L278.3 511.3L275.6 504.2L281.1 502.1L286.5 499.8Z" fill="#5385bc" stroke="#5385bc"/>
<path d="M278.3 511.3L272.5 513.2L266.5 514.9L264.5 507.6L270.1 506.0L275.6 504.2Z" fill="#5e93c3" stroke="#5e93c3"/>
<path d="M266.5 514.9L260.5 516.3L254.4 517.5L253.0 510.0L258.8 508.9L264.5 507.6Z" fill="#79b1d3" stroke="#79b1d3"/>
<path d="M254.4 517.5L248.3 518.4L242.1 519.1L241.4 511.5L247.2 510.9L253.0 510.0Z" fill="#f7e9b7" stroke="#f7e9b7"/>
<path d="M242.1 519.1L235.9 519.5L229.7 519.6L229.7 512.0L235.6 511.8L241.4 511.5Z" fill="#fedd8d" stroke="#fedd8d"/>
<path d="M229.7 519.6L223.5 519.5L217.3 519.1L218.0 511.5L223.8 511.8L229.7 512.0Z" fill="#fdbd6f" stroke="#fdbd6f"/>
<path d="M217.3 519.1L211.1 518.4L205.0 517.5L206.4 510.0L212.2 510.9L218.0 511.5Z" fill="#c0e3ef" stroke="#c0e3ef"/>
<path d="M205.0 517.5L198.9 516.3L192.9 514.9L194.9 507.6L200.6 508.9L206.4 510.0Z" fill="#4f81ba" stroke="#4f81ba"/>
<path d="M192.9 514.9L186.9 513.2L181.1 511.3L183.8 504.2L189.3 506.0L194.9 507.6Z" fill="#cce9f2" stroke="#cce9f2"/>
<path d="M181.1 511.3L175.3 509.1L169.6 506.7L172.9 499.8L178.3 502.1L183.8 504.2Z" fill="#efefd4" stroke="#efefd4"/>
<path d="M169.6 506.7L164.0 504.1L158.6 501.2L162.5 494.6L167.7 497.3L172.9 499.8Z" fill="#f6eabb" stroke="#f6eabb"/>
<path d="M158.6 501.2L153.3 498.1L148.1 494.8L152.7 488.5L157.5 491.7L162.5 494.6Z" fill="#fde195" stroke="#fde195"/>
<path d="M148.1 494.8L143.1 491.2L138.3 487.5L143.4 481.6L147.9 485.2L152.7 488.5Z" fill="#97c9e0" stroke="#97c9e0"/>
<path d="M138.3 487.5L133.6 483.5L129.1 479.4L134.7 474.0L139.0 477.9L143.4 481.6Z" fill="#5487bd" stroke="#5487bd"/>
<path d="M129.1 479.4L124.9 475.1L120.8 470.6L126.8 465.7L130.7 469.9L134.7 474.0Z" fill="#80b7d6" stroke="#80b7d6"/>
<path d="M120.8 470.6L116.9 465.9L113.2 461.1L119.7 456.7L123.2 461.2L126.8 465.7Z" fill="#ebf0df" stroke="#ebf0df"/>
<path d="M113.2 461.1L109.8 456.1L106.6 451.0L113.4 447.1L116.4 452.0L119.7 456.7Z" fill="#f7e9b4" stroke="#f7e9b4"/>
<path d="M106.6 451.0L103.6 445.7L100.8 440.3L108.0 437.1L110.6 442.2L113.4 447.1Z" fill="#e1f3f4" stroke="#e1f3f4"/>
<path d="M100.8 440.3L98.3 434.8L96.1 429.3L103.5 426.7L105.6 431.9L108.0 437.1Z" fill="#4e80ba" stroke="#4e80ba"/>
<path d="M96.1 429.3L94.1 423.6L92.3 417.8L100.0 415.9L101.6 421.3L103.5 426.7Z" fill="#6aa1cb" stroke="#6aa1cb"/>
<path d="M92.3 417.8L90.9 412.0L89.7 406.1L97.4 404.8L98.6 410.4L100.0 415.9Z" fill="#80b7d6" stroke="#80b7d6"/>
<path d="M89.7 406.1L88.7 400.2L88.0 394.3L95.9 393.6L96.5 399.2L97.4 404.8Z" fill="#72aad0" stroke="#72aad0"/>
<path d="M88.0 394.3L87.6 388.3L87.5 382.3L95.4 382.3L95.5 388.0L95.9 393.6Z" fill="#72abd0" stroke="#72abd0"/>
<path d="M87.5 382.3L87.6 376.3L88.0 370.3L95.9 371.0L95.5 376.6L95.4 382.3Z" fill="#e4f2ee" stroke="#e4f2ee"/>
<path d="M88.0 370.3L88.7 364.4L89.7 358.5L97.4 359.8L96.5 365.4L95.9 371.0Z" fill="#f6eab9" stroke="#f6eab9"/>
<path d="M89.7 358.5L90.9 352.6L92.3 346.8L100.0 348.7L98.6 354.2L97.4 359.8Z" fill="#f8e8b2" stroke="#f8e8b2"/>
<path d="M92.3 346.8L94.1 341.0L96.1 335.3L103.5 337.9L101.6 343.3L100.0 348.7Z" fill="#b8e0ed" stroke="#b8e0ed"/>
<path d="M96.1 335.3L98.3 329.8L100.8 324.3L108.0 327.5L105.6 332.7L103.5 337.9Z" fill="#97c9e0" stroke="#97c9e0"/>
<path d="M100.8 324.3L103.6 318.9L106.6 313.6L113.4 317.5L110.6 322.4L108.0 327.5Z" fill="#7eb5d5" stroke="#7eb5d5"/>
<path d="M106.6 313.6L109.8 308.5L113.2 303.5L119.7 307.9L116.4 312.6L113.4 317.5Z" fill="#cce9f2" stroke="#cce9f2"/>
<path d="M113.2 303.5L116.9 298.7L120.8 294.0L126.8 298.9L123.2 303.4L119.7 307.9Z" fill="#e6f1ea" stroke="#e6f1ea"/>
<path d="M120.8 294.0L124.9 289.5L129.1 285.2L134.7 290.6L130.7 294.7L126.8 298.9Z" fill="#e4f2ef" stroke="#e4f2ef"/>
<path d="M129.1 285.2L133.6 281.1L138.3 277.1L143.4 283.0L139.0 286.7L134.7 290.6Z" fill="#f7e9b6" stroke="#f7e9b6"/>
<path d="M138.3 277.1L143.1 273.4L148.1 269.8L152.7 276.1L147.9 279.4L143.4 283.0Z" fill="#fde194" stroke="#fde194"/>
<path d="M148.1 269.8L153.3 266.5L158.6 263.4L162.5 270.0L157.5 272.9L152.7 276.1Z" fill="#e3f2f1" stroke="#e3f2f1"/>
<path d="M158.6 263.4L164.0 260.5L169.6 257.9L172.9 264.8L167.7 267.3L162.5 270.0Z" fill="#d2ecf4" stroke="#d2ecf4"/>
<path d="M169.6 257.9L175.3 255.5L181.1 253.3L183.8 260.4L178.3 262.5L172.9 264.8Z" fill="#fdc375" stroke="#fdc375"/>
<path d="M181.1 253.3L186.9 251.4L192.9 249.7L194.9 257.0L189.3 258.6L183.8 260.4Z" fill="#e6f1ea" stroke="#e6f1ea"/>
<path d="M192.9 249.7L198.9 248.3L205.0 247.1L206.4 254.6L200.6 255.7L194.9 257.0Z" fill="#5d92c3" stroke="#5d92c3"/>
<path d="M205.0 247.1L211.1 246.2L217.3 245.5L218.0 253.1L212.2 253.7L206.4 254.6Z" fill="#4778b5" stroke="#4778b5"/>
<path d="M217.3 245.5L223.5 245.1L229.7 245.0L229.7 252.6L223.8 252.8L218.0 253.1Z" fill="#426db0" stroke="#426db0"/>
</g>
<ellipse cx="230.5" cy="383.5" rx="47.7" ry="46.2" fill="none" stroke="#ffffc0" stroke-width="1" stroke-opacity="0.9"/>
<ellipse cx="230.5" cy="383.5" rx="95.3" ry="92.5" fill="none" stroke="#ffffc0" stroke-width="1" stroke-opacity="0.9"/>
<path d="M230.5 383.5L230.5 244.8M230.5 383.5L331.6 285.4M230.5 383.5L373.5 383.5M230.5 383.5L331.6 481.6M230.5 383.5L230.5 522.2M230.5 383.5L129.4 481.6M230.5 383.5L87.5 383.5M230.5 383.5L129.4 285.4" stroke="#ffffc0" stroke-width="1" stroke-opacity="0.9" fill="none"/>
<ellipse cx="230.5" cy="383.5" rx="143.0" ry="138.7" fill="none" stroke="#ffffc0" stroke-width="1.25"/>
<path d="M230.5 383.5L93.3 420.9" stroke="#ff9a1a" stroke-width="1"/>
<circle cx="93.3" cy="420.9" r="3.6" fill="#ffa000"/><circle cx="229.6" cy="245.6" r="3.3" fill="#ffa000"/>
<g id="sats" font-family="'Liberation Serif', serif" font-size="13.2px" fill="#00f000" style="font-family:'Liberation Serif',serif">
<text x="240.8" y="238.3" textLength="24.5" lengthAdjust="spacingAndGlyphs">C34</text>
<text x="185.5" y="240.7" textLength="24.0" lengthAdjust="spacingAndGlyphs">E31</text>
<text x="182.2" y="250.3" textLength="24.5" lengthAdjust="spacingAndGlyphs">C06</text>
<text x="194.3" y="250.5" textLength="24.0" lengthAdjust="spacingAndGlyphs">E05</text>
<text x="186.8" y="257.0" textLength="24.9" lengthAdjust="spacingAndGlyphs">G39</text>
<text x="212.2" y="264.6" textLength="24.5" lengthAdjust="spacingAndGlyphs">C11</text>
<text x="204.0" y="290.6" textLength="24.3" lengthAdjust="spacingAndGlyphs">R18</text>
<text x="176.1" y="298.8" textLength="24.5" lengthAdjust="spacingAndGlyphs">C43</text>
<text x="132.6" y="282.0" textLength="24.9" lengthAdjust="spacingAndGlyphs">G08</text>
<text x="148.2" y="284.3" textLength="24.5" lengthAdjust="spacingAndGlyphs">C40</text>
<text x="131.2" y="295.3" textLength="24.5" lengthAdjust="spacingAndGlyphs">C07</text>
<text x="181.5" y="309.1" textLength="27.7" lengthAdjust="spacingAndGlyphs">J199</text>
<text x="112.3" y="317.4" textLength="24.9" lengthAdjust="spacingAndGlyphs">G04</text>
<text x="119.3" y="315.0" textLength="24.5" lengthAdjust="spacingAndGlyphs">C10</text>
<text x="112.2" y="331.5" textLength="27.7" lengthAdjust="spacingAndGlyphs">J200</text>
<text x="113.8" y="331.2" textLength="27.7" lengthAdjust="spacingAndGlyphs">J209</text>
<text x="106.7" y="343.5" textLength="24.5" lengthAdjust="spacingAndGlyphs">C08</text>
<text x="101.3" y="351.2" textLength="24.5" lengthAdjust="spacingAndGlyphs">C60</text>
<text x="125.6" y="350.1" textLength="24.0" lengthAdjust="spacingAndGlyphs">E16</text>
<text x="151.2" y="318.5" textLength="24.5" lengthAdjust="spacingAndGlyphs">C03</text>
<text x="154.4" y="344.3" textLength="24.5" lengthAdjust="spacingAndGlyphs">C49</text>
<text x="108.4" y="369.3" textLength="24.3" lengthAdjust="spacingAndGlyphs">R05</text>
<text x="96.3" y="375.5" textLength="24.5" lengthAdjust="spacingAndGlyphs">C41</text>
<text x="172.3" y="375.6" textLength="24.3" lengthAdjust="spacingAndGlyphs">R19</text>
<text x="179.5" y="359.2" textLength="24.3" lengthAdjust="spacingAndGlyphs">R06</text>
<text x="181.2" y="361.6" textLength="27.7" lengthAdjust="spacingAndGlyphs">J208</text>
<text x="139.3" y="396.9" textLength="24.5" lengthAdjust="spacingAndGlyphs">C28</text>
<text x="117.5" y="404.6" textLength="24.0" lengthAdjust="spacingAndGlyphs">E36</text>
<text x="174.8" y="401.8" textLength="24.5" lengthAdjust="spacingAndGlyphs">C33</text>
<text x="164.6" y="411.9" textLength="24.9" lengthAdjust="spacingAndGlyphs">G07</text>
<text x="181.0" y="411.3" textLength="24.3" lengthAdjust="spacingAndGlyphs">R04</text>
<text x="158.2" y="419.1" textLength="24.5" lengthAdjust="spacingAndGlyphs">C59</text>
<text x="148.7" y="427.6" textLength="24.5" lengthAdjust="spacingAndGlyphs">C16</text>
<text x="165.5" y="427.6" textLength="24.9" lengthAdjust="spacingAndGlyphs">G18</text>
<text x="97.3" y="427.9" textLength="24.0" lengthAdjust="spacingAndGlyphs">E30</text>
<text x="133.4" y="433.4" textLength="24.0" lengthAdjust="spacingAndGlyphs">E25</text>
<text x="163.4" y="466.6" textLength="24.3" lengthAdjust="spacingAndGlyphs">R20</text>
<text x="139.8" y="469.3" textLength="24.5" lengthAdjust="spacingAndGlyphs">C27</text>
<text x="149.3" y="471.1" textLength="24.3" lengthAdjust="spacingAndGlyphs">R02</text>
<text x="136.2" y="479.8" textLength="24.9" lengthAdjust="spacingAndGlyphs">G17</text>
<text x="208.3" y="305.6" textLength="24.5" lengthAdjust="spacingAndGlyphs">C56</text>
<text x="217.2" y="304.6" textLength="24.9" lengthAdjust="spacingAndGlyphs">G01</text>
<text x="248.9" y="299.4" textLength="24.5" lengthAdjust="spacingAndGlyphs">C62</text>
<text x="248.8" y="307.0" textLength="24.5" lengthAdjust="spacingAndGlyphs">C04</text>
<text x="250.6" y="316.5" textLength="24.9" lengthAdjust="spacingAndGlyphs">G31</text>
<text x="227.2" y="320.8" textLength="27.7" lengthAdjust="spacingAndGlyphs">J195</text>
<text x="264.5" y="351.8" textLength="24.0" lengthAdjust="spacingAndGlyphs">E09</text>
<text x="277.5" y="360.2" textLength="24.0" lengthAdjust="spacingAndGlyphs">E06</text>
<text x="271.6" y="363.5" textLength="24.9" lengthAdjust="spacingAndGlyphs">G28</text>
<text x="280.7" y="373.4" textLength="24.0" lengthAdjust="spacingAndGlyphs">E04</text>
<text x="308.2" y="367.8" textLength="24.0" lengthAdjust="spacingAndGlyphs">E14</text>
<text x="299.5" y="376.4" textLength="24.0" lengthAdjust="spacingAndGlyphs">E12</text>
<text x="325.4" y="363.4" textLength="24.9" lengthAdjust="spacingAndGlyphs">G10</text>
<text x="231.8" y="374.4" textLength="27.7" lengthAdjust="spacingAndGlyphs">J193</text>
<text x="317.2" y="384.5" textLength="24.5" lengthAdjust="spacingAndGlyphs">C26</text>
<text x="335.6" y="386.3" textLength="24.9" lengthAdjust="spacingAndGlyphs">G03</text>
<text x="348.2" y="408.5" textLength="24.5" lengthAdjust="spacingAndGlyphs">C21</text>
<text x="310.8" y="411.0" textLength="24.5" lengthAdjust="spacingAndGlyphs">C30</text>
<text x="319.9" y="409.5" textLength="24.3" lengthAdjust="spacingAndGlyphs">R13</text>
<text x="268.2" y="414.0" textLength="24.5" lengthAdjust="spacingAndGlyphs">C42</text>
<text x="280.1" y="428.0" textLength="24.9" lengthAdjust="spacingAndGlyphs">G32</text>
<text x="267.7" y="437.4" textLength="24.3" lengthAdjust="spacingAndGlyphs">R03</text>
<text x="344.2" y="431.5" textLength="24.9" lengthAdjust="spacingAndGlyphs">G25</text>
<text x="276.4" y="487.5" textLength="24.3" lengthAdjust="spacingAndGlyphs">R12</text>
<text x="295.8" y="485.8" textLength="24.5" lengthAdjust="spacingAndGlyphs">C45</text>
<text x="291.4" y="299.7" textLength="24.5" lengthAdjust="spacingAndGlyphs">C24</text>
<text x="313.9" y="300.6" textLength="24.3" lengthAdjust="spacingAndGlyphs">R14</text>
<text x="231.0" y="390.8" textLength="24.0" lengthAdjust="spacingAndGlyphs">E10</text>
<text x="222.5" y="392.6" textLength="24.0" lengthAdjust="spacingAndGlyphs">E11</text>
<text x="213.4" y="400.2" textLength="24.5" lengthAdjust="spacingAndGlyphs">C36</text>
<text x="219.4" y="410.3" textLength="24.9" lengthAdjust="spacingAndGlyphs">G14</text>
<text x="190.8" y="416.2" textLength="24.5" lengthAdjust="spacingAndGlyphs">C38</text>
<path d="M249.6 247.3h7M253.1 243.8v7M194.0 249.7h7M197.5 246.2v7M191.0 259.3h7M194.5 255.8v7M202.8 259.5h7M206.3 256.0v7M195.7 266.0h7M199.2 262.5v7M220.9 273.6h7M224.4 270.1v7M212.7 299.6h7M216.2 296.1v7M184.8 307.8h7M188.3 304.3v7M141.5 291.0h7M145.0 287.5v7M156.9 293.3h7M160.4 289.8v7M140.0 304.3h7M143.5 300.8v7M191.8 318.1h7M195.3 314.6v7M121.3 326.4h7M124.8 322.9v7M128.1 324.0h7M131.6 320.5v7M122.5 340.5h7M126.0 337.0v7M124.1 340.2h7M127.6 336.7v7M115.4 352.5h7M118.9 349.0v7M110.1 360.2h7M113.6 356.7v7M134.1 359.1h7M137.6 355.6v7M159.9 327.5h7M163.4 324.0v7M163.2 353.3h7M166.7 349.8v7M117.1 378.3h7M120.6 374.8v7M105.1 384.5h7M108.6 381.0v7M181.0 384.6h7M184.5 381.1v7M188.2 368.2h7M191.7 364.7v7M191.5 370.6h7M195.0 367.1v7M148.1 405.9h7M151.6 402.4v7M126.0 413.6h7M129.5 410.1v7M183.5 410.8h7M187.0 407.3v7M173.5 420.9h7M177.0 417.4v7M189.7 420.3h7M193.2 416.8v7M166.9 428.1h7M170.4 424.6v7M157.4 436.6h7M160.9 433.1v7M174.4 436.6h7M177.9 433.1v7M105.8 436.9h7M109.3 433.4v7M141.9 442.4h7M145.4 438.9v7M172.1 475.6h7M175.6 472.1v7M148.5 478.3h7M152.0 474.8v7M158.0 480.1h7M161.5 476.6v7M145.2 488.8h7M148.7 485.3v7M217.1 314.6h7M220.6 311.1v7M226.1 313.6h7M229.6 310.1v7M257.6 308.4h7M261.1 304.9v7M257.5 316.0h7M261.0 312.5v7M259.5 325.5h7M263.0 322.0v7M237.5 329.8h7M241.0 326.3v7M273.0 360.8h7M276.5 357.3v7M286.0 369.2h7M289.5 365.7v7M280.5 372.5h7M284.0 369.0v7M289.2 382.4h7M292.7 378.9v7M316.7 376.8h7M320.2 373.3v7M308.0 385.4h7M311.5 381.9v7M334.4 372.4h7M337.9 368.9v7M242.1 383.4h7M245.6 379.9v7M326.0 393.5h7M329.5 390.0v7M344.5 395.3h7M348.0 391.8v7M357.0 417.5h7M360.5 414.0v7M319.5 420.0h7M323.0 416.5v7M328.5 418.5h7M332.0 415.0v7M277.0 423.0h7M280.5 419.5v7M289.0 437.0h7M292.5 433.5v7M276.3 446.4h7M279.8 442.9v7M353.2 440.5h7M356.7 437.0v7M285.0 496.5h7M288.5 493.0v7M304.5 494.8h7M308.0 491.3v7M300.1 308.7h7M303.6 305.2v7M322.5 309.6h7M326.0 306.1v7M239.5 399.8h7M243.0 396.3v7M231.0 401.6h7M234.5 398.1v7M222.2 409.2h7M225.7 405.7v7M228.3 419.3h7M231.8 415.8v7M199.5 425.2h7M203.0 421.7v7M327.1 365.4h7M330.6 361.9v7M298.9 369.0h7M302.4 365.5v7" stroke="#00f000" stroke-width="1" fill="none"/>
</g>
</g>
<g id="waterfall">
<text x="666.22" y="195.00" textLength="106.97" lengthAdjust="spacingAndGlyphs" fill="#ffffc0">Waterfall Plot</text>
<defs>
<linearGradient id="gw" gradientUnits="userSpaceOnUse" x1="694.0" y1="283" x2="666.00" y2="442.07">
<stop offset="0.0000" stop-color="#fbe8bb"/>
<stop offset="0.0488" stop-color="#fbe8bb"/>
<stop offset="0.1341" stop-color="#fbedc6"/>
<stop offset="0.1829" stop-color="#fce7b5"/>
<stop offset="0.2561" stop-color="#fbeeca"/>
<stop offset="0.3659" stop-color="#fde3a9"/>
<stop offset="0.4695" stop-color="#fcecc3"/>
<stop offset="0.5549" stop-color="#f6f4e0"/>
<stop offset="0.6159" stop-color="#e4f2f5"/>
<stop offset="0.6707" stop-color="#cfe7f1"/>
<stop offset="0.7500" stop-color="#b9dbec"/>
<stop offset="0.8659" stop-color="#aad0e6"/>
<stop offset="1.0000" stop-color="#9cc7e1"/>
</linearGradient>
<linearGradient id="gr" gradientUnits="userSpaceOnUse" x1="829.32" y1="363.30" x2="842.68" y2="396.70">
<stop offset="0.000" stop-color="#fbefcc" stop-opacity="0"/>
<stop offset="0.250" stop-color="#f6f4e0" stop-opacity="0.85"/>
<stop offset="0.417" stop-color="#e2f1f5" stop-opacity="1"/>
<stop offset="0.639" stop-color="#c0deed" stop-opacity="1"/>
<stop offset="0.861" stop-color="#abd1e7" stop-opacity="1"/>
<stop offset="1.000" stop-color="#a3cce4" stop-opacity="1"/>
</linearGradient>
<clipPath id="cw"><path d="M528.2 409.2L526.4 405.7L525.9 397.5L527.0 387.5L529.4 384.0L535.2 381.7L539.9 377.6L544.6 371.7L545.2 360.0L545.2 353.2L546.4 346.0L547.5 342.7L548.5 339.3L549.5 335.1L550.5 333.9L551.7 332.3L552.9 329.6L554.0 329.4L555.2 329.2L556.4 328.9L557.5 329.5L558.6 327.4L559.8 327.4L561.0 324.3L562.1 323.7L563.3 321.8L564.5 320.4L565.5 320.6L566.5 317.2L567.5 318.3L568.6 317.2L569.6 317.5L570.6 316.9L571.6 315.1L572.8 314.7L574.0 315.6L575.1 313.4L576.3 313.4L577.4 312.1L578.4 312.9L579.5 313.7L580.6 314.7L581.6 313.5L582.7 313.4L583.7 313.8L584.8 311.7L585.9 313.5L586.9 314.5L588.0 313.4L589.1 309.4L590.3 308.1L591.3 306.7L592.4 307.1L593.4 308.0L594.5 307.7L595.5 308.1L596.6 308.4L597.6 307.9L598.7 308.0L599.7 308.1L600.9 309.8L602.1 307.5L603.2 307.3L604.4 305.2L605.5 302.8L606.7 299.3L607.9 297.1L609.1 293.4L610.3 293.5L611.4 292.7L612.6 290.5L613.7 292.3L614.9 291.7L615.9 292.9L617.0 291.6L618.0 290.4L619.1 292.4L620.1 290.7L621.2 290.3L622.2 291.4L623.3 293.2L624.3 292.9L625.5 290.6L626.6 287.6L627.8 286.2L629.0 283.1L630.1 283.4L631.3 282.3L632.5 279.2L633.6 279.5L634.8 280.1L636.0 280.0L637.4 280.7L638.8 280.5L639.9 281.7L641.0 280.7L642.1 281.3L643.1 282.3L644.2 282.3L645.3 282.3L646.4 282.3L647.4 283.5L648.5 281.5L649.5 283.6L650.6 283.5L651.6 283.7L652.7 284.5L653.7 282.1L654.8 283.9L655.8 284.0L656.8 284.7L657.9 284.9L658.9 284.8L660.0 286.0L661.0 286.2L662.1 286.0L663.1 286.6L664.2 288.3L665.2 287.5L666.3 288.1L667.3 286.3L668.4 288.4L669.5 287.8L670.5 288.8L671.6 288.3L672.6 286.1L673.7 289.0L674.8 289.4L675.8 289.5L676.9 289.3L677.9 289.6L679.0 288.9L680.0 288.8L681.0 288.6L682.0 288.8L683.0 288.9L684.1 288.7L685.1 288.7L686.1 289.0L687.1 287.7L688.1 287.2L689.1 289.4L690.1 290.2L691.1 290.1L692.1 290.5L693.2 290.6L694.2 290.3L695.3 291.5L696.4 290.9L697.5 291.2L698.5 291.0L699.6 291.1L700.7 291.4L701.8 291.4L702.9 291.9L703.9 291.9L705.0 291.6L706.0 291.8L707.0 292.9L708.0 291.0L709.0 293.4L710.0 293.9L711.0 292.7L712.0 294.6L713.1 292.9L714.1 293.2L715.2 295.0L716.3 295.7L717.4 295.0L718.4 296.2L719.5 295.5L720.6 295.4L721.7 294.5L722.7 296.3L723.8 296.3L724.9 296.0L725.9 296.9L727.0 296.9L728.1 297.8L729.1 297.0L730.2 298.2L731.2 297.9L732.3 296.7L733.4 298.0L734.4 297.5L735.5 298.1L736.5 298.4L737.6 298.1L738.6 298.2L739.6 299.7L740.7 300.1L741.7 299.8L742.8 297.9L743.8 300.4L744.8 299.6L745.9 300.2L746.9 298.1L747.9 298.9L749.0 299.1L750.0 300.8L751.0 300.9L752.0 302.2L753.0 301.4L754.0 301.2L755.0 301.7L756.0 302.0L757.0 299.5L758.0 300.5L759.0 302.3L760.0 302.9L761.0 302.0L762.0 302.0L763.0 302.3L764.0 303.1L765.0 302.5L766.0 302.9L767.0 303.4L768.0 303.1L769.0 301.8L770.0 303.6L771.0 302.6L772.0 304.6L773.0 304.1L774.0 304.4L775.0 305.5L776.0 303.2L777.0 302.9L778.0 305.3L779.0 305.3L780.1 304.9L781.1 305.4L782.1 305.9L783.1 305.9L784.1 306.1L785.1 304.7L786.1 304.1L787.1 306.5L788.1 306.7L789.1 304.8L790.1 307.2L791.1 307.2L792.1 307.3L793.1 307.1L794.1 306.1L795.1 306.3L796.1 308.6L797.1 308.2L798.1 308.7L799.1 308.8L800.1 307.2L801.1 310.2L802.1 307.5L803.1 309.7L804.1 310.7L805.1 309.9L806.1 309.8L807.1 310.1L808.1 309.4L809.1 311.1L810.1 311.5L811.1 309.9L812.1 311.0L813.1 310.0L814.1 311.8L815.1 313.2L816.1 311.2L817.1 312.4L818.1 312.6L819.1 311.2L820.2 312.8L821.2 312.7L822.3 311.6L823.3 313.8L824.4 314.3L825.4 314.5L826.5 314.1L827.5 313.1L828.6 316.0L829.6 315.4L830.7 315.8L831.7 315.2L832.8 315.8L833.8 315.7L834.9 316.3L836.0 314.4L837.0 316.2L838.1 317.1L839.1 315.5L840.2 317.7L841.3 318.5L842.3 317.1L843.4 317.5L844.5 316.4L845.5 317.5L846.6 319.0L847.7 318.7L848.8 316.8L849.8 317.0L850.9 318.4L852.0 319.2L853.1 318.9L854.1 319.9L855.2 319.3L856.3 320.1L857.3 319.3L858.4 319.9L859.5 320.3L860.5 320.0L861.6 320.7L862.6 319.8L863.7 320.8L864.8 320.7L865.8 321.5L866.9 321.1L868.0 321.7L869.0 322.7L870.1 321.5L871.2 322.3L872.2 322.6L873.3 322.9L874.3 321.1L875.4 322.9L876.5 324.2L877.5 323.5L878.6 324.0L879.7 323.2L880.7 324.2L881.8 325.1L882.9 324.7L883.9 325.0L885.0 325.0L886.0 325.6L887.1 325.6L888.2 325.0L889.2 325.9L890.3 325.2L891.5 326.9L892.6 326.5L893.8 325.6L895.0 328.1L896.8 332.2L897.3 339.2L898.5 343.0L899.7 346.3L900.9 353.3L901.9 353.0L903.0 353.1L904.0 354.0L905.0 353.3L906.1 356.0L907.3 359.1L909.1 363.2L910.3 361.9L911.5 363.1L912.6 362.2L913.8 363.2L914.8 362.6L915.8 361.2L916.9 362.3L917.9 362.1L919.6 363.2L920.8 367.3L920.8 384.2L917.2 391.0L916.2 390.6L915.1 389.7L914.0 382.9L913.0 386.9L911.9 384.6L910.7 389.7L909.6 387.0L908.5 390.3L907.3 390.9L906.2 392.4L905.1 393.6L903.9 392.0L902.8 390.3L901.7 390.4L900.5 392.0L899.4 389.7L898.3 389.5L897.2 391.3L896.1 389.3L895.0 394.5L893.9 392.4L892.5 396.8L891.2 397.9L889.8 394.5L888.4 389.7L887.4 388.4L886.3 388.2L885.3 387.5L884.3 386.2L883.2 386.4L882.0 386.9L880.9 386.9L879.8 387.4L878.6 386.2L877.5 386.2L876.4 386.0L875.2 387.3L874.1 387.7L873.0 388.5L871.8 386.6L870.7 388.3L869.7 387.6L868.7 384.1L867.6 382.8L866.6 381.4L865.5 381.6L864.4 378.8L863.3 380.2L862.2 381.0L861.1 379.4L860.0 380.6L858.9 381.7L857.8 378.2L856.7 382.9L855.6 384.2L854.2 386.0L852.9 388.3L851.5 385.4L850.2 381.4L849.1 380.3L848.0 381.7L846.9 380.6L845.8 378.8L844.7 378.7L843.7 379.1L842.7 378.4L841.6 379.7L840.6 377.9L839.6 374.1L838.5 379.9L837.5 379.7L836.5 382.1L835.5 377.6L834.5 378.2L833.4 378.0L832.4 380.8L831.0 383.3L829.6 385.5L828.5 381.3L827.3 380.8L826.2 381.4L825.0 383.7L823.8 385.6L822.6 389.5L821.4 392.4L820.4 393.0L819.3 396.8L818.3 400.6L817.3 400.6L816.3 398.6L815.2 397.0L814.2 396.1L813.2 393.8L812.2 391.7L811.2 392.8L810.1 399.8L809.1 402.0L807.8 408.8L806.4 413.4L805.0 418.4L803.6 426.8L802.3 437.5L801.0 445.1L799.6 452.5L798.7 448.2L797.7 445.7L796.6 448.7L795.6 450.2L794.5 447.3L793.5 450.4L792.4 445.0L791.4 451.4L790.3 450.3L789.2 451.2L788.2 451.7L786.4 456.1L785.4 455.8L784.3 454.5L783.3 454.1L782.2 454.6L781.2 453.5L780.1 450.9L779.1 455.3L778.0 454.7L777.0 453.0L775.9 456.1L774.8 450.4L773.8 452.0L772.7 450.9L771.7 448.7L770.6 447.3L769.5 447.6L768.5 447.9L767.4 444.3L766.4 450.0L765.3 448.2L764.2 450.2L763.1 450.8L762.1 449.5L761.0 454.4L759.6 449.8L758.3 446.5L757.2 443.0L756.2 445.8L755.1 446.9L754.1 445.8L753.0 446.5L751.8 449.5L750.7 452.3L749.5 456.1L748.2 454.3L746.9 450.9L745.6 439.9L744.3 437.7L743.2 437.5L742.2 433.9L741.1 435.4L740.1 432.8L739.0 436.8L737.9 438.4L736.9 440.1L735.8 441.2L734.8 445.1L733.7 446.5L732.6 439.9L731.5 444.1L730.4 442.0L729.3 441.2L728.2 441.8L727.2 446.1L726.1 444.9L725.1 441.7L724.0 447.3L722.7 443.9L721.4 435.9L720.4 436.3L719.3 439.6L718.2 434.2L717.2 438.3L716.1 439.5L715.1 441.4L714.0 442.2L713.0 438.0L711.9 442.9L710.9 443.8L709.9 441.9L708.9 441.8L707.9 439.3L706.8 440.8L705.8 437.3L704.8 435.2L703.8 439.4L702.6 435.0L701.5 434.4L700.3 431.5L699.2 432.4L698.1 428.5L697.1 434.9L696.0 433.4L694.9 436.6L693.8 433.7L692.8 435.4L691.7 432.7L690.6 435.9L689.5 435.7L688.4 437.8L687.3 438.8L686.2 439.4L685.2 438.5L684.2 435.7L683.2 435.5L682.1 432.7L681.1 432.5L680.1 430.6L679.1 431.1L678.0 428.5L677.0 432.3L676.0 431.5L675.0 433.3L673.9 431.4L672.9 433.5L671.9 428.0L670.9 432.1L669.8 432.5L668.8 434.9L667.8 434.4L666.7 432.8L665.7 433.0L664.7 432.8L663.7 433.3L662.6 433.0L661.6 433.3L660.5 433.4L659.4 427.1L658.3 428.6L657.2 431.2L656.2 424.3L655.1 428.2L654.0 424.1L652.9 426.2L651.8 427.4L650.6 429.5L649.5 429.7L648.4 432.4L647.3 431.1L646.1 433.8L645.0 435.9L643.6 430.2L642.3 423.6L641.2 425.2L640.1 424.1L639.1 425.0L638.0 428.0L636.7 425.6L635.4 427.4L634.2 429.1L633.0 433.7L631.9 433.6L630.7 435.6L629.5 424.0L628.4 417.4L627.0 417.6L625.5 418.0L624.3 418.3L623.1 414.8L622.0 419.1L620.8 418.0L619.6 420.9L618.2 418.4L616.7 415.1L615.7 414.7L614.7 415.9L613.6 415.9L612.6 416.8L611.4 417.9L610.3 419.2L609.1 420.9L607.9 418.5L606.7 420.9L605.5 426.2L604.4 424.1L603.2 423.6L602.0 423.4L600.9 420.4L599.7 421.2L598.5 421.7L597.3 423.3L596.1 418.7L595.0 419.8L593.8 419.8L592.6 418.4L591.5 417.6L590.3 417.4L589.1 415.4L588.0 413.3L587.0 414.5L586.0 415.4L584.9 416.1L583.9 416.3L582.9 415.1L581.9 419.1L580.9 419.8L579.8 420.7L578.6 422.7L577.4 418.6L576.0 419.5L574.5 417.4L573.3 410.4L572.3 410.2L571.2 409.6L570.2 412.0L569.2 411.0L568.0 414.0L566.9 416.3L565.7 414.5L564.5 415.3L563.3 413.9L562.2 416.3L561.0 415.0L559.8 414.5L558.6 412.3L557.5 417.4L556.4 417.5L555.2 423.9L554.0 417.4L552.5 417.6L551.1 415.1L550.5 403.4L549.4 404.2L548.3 404.6L547.2 404.4L546.1 405.3L545.0 406.6L543.9 406.6L542.8 408.8L541.7 407.5L540.5 411.6L539.0 410.2L537.6 407.5L536.4 408.2L535.2 408.5L534.0 408.6L532.9 408.5L531.7 405.1Z"/></clipPath>
<linearGradient id="gm" gradientUnits="userSpaceOnUse" x1="797" y1="0" x2="828" y2="0"><stop offset="0" stop-color="#fff" stop-opacity="0"/><stop offset="1" stop-color="#fff" stop-opacity="1"/></linearGradient>
<mask id="mw" maskUnits="userSpaceOnUse" x="790" y="290" width="150" height="190"><rect x="790" y="290" width="150" height="190" fill="url(#gm)"/></mask>
</defs>
<path d="M511.5 461.5L778.0 508.5M778.0 508.5L933.8 428.6M933.8 428.6L667.3 381.6M667.3 381.6L511.5 461.5M511.5 302.6V461.5M511.5 302.6h7.5M511.5 329.1h7.5M511.5 355.6h7.5M511.5 382.0h7.5M511.5 408.5h7.5M511.5 435.0h7.5M511.5 461.5h7.5M933.8 428.6L925.8 427.2M667.3 381.6L674.4 382.9M912.0 439.8L904.0 438.4M645.5 392.8L652.6 394.1M890.2 451.0L882.2 449.6M623.7 404.0L630.8 405.3M868.4 462.2L860.4 460.8M601.9 415.2L609.0 416.5M846.6 473.4L838.6 472.0M580.1 426.4L587.2 427.7M824.8 484.6L816.8 483.2M558.3 437.6L565.4 438.9M803.0 495.8L795.0 494.4M536.5 448.8L543.6 450.1M781.2 507.0L773.2 505.6M514.7 460.0L521.8 461.3M778.0 508.5L785.2 504.8M933.8 428.6L930.1 430.5M769.6 507.0L776.8 503.3M925.4 427.1L921.7 429.0M761.2 505.5L768.4 501.8M917.0 425.6L913.3 427.5M752.9 504.1L760.1 500.4M908.7 424.2L905.0 426.1M744.5 502.6L751.7 498.9M900.3 422.7L896.6 424.6M736.1 501.1L743.3 497.4M891.9 421.2L888.2 423.1M727.7 499.6L734.9 495.9M883.5 419.7L879.8 421.6M719.3 498.2L726.5 494.5M875.1 418.3L871.4 420.2M711.0 496.7L718.2 493.0M866.8 416.8L863.1 418.7M702.6 495.2L709.8 491.5M858.4 415.3L854.7 417.2M694.2 493.7L701.4 490.0M850.0 413.8L846.3 415.7M685.8 492.2L693.0 488.5M841.6 412.3L837.9 414.2M677.4 490.8L684.6 487.1M833.2 410.9L829.5 412.8M669.1 489.3L676.3 485.6M824.9 409.4L821.2 411.3M660.7 487.8L667.9 484.1M816.5 407.9L812.8 409.8M652.3 486.3L659.5 482.6M808.1 406.4L804.4 408.3M643.9 484.9L651.1 481.2M799.7 405.0L796.0 406.9M635.5 483.4L642.7 479.7M791.3 403.5L787.6 405.4M627.2 481.9L634.4 478.2M783.0 402.0L779.3 403.9M618.8 480.4L626.0 476.7M774.6 400.5L770.9 402.4M610.4 478.9L617.6 475.2M766.2 399.0L762.5 400.9M602.0 477.5L609.2 473.8M757.8 397.6L754.1 399.5M593.6 476.0L600.8 472.3M749.4 396.1L745.7 398.0M585.3 474.5L592.5 470.8M741.1 394.6L737.4 396.5M576.9 473.0L584.1 469.3M732.7 393.1L729.0 395.0M568.5 471.6L575.7 467.9M724.3 391.7L720.6 393.6M560.1 470.1L567.3 466.4M715.9 390.2L712.2 392.1M551.7 468.6L558.9 464.9M707.5 388.7L703.8 390.6M543.4 467.1L550.6 463.4M699.2 387.2L695.5 389.1M535.0 465.6L542.2 461.9M690.8 385.7L687.1 387.6M526.6 464.2L533.8 460.5M682.4 384.3L678.7 386.2M518.2 462.7L525.4 459.0M674.0 382.8L670.3 384.7" stroke="#ffffc0" stroke-width="1" fill="none" shape-rendering="crispEdges"/>
<g clip-path="url(#cw)">
<rect x="520" y="270" width="410" height="200" fill="url(#gw)"/>
<path d="M795 300H935V470H795Z" fill="url(#gr)" mask="url(#mw)"/>
<path d="M565.6 396.1v13.4M808.0 425.5v7.0M693.9 415.1v11.5M688.3 404.3v15.2M599.1 390.9v13.3M680.2 411.3v15.7M542.0 386.8v5.9M835.0 415.8v10.2M566.8 389.4v10.5M809.6 431.0v11.7M853.6 437.6v8.9M900.5 459.1v12.2M681.6 399.3v5.5M914.9 454.9v4.7M635.1 408.1v4.2M691.9 416.3v12.4M665.7 419.1v6.7M819.1 413.3v10.3M613.3 386.6v8.7M610.5 416.4v13.3M846.0 431.3v9.6M748.4 434.1v15.6M666.1 402.4v13.8M848.6 439.2v7.5M743.0 437.8v14.0M666.8 392.9v7.2M675.2 421.1v9.1M600.2 420.4v12.7M637.8 415.5v7.6M715.9 419.8v11.6M786.8 434.1v15.1M863.7 460.1v13.9M883.9 430.7v5.7M854.5 432.8v4.2M531.5 366.7v11.9M625.5 420.0v5.7M619.1 388.6v8.2M587.2 377.8v13.5M593.2 379.3v11.3M834.8 428.0v14.7M837.5 420.8v6.4M800.0 428.6v12.9M699.8 396.8v10.7M631.2 415.0v5.7M721.3 437.3v9.6M583.9 395.8v10.0M739.6 404.0v4.1M858.3 440.8v10.8M789.1 413.0v8.5M692.0 392.0v4.9M778.0 420.4v4.3M767.2 416.6v15.2M657.2 385.5v10.1M718.0 399.0v4.4M810.0 426.0v8.1M866.5 446.7v9.7M734.1 407.3v6.5M698.5 417.3v10.6M852.7 447.8v13.9M686.1 411.6v7.3M726.5 396.9v11.9M839.0 443.9v7.8M644.9 401.3v11.6M836.0 456.5v12.7M875.9 440.1v4.6M645.4 427.5v6.3M890.0 439.5v11.9M837.9 417.6v11.3M770.0 419.5v12.4M761.9 415.8v6.6M789.8 430.3v13.2M566.9 407.1v4.4M832.2 416.5v11.9M672.3 395.1v13.4M748.5 432.7v7.6M693.2 421.1v9.2M779.9 407.3v4.7M750.6 442.8v5.4M846.3 434.0v15.0M702.9 436.3v8.6M760.2 404.0v15.8M714.3 420.3v5.2M780.9 439.9v5.8M533.1 409.6v12.2M574.9 373.0v5.1M869.6 457.9v4.2M810.4 443.3v12.8M600.8 418.4v13.3M808.1 415.3v12.8M560.2 385.9v12.5M708.5 395.9v7.0M906.9 437.4v4.1M532.8 380.5v13.8M558.4 399.9v12.8M592.4 380.6v9.8M550.6 396.1v10.9M699.9 406.0v5.7M841.2 442.8v11.7M775.1 429.7v8.6M836.8 415.9v13.4M750.3 431.4v4.7M910.7 438.6v13.9M657.8 402.5v15.7M854.5 434.2v7.7M695.9 395.9v8.5M796.8 424.9v14.8M845.1 447.0v4.0M630.6 406.4v11.0M848.5 420.3v4.5M855.3 424.8v14.4M752.3 432.6v14.2M845.0 428.9v15.0M663.7 426.9v10.6M841.2 450.1v13.0M894.1 457.0v11.3M794.0 430.6v6.5M627.4 391.1v13.5M708.1 433.9v13.7M831.2 447.0v11.0M880.4 425.6v10.3M714.8 412.4v6.3M602.8 412.8v12.4M670.0 406.3v8.8M730.8 434.7v4.5M919.9 454.9v5.3M776.3 413.3v5.9M762.3 431.0v10.2M535.1 408.6v15.9M868.2 441.6v10.8M630.1 390.3v9.1M899.9 434.0v13.8M906.6 458.1v4.5M606.2 413.4v5.0M547.1 387.0v14.4M707.6 395.1v14.9M552.3 386.0v8.8M574.2 373.2v7.1M749.4 415.6v15.5M790.9 433.4v9.4M589.9 375.4v15.9M614.4 421.1v7.1M665.7 390.4v14.9M856.9 459.5v13.4M806.6 424.5v15.8M549.0 405.8v13.1M897.1 437.6v7.6M760.0 412.0v5.3M654.6 417.7v5.5M716.6 431.6v6.9M583.4 387.4v4.2M809.6 445.3v4.4M892.5 457.4v15.2M868.5 423.5v5.7M703.2 432.7v15.1M858.8 433.7v9.4M660.9 393.2v9.7M774.5 442.0v6.7M549.4 380.3v10.6M584.0 378.8v7.2M689.2 427.8v7.3M857.8 446.7v6.0M720.5 425.5v14.8M572.0 372.0v4.7M879.6 435.2v6.5M715.1 426.1v7.1M606.4 405.2v15.9M920.2 430.1v5.2M641.0 386.8v4.7M813.2 441.4v15.7M533.3 373.5v8.1M582.2 417.6v14.0M734.5 433.7v9.2M886.3 456.5v10.9M581.4 409.4v13.2M807.4 444.8v5.0M561.4 387.0v9.9M634.9 416.8v11.3M805.9 416.9v11.0M606.7 418.6v12.8M687.8 402.1v4.7M846.4 444.9v14.1M867.6 441.2v4.2M885.6 444.8v14.5M631.9 417.3v14.0M671.6 424.6v8.5M761.4 446.1v10.2M702.6 413.7v5.4M808.5 417.1v14.4M653.5 397.1v8.6M823.0 453.4v14.5M902.9 446.7v10.2M736.0 418.1v4.2M908.2 459.8v6.2M567.5 404.0v13.8M538.8 406.4v12.4M603.9 420.3v11.2M754.1 421.7v12.4M567.5 376.2v12.6M544.8 406.2v9.9M724.3 427.8v5.5M686.8 428.2v11.1M866.3 456.5v10.9M821.2 448.5v13.9M896.4 450.5v9.0M857.9 438.1v8.7M897.9 433.2v8.1M621.7 408.9v9.2M913.6 434.5v15.0M848.1 422.1v4.6M730.8 398.4v15.2M625.2 405.6v11.6M670.6 407.9v4.8M697.6 413.4v4.2M581.9 374.0v13.3M896.2 439.4v13.7M875.4 424.8v4.4M779.8 437.3v12.1M634.7 401.7v15.1M771.8 436.7v10.2M697.9 393.4v7.5M647.3 399.0v5.4M761.1 403.3v10.2M632.8 404.8v10.4M585.5 412.6v5.6M642.7 409.1v7.5M622.9 420.2v10.6M857.9 434.3v10.8M783.2 440.8v12.5M708.6 413.2v11.4M711.8 424.4v6.9M614.3 399.7v8.6M757.8 445.2v8.2M866.6 452.4v10.7M720.6 427.0v15.9M643.4 392.7v5.9M553.3 373.8v9.3M551.4 395.3v9.3M816.8 450.3v6.7M905.0 436.1v5.9M659.8 414.2v12.1M769.8 409.4v13.9M731.0 408.2v12.9M826.3 435.3v13.4M806.2 412.3v5.5M870.1 463.5v13.2M757.8 423.4v15.6M752.4 426.1v13.4M870.9 436.5v8.6M705.2 416.7v12.7M642.4 409.7v10.7M678.5 418.6v13.4M861.7 439.9v9.3M599.6 406.8v5.7M753.7 418.9v5.1M889.5 452.3v14.1M857.2 418.5v6.5M695.0 394.7v4.1M545.7 386.4v10.0M889.6 432.0v10.5M920.3 448.5v10.2M797.0 434.5v8.3M761.3 430.5v15.4M793.5 427.8v5.2M674.5 414.4v10.7M753.2 405.4v15.6M718.8 419.7v11.5M919.5 456.2v10.4M848.5 452.6v7.8M912.5 433.3v10.2M570.5 375.6v12.3M850.3 416.0v14.7M692.8 428.3v7.5M728.6 418.4v6.3M598.9 392.0v11.2M666.2 386.4v11.6M543.7 393.0v13.5M647.9 397.1v4.0M647.0 390.1v11.0M790.2 442.1v10.0M745.0 431.7v11.8M736.4 397.5v10.9M689.0 429.3v5.9M826.2 451.9v5.2M594.2 396.1v13.9M768.5 411.2v4.7M531.9 375.0v7.9M808.9 438.0v6.0M632.0 421.2v14.8M756.4 429.8v9.4M678.9 430.7v14.7M756.6 402.4v9.3M771.4 436.7v4.5M893.7 429.1v7.8M881.2 428.8v7.6M764.4 403.6v9.9M901.2 457.8v8.7M810.1 444.2v7.7M871.9 442.2v13.5M622.9 416.4v8.3M600.5 376.9v7.5M748.2 439.1v10.4M678.9 415.0v4.8M575.6 379.5v8.2M623.5 415.7v7.4M620.4 422.2v12.0M661.5 423.3v12.5M563.5 402.5v14.0M577.4 396.9v14.0M844.1 452.4v8.2M811.7 437.4v15.5M609.0 379.2v10.1M616.5 402.8v5.6M805.4 441.6v14.8M758.5 429.3v7.0M766.6 437.6v14.5M575.4 393.5v10.5M633.5 391.2v8.6M786.1 424.7v7.7M680.6 429.5v6.1M862.3 448.0v12.0M569.9 390.4v8.3M724.1 427.0v4.8M649.6 418.3v5.5M809.4 441.3v8.8M885.1 431.3v14.6M866.3 457.2v7.3M538.7 380.1v12.0M665.5 412.4v11.9M802.5 441.7v14.2M665.7 402.7v6.2M572.4 375.0v12.8M807.8 451.9v4.5M590.8 410.1v7.6M677.0 431.1v7.7M778.5 441.0v14.1M751.6 412.5v7.1M698.4 405.5v8.2M527.4 371.4v13.3M639.8 425.0v14.2M766.3 445.0v6.9M570.8 380.2v6.5M887.3 432.8v5.0M800.7 434.9v13.0M853.5 448.4v5.1M899.9 449.4v15.2M799.5 419.2v14.0M774.5 428.1v4.7M802.1 433.6v10.1M892.7 461.6v13.1M544.2 380.0v13.7M629.9 400.7v15.6M778.2 424.6v7.0M550.4 396.5v8.9M606.4 407.6v5.6M805.5 423.2v6.9M622.2 400.9v9.3M895.7 452.0v7.6M875.6 458.2v10.8M658.4 393.2v10.6M826.6 449.2v12.0" stroke="#86b9dc" stroke-opacity="0.25" stroke-width="1" fill="none"/>
<path d="M762.2 435.9l4.7 -3.8M606.5 407.7l7.2 -5.8M659.6 409.5l4.0 -3.2M739.4 433.5l7.3 -5.8M665.4 407.6l4.1 -3.3M709.4 406.9l8.6 -6.9M566.2 408.0l7.6 -6.1M707.6 397.9l8.6 -6.8M737.1 423.4l4.1 -3.3M683.0 413.0l8.0 -6.4M704.8 398.5l7.2 -5.8M668.4 419.2l4.8 -3.8M573.3 392.5l8.8 -7.1M581.0 382.6l3.0 -2.4M647.4 410.8l7.0 -5.6M651.2 396.1l8.0 -6.4M652.4 400.4l5.1 -4.1M657.3 384.8l8.5 -6.8M702.4 398.5l3.4 -2.7M688.6 390.6l5.9 -4.7M777.5 441.8l4.1 -3.3M713.9 417.9l6.5 -5.2M639.2 416.2l4.1 -3.3M771.0 431.7l3.6 -2.9M683.8 418.9l6.4 -5.1M549.7 390.2l3.4 -2.8M729.2 404.9l3.7 -3.0M761.9 424.8l4.0 -3.2M565.7 378.0l3.3 -2.7M695.2 421.2l4.8 -3.8M702.8 396.1l6.4 -5.1M738.0 422.9l7.6 -6.1M632.6 390.2l8.7 -7.0M555.2 385.4l7.8 -6.3M599.1 406.6l5.7 -4.5M532.9 399.4l7.8 -6.2M721.5 418.7l3.9 -3.1M755.7 401.5l3.1 -2.5M774.1 410.4l3.2 -2.6M638.1 401.6l3.9 -3.2M699.9 427.5l5.0 -4.0M539.4 398.0l5.2 -4.1M627.1 418.6l6.5 -5.2M806.2 445.7l3.9 -3.1M668.5 415.0l6.4 -5.1M536.7 382.0l7.6 -6.1M706.6 417.1l4.7 -3.8M719.8 421.5l7.6 -6.1M626.2 396.7l5.4 -4.3M806.7 428.3l5.2 -4.2M565.4 408.7l8.2 -6.6M612.6 409.8l3.4 -2.7M683.0 390.3l5.0 -4.0M577.6 387.7l8.9 -7.1M772.7 439.4l5.9 -4.7M533.5 397.3l4.6 -3.7M583.7 387.8l8.2 -6.5M799.6 422.4l3.5 -2.8M565.7 401.5l6.2 -5.0M587.1 399.4l7.5 -6.0M622.6 415.8l5.5 -4.4M666.9 401.3l4.5 -3.6M686.7 388.9l3.3 -2.7M553.4 400.8l3.9 -3.1M646.8 400.5l6.5 -5.2M620.6 388.2l4.5 -3.6M614.5 385.9l8.9 -7.1M793.3 440.2l3.1 -2.4M629.6 379.7l4.4 -3.5M565.0 406.5l6.0 -4.8M630.5 413.4l4.1 -3.3M535.2 373.0l4.5 -3.6M624.4 386.4l5.8 -4.6M734.5 433.4l6.9 -5.5M686.7 412.0l8.5 -6.8M598.3 403.8l5.6 -4.5M708.9 420.0l9.0 -7.2M771.2 407.1l4.6 -3.7M620.8 398.4l8.3 -6.7M655.2 400.2l8.3 -6.6M747.7 403.6l4.1 -3.3M533.9 399.5l8.8 -7.1M735.3 432.3l4.0 -3.2M786.9 415.8l8.3 -6.6M751.2 411.1l3.2 -2.6M556.7 406.8l8.9 -7.2M664.9 419.5l5.6 -4.5M735.9 416.2l3.7 -2.9M625.9 410.1l8.8 -7.0M577.2 400.3l3.4 -2.7M684.5 413.5l3.1 -2.5M682.3 400.1l8.9 -7.1M617.1 400.5l8.8 -7.1M567.5 369.4l3.0 -2.4M699.9 415.4l4.4 -3.6M748.9 402.0l3.3 -2.6M682.4 415.1l8.8 -7.1M671.4 402.2l9.0 -7.2M634.2 391.5l5.4 -4.3M618.2 392.3l6.3 -5.0M784.2 425.1l7.3 -5.9M567.2 372.2l6.2 -4.9M594.5 406.8l7.9 -6.3M780.0 408.6l3.3 -2.6M561.8 402.3l4.5 -3.6M674.5 408.3l3.5 -2.8M654.2 404.1l7.8 -6.2M630.8 398.6l4.4 -3.5M532.0 395.6l6.4 -5.1M604.7 402.3l4.5 -3.6M770.1 433.7l5.5 -4.4M539.4 387.1l5.2 -4.2M710.4 399.8l5.1 -4.1M581.2 372.7l7.3 -5.8M547.0 375.8l5.3 -4.2M741.2 436.1l6.6 -5.2M644.4 402.7l8.3 -6.7M760.4 413.4l7.4 -6.0M683.7 397.1l7.6 -6.1M758.3 435.8l3.5 -2.8M719.7 405.2l5.9 -4.7M692.3 389.4l7.9 -6.3M673.7 426.1l8.9 -7.1M599.2 380.0l6.3 -5.1M613.2 382.0l7.8 -6.2M541.7 383.7l5.2 -4.2M630.5 387.3l4.2 -3.4M615.9 395.7l5.5 -4.4M752.3 427.2l7.3 -5.8M791.6 427.4l8.3 -6.6" stroke="#8dbfe0" stroke-opacity="0.20" stroke-width="2" fill="none"/>
<path d="M696.4 411.5l7.6 -6.1M629.0 410.9l3.4 -2.7M653.8 418.6l4.9 -4.0M547.3 405.7l9.0 -7.2M804.4 424.7l3.7 -2.9M680.7 427.1l8.5 -6.8M711.7 422.3l4.5 -3.6M764.6 429.0l4.1 -3.3M574.7 379.1l8.0 -6.4M760.6 427.4l5.2 -4.2M594.7 412.0l6.4 -5.1M783.2 406.0l6.0 -4.8M691.5 425.9l7.1 -5.7M552.4 405.3l5.6 -4.5M765.0 406.7l7.7 -6.2M672.6 409.3l5.0 -4.0M782.8 437.2l4.8 -3.8M582.3 408.3l4.9 -4.0M771.9 403.1l8.8 -7.0M718.4 409.1l4.8 -3.8M710.2 420.2l5.1 -4.0M719.1 415.7l3.5 -2.8M644.8 400.5l6.4 -5.1M778.9 421.2l3.7 -2.9M677.2 416.8l5.9 -4.7M559.0 387.4l6.5 -5.2M651.4 388.2l6.3 -5.0M807.4 418.8l3.6 -2.9M798.7 423.8l7.6 -6.1M594.0 398.7l3.1 -2.5M727.2 417.8l8.3 -6.7M786.7 409.6l4.0 -3.2M719.6 400.6l3.7 -3.0M731.3 433.8l6.6 -5.3M559.0 370.9l7.1 -5.6M764.2 417.5l3.7 -2.9M579.4 389.1l4.7 -3.8M774.7 420.9l7.1 -5.7M623.9 412.3l6.0 -4.8M578.6 378.4l7.1 -5.7M766.2 425.4l8.2 -6.6M588.2 376.9l6.5 -5.2M659.4 400.9l5.3 -4.3M621.5 417.1l5.8 -4.6M716.9 422.3l4.6 -3.7M676.5 388.5l9.0 -7.2M773.9 411.4l6.8 -5.4M752.1 403.9l8.6 -6.9M736.3 416.0l6.8 -5.4M544.1 392.1l4.9 -4.0M595.9 404.5l5.1 -4.1M655.2 405.5l6.4 -5.1M612.3 404.2l7.4 -5.9M787.7 421.2l3.5 -2.8M628.0 388.0l5.6 -4.5M781.4 432.5l4.5 -3.6M726.3 426.0l5.4 -4.3M710.4 424.3l7.4 -5.9M756.1 404.5l5.0 -4.0M774.8 416.9l8.5 -6.8M710.6 416.0l7.1 -5.7M539.9 379.8l5.0 -4.0M658.1 423.3l8.6 -6.8M700.8 401.7l5.0 -4.0M744.1 434.0l7.9 -6.3M684.1 401.7l6.6 -5.3M728.3 404.5l7.7 -6.1M655.2 412.2l6.1 -4.9M661.6 398.2l7.6 -6.1M741.1 433.5l3.2 -2.5M684.1 420.7l8.6 -6.9M735.8 399.4l4.0 -3.2M805.0 427.4l6.8 -5.5M618.6 381.4l3.6 -2.9M640.7 386.5l3.4 -2.7M794.4 420.5l4.3 -3.5M592.5 405.2l7.6 -6.0M588.3 389.9l3.9 -3.2M739.7 404.0l4.7 -3.8M572.7 382.8l6.6 -5.3M586.4 377.0l5.2 -4.1M771.5 402.2l4.8 -3.8M529.7 366.8l3.9 -3.1M720.2 430.1l5.0 -4.0M804.2 445.9l4.4 -3.5M669.9 416.4l5.6 -4.5M616.6 382.0l3.7 -3.0M577.7 383.5l3.9 -3.1M627.1 399.0l8.5 -6.8M776.9 413.6l4.6 -3.7M539.2 384.4l5.4 -4.4M721.7 407.9l6.3 -5.0M774.4 413.7l5.4 -4.3M636.5 405.0l5.5 -4.4M699.0 393.3l4.5 -3.6M583.2 407.2l8.1 -6.4M723.5 421.3l6.9 -5.5M527.3 373.0l8.1 -6.5M593.3 388.3l7.5 -6.0M675.9 402.2l7.1 -5.7M590.2 388.4l4.6 -3.7M674.7 407.4l4.3 -3.5M675.3 405.5l7.9 -6.3M657.3 398.1l8.0 -6.4M634.9 386.8l7.9 -6.3M556.1 393.2l7.8 -6.3M638.9 380.9l7.2 -5.7M741.7 431.2l7.1 -5.7M631.9 406.0l5.3 -4.2M543.3 398.3l7.3 -5.8M763.1 437.0l6.8 -5.5M751.2 414.0l5.2 -4.2M728.6 423.3l5.4 -4.4M636.1 397.1l8.5 -6.8M632.4 393.1l5.0 -4.0M675.8 406.8l8.4 -6.7M657.9 405.3l8.0 -6.4M651.5 403.1l6.1 -4.9M640.7 419.4l7.1 -5.7M560.4 399.4l3.5 -2.8M740.2 414.4l3.3 -2.7M542.5 377.7l5.5 -4.4M773.8 436.5l5.0 -4.0M604.7 404.8l4.9 -3.9M671.6 409.2l3.3 -2.6M769.4 431.3l4.2 -3.4M658.4 404.3l6.5 -5.2M787.2 422.2l3.3 -2.6M686.9 415.5l4.6 -3.7M754.1 415.5l5.7 -4.6" stroke="#e4f2f7" stroke-opacity="0.12" stroke-width="2" fill="none"/>
<path d="M549.7 360.8v9.1M546.3 338.8v4.6M761.9 407.4v11.4M748.1 374.2v8.0M792.5 387.6v6.4M610.1 350.2v5.2M888.6 426.4v4.8M564.5 345.6v11.6M690.4 372.0v6.1M883.9 401.7v5.2M549.3 347.6v4.3M856.4 416.9v5.9M756.3 399.6v8.5M587.7 343.0v6.6M858.5 424.3v10.4M913.2 421.1v4.3M676.7 370.8v5.8M742.0 408.6v7.7M813.9 403.3v9.4M572.1 344.6v5.0M890.8 387.2v11.5M734.4 397.5v6.8M822.6 401.3v11.4M563.6 360.5v10.9M762.5 389.5v4.7M582.0 374.1v11.1M860.1 420.8v11.4M539.8 350.9v11.7M662.7 353.3v9.3M546.7 365.3v7.6M624.5 357.3v5.4M837.4 413.6v4.6M747.3 409.3v8.4M837.5 398.7v7.7M540.3 355.3v4.8M781.8 413.0v8.6M666.0 382.3v9.3M591.6 380.7v11.5M657.7 357.6v11.0M716.2 401.7v4.8M873.4 428.4v8.0M738.2 406.7v7.7M591.6 362.4v8.1M671.6 392.1v7.2M607.2 385.3v5.9M870.4 408.7v11.1M533.0 332.6v7.9M838.7 400.2v9.5M617.3 355.8v5.2M631.1 393.9v7.1M731.1 396.9v11.1M560.2 355.2v5.9M761.5 377.2v9.7M551.5 370.5v8.8M914.3 438.7v8.9M799.6 381.7v6.7M846.4 406.8v11.4M531.2 332.5v7.3M687.4 400.1v6.0M816.1 391.2v5.2M662.7 393.5v5.6M613.5 376.1v11.8M919.9 402.1v7.8M722.9 371.2v11.3M823.1 394.4v5.6M773.3 376.0v10.3M563.4 348.8v6.8M590.9 340.8v9.4M820.7 419.1v10.6M896.2 392.7v10.0M855.0 391.2v8.7M698.5 365.0v10.3M870.1 418.8v11.7M736.5 365.1v4.9M908.6 400.5v6.0M857.3 420.1v5.6M707.4 395.9v7.9M884.8 401.8v9.7M681.5 364.4v10.3M796.0 374.8v10.6M687.1 400.1v9.2M856.5 414.6v8.8M856.5 391.9v4.0M719.7 408.9v4.9M847.1 409.1v8.8M707.2 390.9v5.7M666.4 358.9v9.0M642.1 392.9v6.2M803.3 400.9v9.3M845.0 423.7v9.5M543.4 340.3v5.5M634.0 348.1v6.9M615.3 348.5v8.9M879.2 415.5v8.0M903.6 413.8v11.9M601.6 349.3v5.3M734.7 412.1v5.4M899.3 415.7v10.5M625.8 377.0v4.8M744.8 370.6v8.1M675.4 356.2v11.2M789.5 417.0v9.0M702.0 358.9v6.9M787.5 388.9v7.0M732.7 377.9v11.3M723.3 392.1v11.8M549.4 340.7v9.5M746.6 391.6v10.0M878.1 398.6v10.0M540.8 364.8v5.1M902.5 394.3v5.2M758.5 387.0v4.4M681.5 366.2v9.1M637.7 358.4v6.3M741.4 392.1v11.8M782.6 379.5v9.4M676.9 354.7v9.7M799.2 408.5v5.3M753.6 373.8v10.3M663.8 393.7v8.1M872.7 426.0v9.9M594.2 374.0v4.4M644.3 378.5v11.7M906.1 430.1v6.5M898.8 428.5v6.6M699.7 401.0v6.1M682.2 384.4v11.7M632.1 385.5v11.3M704.4 365.4v9.1M833.8 412.2v5.2M825.3 403.1v8.5M791.2 383.5v6.2M669.9 355.8v8.2M640.6 365.5v6.1M830.9 425.4v10.6M750.2 396.9v11.5M631.6 383.4v4.6M743.1 375.7v9.4M689.6 364.5v4.9M647.9 366.0v11.7M776.8 384.2v10.2M682.4 356.7v9.9M661.6 380.8v10.4M664.8 391.6v11.0M736.5 386.3v9.4M882.2 429.0v6.7M553.0 362.3v8.0M862.7 399.2v8.6M686.1 375.6v6.2M859.8 392.7v10.7M586.6 354.8v10.0M724.2 365.5v11.2M819.7 384.6v9.2M873.2 427.7v9.6M804.3 392.6v6.2M553.5 352.9v10.6M634.6 385.4v5.8M564.0 351.0v11.8M843.0 411.4v9.6M555.4 341.5v6.6" stroke="#eef7fa" stroke-opacity="0.18" stroke-width="1" fill="none"/>
<path d="M812.5 389.8v6.7M869.5 359.5v9.0M815.5 385.7v10.1M903.5 358.3v16.5M843.5 366.1v9.8M863.5 371.4v16.7M878.5 363.7v8.2M885.5 356.1v6.2M824.5 371.8v11.8M879.5 356.9v14.7M854.5 357.8v15.7M894.5 350.6v6.2M878.5 348.6v10.6M867.5 353.4v7.9M901.5 358.9v5.5M826.5 368.5v14.1M893.5 365.0v5.0M862.5 361.3v9.8M851.5 360.9v16.7M881.5 349.7v12.3M849.5 374.7v12.8M851.5 380.8v7.2M901.5 354.9v16.2M893.5 365.3v8.9M845.5 374.2v16.6M820.5 375.9v8.4M880.5 366.0v8.0M866.5 369.9v8.6M837.5 383.7v7.1M888.5 344.1v14.9M872.5 364.9v12.9M813.5 395.2v6.6M835.5 385.3v8.4M891.5 343.3v13.0M856.5 360.7v7.8M880.5 361.1v15.4M820.5 377.5v16.1M902.5 350.3v7.2M867.5 368.5v6.7M894.5 342.9v7.6M813.5 397.8v7.8M903.5 349.1v7.7M812.5 389.4v8.1M860.5 369.7v15.6M899.5 345.8v16.3M850.5 372.1v15.2M900.5 343.6v5.9M819.5 390.2v12.5M899.5 359.1v7.8M872.5 369.4v6.5M898.5 354.3v9.3M882.5 367.4v12.7M889.5 365.4v12.1M812.5 379.4v8.2M841.5 372.8v10.7M878.5 356.0v10.9M885.5 365.4v6.1M825.5 373.6v12.0" stroke="#fbeeca" stroke-opacity="0.55" stroke-width="1" fill="none"/>
<path d="M837.5 365.1v10.3M864.5 358.6v14.5M818.5 387.7v13.7M842.5 387.3v5.9M838.5 368.4v13.8M880.5 371.0v16.0M844.5 364.9v12.6M822.5 373.7v14.3M858.5 360.6v8.0M889.5 346.5v5.2M861.5 356.0v8.9M866.5 355.4v7.4M848.5 376.5v13.6M902.5 343.6v9.7M816.5 378.1v16.2M821.5 395.1v13.5M889.5 357.1v14.9M813.5 392.7v5.3M862.5 362.9v6.1M901.5 358.0v5.1M895.5 359.3v14.6M898.5 350.8v13.5M881.5 367.6v16.9M882.5 365.7v15.7M827.5 381.5v12.8M894.5 341.0v8.1M835.5 365.0v13.3M818.5 373.0v5.2M821.5 377.8v9.9M833.5 387.6v14.6M828.5 370.8v6.2M900.5 348.0v13.7M847.5 379.6v7.7M888.5 349.3v5.4M852.5 360.7v5.8M900.5 360.9v6.3M854.5 375.8v5.9M813.5 390.2v11.2M885.5 368.9v13.9M815.5 383.7v6.7M855.5 369.5v16.4M899.5 347.0v9.9M853.5 371.7v13.5M817.5 377.6v7.0M849.5 360.1v16.0M885.5 361.2v11.2M894.5 355.8v7.2M855.5 373.9v14.6M851.5 382.8v7.5M832.5 371.1v8.2M876.5 359.3v7.1M870.5 368.8v16.6M830.5 366.8v11.4M877.5 373.4v5.2M836.5 365.6v6.0M829.5 390.9v11.7M865.5 357.2v13.5M822.5 386.2v7.9" stroke="#e9f4f4" stroke-opacity="0.55" stroke-width="1" fill="none"/>
<path d="M862.5 374.4v5.5M831.5 387.8v14.7M865.5 362.7v11.1M855.5 359.7v10.4M859.5 366.2v7.4M878.5 366.0v5.8M902.5 345.5v5.5M855.5 382.2v15.9M814.5 396.5v13.5M831.5 381.0v9.5M869.5 373.9v10.8M854.5 372.2v12.6M834.5 381.8v13.3M884.5 366.3v12.6M832.5 383.1v16.2M829.5 387.8v7.0M858.5 371.4v12.1M887.5 364.5v10.5M878.5 369.1v15.2M819.5 373.8v13.3M895.5 362.1v13.6M835.5 372.2v9.2M880.5 353.3v8.0M884.5 358.5v6.3M861.5 378.4v9.9M877.5 373.3v7.1M831.5 372.7v16.6M845.5 364.1v6.4M875.5 360.1v13.7M873.5 356.4v5.1M901.5 347.8v12.8M825.5 389.1v8.0M830.5 372.2v9.6M852.5 360.7v10.5M845.5 372.7v16.2M898.5 352.9v7.9M853.5 365.4v7.5M814.5 384.9v13.9M890.5 352.0v15.8M829.5 386.1v12.0M857.5 381.5v12.5M843.5 378.5v5.3M825.5 374.8v6.4M865.5 364.0v9.9M821.5 370.3v8.5M823.5 375.7v12.9M875.5 355.1v7.8M813.5 385.6v13.1M849.5 383.7v15.8M815.5 375.8v9.9M856.5 356.5v13.1M830.5 386.4v8.6M878.5 354.3v5.8M822.5 393.7v16.6M827.5 370.1v12.5M817.5 375.7v13.3M885.5 364.9v7.8" stroke="#a9d0e6" stroke-opacity="0.55" stroke-width="1" fill="none"/>
<path d="M887.5 346.4v7.7M861.5 354.8v14.3M866.5 358.1v15.4M874.5 367.2v10.5M876.5 353.1v8.2M831.5 366.5v15.4M828.5 376.5v15.8M884.5 357.1v14.9M898.5 364.7v10.2M813.5 394.9v14.4M870.5 355.7v7.9M876.5 359.3v5.8M855.5 360.1v15.9M879.5 347.6v6.1M870.5 374.3v8.2M859.5 357.7v14.4M885.5 346.5v5.7M823.5 386.1v7.5M821.5 379.5v8.6M866.5 365.3v10.5M815.5 390.2v15.2M842.5 364.3v10.3M850.5 359.1v7.8M887.5 351.7v12.5M895.5 358.3v16.6M852.5 375.5v13.3M871.5 365.6v12.9M857.5 380.8v13.3M821.5 394.4v9.1M829.5 390.2v6.9M864.5 358.7v5.8M845.5 373.9v6.3M845.5 377.0v10.7M877.5 350.1v6.4M862.5 355.3v7.7M828.5 389.9v7.5M872.5 358.9v6.4M861.5 360.1v11.0M829.5 372.9v12.2M897.5 349.9v13.1M832.5 387.4v7.4M846.5 364.2v14.9M899.5 342.5v6.6M893.5 358.5v15.3M838.5 388.2v15.4M865.5 373.1v15.8M845.5 373.9v13.1M877.5 364.6v7.2M833.5 384.3v9.3M850.5 360.3v12.0M827.5 377.4v16.5M835.5 385.7v12.2M812.5 377.9v13.4M826.5 376.9v11.3M875.5 355.1v14.5M847.5 378.2v7.8M820.5 387.5v11.8" stroke="#c4e0ee" stroke-opacity="0.55" stroke-width="1" fill="none"/>
</g>
<path d="M556.5 461.3V301.9L692.5 232.7V392.1Z" fill="none" stroke="#ff0000" stroke-width="1" shape-rendering="crispEdges"/>
<text x="484.01" y="305.80" textLength="10.19" lengthAdjust="spacingAndGlyphs" fill="#ffffc0">0</text>
<text x="468.04" y="332.28" textLength="26.16" lengthAdjust="spacingAndGlyphs" fill="#ffffc0">-20</text>
<text x="468.04" y="358.76" textLength="26.16" lengthAdjust="spacingAndGlyphs" fill="#ffffc0">-40</text>
<text x="468.04" y="385.24" textLength="26.16" lengthAdjust="spacingAndGlyphs" fill="#ffffc0">-60</text>
<text x="468.04" y="411.72" textLength="26.16" lengthAdjust="spacingAndGlyphs" fill="#ffffc0">-80</text>
<text x="457.86" y="438.20" textLength="36.34" lengthAdjust="spacingAndGlyphs" fill="#ffffc0">-100</text>
<text x="457.86" y="464.68" textLength="36.34" lengthAdjust="spacingAndGlyphs" fill="#ffffc0">-120</text>
<text x="950.80" y="434.00" textLength="40.75" lengthAdjust="spacingAndGlyphs" fill="#ffffc0">1595</text>
<text x="928.87" y="445.45" textLength="40.75" lengthAdjust="spacingAndGlyphs" fill="#ffffc0">1590</text>
<text x="906.94" y="456.90" textLength="40.75" lengthAdjust="spacingAndGlyphs" fill="#ffffc0">1585</text>
<text x="885.01" y="468.35" textLength="40.75" lengthAdjust="spacingAndGlyphs" fill="#ffffc0">1580</text>
<text x="863.08" y="479.80" textLength="40.75" lengthAdjust="spacingAndGlyphs" fill="#ffffc0">1575</text>
<text x="841.15" y="491.25" textLength="40.75" lengthAdjust="spacingAndGlyphs" fill="#ffffc0">1570</text>
<text x="819.22" y="502.70" textLength="40.75" lengthAdjust="spacingAndGlyphs" fill="#ffffc0">1565</text>
<text x="797.29" y="514.15" textLength="40.75" lengthAdjust="spacingAndGlyphs" fill="#ffffc0">1560</text>
<text x="467.25" y="472.00" textLength="71.91" lengthAdjust="spacingAndGlyphs" fill="#ffffc0" class="ns">13:33:40</text>
<text x="475.54" y="473.41" textLength="71.91" lengthAdjust="spacingAndGlyphs" fill="#ffffc0" class="ns">13:34:00</text>
<text x="483.82" y="474.82" textLength="71.91" lengthAdjust="spacingAndGlyphs" fill="#ffffc0" class="ns">13:34:20</text>
<text x="492.11" y="476.23" textLength="71.91" lengthAdjust="spacingAndGlyphs" fill="#ffffc0" class="ns">13:34:40</text>
<text x="500.41" y="477.64" textLength="71.91" lengthAdjust="spacingAndGlyphs" fill="#ffffc0" class="ns">13:35:00</text>
<text x="508.69" y="479.05" textLength="71.91" lengthAdjust="spacingAndGlyphs" fill="#ffffc0" class="ns">13:35:20</text>
<text x="516.98" y="480.46" textLength="71.91" lengthAdjust="spacingAndGlyphs" fill="#ffffc0" class="ns">13:35:40</text>
<text x="525.27" y="481.87" textLength="71.91" lengthAdjust="spacingAndGlyphs" fill="#ffffc0" class="ns">13:36:00</text>
<text x="533.56" y="483.28" textLength="71.91" lengthAdjust="spacingAndGlyphs" fill="#ffffc0" class="ns">13:36:20</text>
<text x="541.85" y="484.69" textLength="71.91" lengthAdjust="spacingAndGlyphs" fill="#ffffc0" class="ns">13:36:40</text>
<text x="550.14" y="486.10" textLength="71.91" lengthAdjust="spacingAndGlyphs" fill="#ffffc0" class="ns">13:37:00</text>
<text x="558.43" y="487.51" textLength="71.91" lengthAdjust="spacingAndGlyphs" fill="#ffffc0" class="ns">13:37:20</text>
<text x="566.72" y="488.92" textLength="71.91" lengthAdjust="spacingAndGlyphs" fill="#ffffc0" class="ns">13:37:40</text>
<text x="575.01" y="490.33" textLength="71.91" lengthAdjust="spacingAndGlyphs" fill="#ffffc0" class="ns">13:38:00</text>
<text x="583.30" y="491.74" textLength="71.91" lengthAdjust="spacingAndGlyphs" fill="#ffffc0" class="ns">13:38:20</text>
<text x="591.59" y="493.15" textLength="71.91" lengthAdjust="spacingAndGlyphs" fill="#ffffc0" class="ns">13:38:40</text>
<text x="599.88" y="494.56" textLength="71.91" lengthAdjust="spacingAndGlyphs" fill="#ffffc0" class="ns">13:39:00</text>
<text x="608.17" y="495.97" textLength="71.91" lengthAdjust="spacingAndGlyphs" fill="#ffffc0" class="ns">13:39:20</text>
<text x="616.46" y="497.38" textLength="71.91" lengthAdjust="spacingAndGlyphs" fill="#ffffc0" class="ns">13:39:40</text>
<text x="624.75" y="498.79" textLength="71.91" lengthAdjust="spacingAndGlyphs" fill="#ffffc0" class="ns">13:40:00</text>
<text x="633.04" y="500.20" textLength="71.91" lengthAdjust="spacingAndGlyphs" fill="#ffffc0" class="ns">13:40:20</text>
<text x="641.33" y="501.61" textLength="71.91" lengthAdjust="spacingAndGlyphs" fill="#ffffc0" class="ns">13:40:40</text>
<text x="649.62" y="503.02" textLength="71.91" lengthAdjust="spacingAndGlyphs" fill="#ffffc0" class="ns">13:41:00</text>
<text x="657.91" y="504.43" textLength="71.91" lengthAdjust="spacingAndGlyphs" fill="#ffffc0" class="ns">13:41:20</text>
<text x="666.20" y="505.84" textLength="71.91" lengthAdjust="spacingAndGlyphs" fill="#ffffc0" class="ns">13:41:40</text>
<text x="674.49" y="507.25" textLength="71.91" lengthAdjust="spacingAndGlyphs" fill="#ffffc0" class="ns">13:42:00</text>
<text x="682.78" y="508.66" textLength="71.91" lengthAdjust="spacingAndGlyphs" fill="#ffffc0" class="ns">13:42:20</text>
<text x="691.07" y="510.07" textLength="71.91" lengthAdjust="spacingAndGlyphs" fill="#ffffc0" class="ns">13:42:40</text>
<text x="699.36" y="511.48" textLength="71.91" lengthAdjust="spacingAndGlyphs" fill="#ffffc0" class="ns">13:43:00</text>
<text x="707.65" y="512.89" textLength="71.91" lengthAdjust="spacingAndGlyphs" fill="#ffffc0" class="ns">13:43:20</text>
<text x="715.94" y="514.30" textLength="71.91" lengthAdjust="spacingAndGlyphs" fill="#ffffc0" class="ns">13:43:40</text>
<text x="724.23" y="515.71" textLength="71.91" lengthAdjust="spacingAndGlyphs" fill="#ffffc0" class="ns">13:44:00</text>
<text x="732.52" y="517.12" textLength="71.91" lengthAdjust="spacingAndGlyphs" fill="#ffffc0" class="ns">13:44:20</text>
<text transform="translate(436.4,382.4) rotate(-90)" x="-43.23" y="0" textLength="86.47" lengthAdjust="spacingAndGlyphs" fill="#ffffc0">PSD (dBm)</text>
<text transform="translate(596.5,511.5) rotate(10)" x="-44.26" y="0" textLength="88.52" lengthAdjust="spacingAndGlyphs" fill="#ffffc0">Time (UTC)</text>
<text transform="translate(932.5,486.0) rotate(-27.5)" x="-67.26" y="0" textLength="134.52" lengthAdjust="spacingAndGlyphs" fill="#ffffc0">Frequency (MHz)</text>
</g>
<g id="bottom">
<text x="482.86" y="607.00" textLength="112.28" lengthAdjust="spacingAndGlyphs" fill="#ffffc0">Max Rx Power</text>
<text x="494.24" y="757.40" textLength="88.52" lengthAdjust="spacingAndGlyphs" fill="#ffffc0">Time (UTC)</text>
<text transform="translate(19.8,670.8) rotate(-90)" x="-51.37" y="0" textLength="102.73" lengthAdjust="spacingAndGlyphs" fill="#ffffc0">Power (dBm)</text>
<path d="M118.50 639.5V700.5M146.50 639.5V700.5M174.50 639.5V700.5M203.50 639.5V700.5M231.50 639.5V700.5M259.50 639.5V700.5M287.50 639.5V700.5M315.50 639.5V700.5M343.50 639.5V700.5M371.50 639.5V700.5M399.50 639.5V700.5M428.50 639.5V700.5M456.50 639.5V700.5M484.50 639.5V700.5M512.50 639.5V700.5M540.50 639.5V700.5M568.50 639.5V700.5M596.50 639.5V700.5M624.50 639.5V700.5M653.50 639.5V700.5M681.50 639.5V700.5M709.50 639.5V700.5M737.50 639.5V700.5M765.50 639.5V700.5M793.50 639.5V700.5M821.50 639.5V700.5M849.50 639.5V700.5M878.50 639.5V700.5M906.50 639.5V700.5M934.50 639.5V700.5M962.50 639.5V700.5M98.0 637.5H983.0M98.0 672.5H983.0" stroke="#bcbcbc" stroke-width="1" stroke-dasharray="2 2" fill="none" shape-rendering="crispEdges"/>
<path d="M118.50 632.5v7M118.50 707.5v-7M146.50 632.5v7M146.50 707.5v-7M174.50 632.5v7M174.50 707.5v-7M203.50 632.5v7M203.50 707.5v-7M231.50 632.5v7M231.50 707.5v-7M259.50 632.5v7M259.50 707.5v-7M287.50 632.5v7M287.50 707.5v-7M315.50 632.5v7M315.50 707.5v-7M343.50 632.5v7M343.50 707.5v-7M371.50 632.5v7M371.50 707.5v-7M399.50 632.5v7M399.50 707.5v-7M428.50 632.5v7M428.50 707.5v-7M456.50 632.5v7M456.50 707.5v-7M484.50 632.5v7M484.50 707.5v-7M512.50 632.5v7M512.50 707.5v-7M540.50 632.5v7M540.50 707.5v-7M568.50 632.5v7M568.50 707.5v-7M596.50 632.5v7M596.50 707.5v-7M624.50 632.5v7M624.50 707.5v-7M653.50 632.5v7M653.50 707.5v-7M681.50 632.5v7M681.50 707.5v-7M709.50 632.5v7M709.50 707.5v-7M737.50 632.5v7M737.50 707.5v-7M765.50 632.5v7M765.50 707.5v-7M793.50 632.5v7M793.50 707.5v-7M821.50 632.5v7M821.50 707.5v-7M849.50 632.5v7M849.50 707.5v-7M878.50 632.5v7M878.50 707.5v-7M906.50 632.5v7M906.50 707.5v-7M934.50 632.5v7M934.50 707.5v-7M962.50 632.5v7M962.50 707.5v-7M104.50 632.5v3.5M104.50 707.5v-3.5M132.50 632.5v3.5M132.50 707.5v-3.5M160.50 632.5v3.5M160.50 707.5v-3.5M188.50 632.5v3.5M188.50 707.5v-3.5M217.50 632.5v3.5M217.50 707.5v-3.5M245.50 632.5v3.5M245.50 707.5v-3.5M273.50 632.5v3.5M273.50 707.5v-3.5M301.50 632.5v3.5M301.50 707.5v-3.5M329.50 632.5v3.5M329.50 707.5v-3.5M357.50 632.5v3.5M357.50 707.5v-3.5M385.50 632.5v3.5M385.50 707.5v-3.5M413.50 632.5v3.5M413.50 707.5v-3.5M442.50 632.5v3.5M442.50 707.5v-3.5M470.50 632.5v3.5M470.50 707.5v-3.5M498.50 632.5v3.5M498.50 707.5v-3.5M526.50 632.5v3.5M526.50 707.5v-3.5M554.50 632.5v3.5M554.50 707.5v-3.5M582.50 632.5v3.5M582.50 707.5v-3.5M610.50 632.5v3.5M610.50 707.5v-3.5M638.50 632.5v3.5M638.50 707.5v-3.5M667.50 632.5v3.5M667.50 707.5v-3.5M695.50 632.5v3.5M695.50 707.5v-3.5M723.50 632.5v3.5M723.50 707.5v-3.5M751.50 632.5v3.5M751.50 707.5v-3.5M779.50 632.5v3.5M779.50 707.5v-3.5M807.50 632.5v3.5M807.50 707.5v-3.5M835.50 632.5v3.5M835.50 707.5v-3.5M863.50 632.5v3.5M863.50 707.5v-3.5M892.50 632.5v3.5M892.50 707.5v-3.5M920.50 632.5v3.5M920.50 707.5v-3.5M948.50 632.5v3.5M948.50 707.5v-3.5M976.50 632.5v3.5M976.50 707.5v-3.5M90.5 637.5h7.5M990.5 637.5h-7.5M90.5 672.5h7.5M990.5 672.5h-7.5" stroke="#ffffc0" stroke-width="1" fill="none" shape-rendering="crispEdges"/>
<polyline points="101,660.4 180.2,660.4 181.4,651.4 184,657.2 187.5,652.6 189.3,654.3 191.3,652.6 194,654.3 195.7,653.5 198,655.7 198.7,658.4 200.2,658.4 202.2,650.2 204,652.6 204.5,659.4 208.6,659.4 210,658.4 211,659.4 911,659.4 911.3,660.8 925,660.8 925.3,661.6 972.8,661.6" stroke="#ffff00" stroke-width="1.2" fill="none"/>
<path d="M203.5 632.5V707.5" stroke="#ff0000" stroke-width="1.3"/>
<rect x="90.5" y="632.5" width="900.0" height="75.0" fill="none" stroke="#ffffc0" stroke-width="1" shape-rendering="crispEdges"/>
<text x="51.14" y="641.00" textLength="26.16" lengthAdjust="spacingAndGlyphs" fill="#ffffc0">-80</text>
<text x="40.96" y="675.90" textLength="36.34" lengthAdjust="spacingAndGlyphs" fill="#ffffc0">-100</text>
<text x="40.96" y="710.90" textLength="36.34" lengthAdjust="spacingAndGlyphs" fill="#ffffc0">-120</text>
<text x="54.55" y="729.00" textLength="71.91" lengthAdjust="spacingAndGlyphs" fill="#ffffc0" class="ns">13:33:40</text>
<text x="82.67" y="729.00" textLength="71.91" lengthAdjust="spacingAndGlyphs" fill="#ffffc0" class="ns">13:34:00</text>
<text x="110.80" y="729.00" textLength="71.91" lengthAdjust="spacingAndGlyphs" fill="#ffffc0" class="ns">13:34:20</text>
<text x="138.92" y="729.00" textLength="71.91" lengthAdjust="spacingAndGlyphs" fill="#ffffc0" class="ns">13:34:40</text>
<text x="167.05" y="729.00" textLength="71.91" lengthAdjust="spacingAndGlyphs" fill="#ffffc0" class="ns">13:35:00</text>
<text x="195.17" y="729.00" textLength="71.91" lengthAdjust="spacingAndGlyphs" fill="#ffffc0" class="ns">13:35:20</text>
<text x="223.30" y="729.00" textLength="71.91" lengthAdjust="spacingAndGlyphs" fill="#ffffc0" class="ns">13:35:40</text>
<text x="251.42" y="729.00" textLength="71.91" lengthAdjust="spacingAndGlyphs" fill="#ffffc0" class="ns">13:36:00</text>
<text x="279.55" y="729.00" textLength="71.91" lengthAdjust="spacingAndGlyphs" fill="#ffffc0" class="ns">13:36:20</text>
<text x="307.67" y="729.00" textLength="71.91" lengthAdjust="spacingAndGlyphs" fill="#ffffc0" class="ns">13:36:40</text>
<text x="335.80" y="729.00" textLength="71.91" lengthAdjust="spacingAndGlyphs" fill="#ffffc0" class="ns">13:37:00</text>
<text x="363.92" y="729.00" textLength="71.91" lengthAdjust="spacingAndGlyphs" fill="#ffffc0" class="ns">13:37:20</text>
<text x="392.05" y="729.00" textLength="71.91" lengthAdjust="spacingAndGlyphs" fill="#ffffc0" class="ns">13:37:40</text>
<text x="420.17" y="729.00" textLength="71.91" lengthAdjust="spacingAndGlyphs" fill="#ffffc0" class="ns">13:38:00</text>
<text x="448.30" y="729.00" textLength="71.91" lengthAdjust="spacingAndGlyphs" fill="#ffffc0" class="ns">13:38:20</text>
<text x="476.42" y="729.00" textLength="71.91" lengthAdjust="spacingAndGlyphs" fill="#ffffc0" class="ns">13:38:40</text>
<text x="504.55" y="729.00" textLength="71.91" lengthAdjust="spacingAndGlyphs" fill="#ffffc0" class="ns">13:39:00</text>
<text x="532.67" y="729.00" textLength="71.91" lengthAdjust="spacingAndGlyphs" fill="#ffffc0" class="ns">13:39:20</text>
<text x="560.79" y="729.00" textLength="71.91" lengthAdjust="spacingAndGlyphs" fill="#ffffc0" class="ns">13:39:40</text>
<text x="588.92" y="729.00" textLength="71.91" lengthAdjust="spacingAndGlyphs" fill="#ffffc0" class="ns">13:40:00</text>
<text x="617.04" y="729.00" textLength="71.91" lengthAdjust="spacingAndGlyphs" fill="#ffffc0" class="ns">13:40:20</text>
<text x="645.17" y="729.00" textLength="71.91" lengthAdjust="spacingAndGlyphs" fill="#ffffc0" class="ns">13:40:40</text>
<text x="673.29" y="729.00" textLength="71.91" lengthAdjust="spacingAndGlyphs" fill="#ffffc0" class="ns">13:41:00</text>
<text x="701.42" y="729.00" textLength="71.91" lengthAdjust="spacingAndGlyphs" fill="#ffffc0" class="ns">13:41:20</text>
<text x="729.54" y="729.00" textLength="71.91" lengthAdjust="spacingAndGlyphs" fill="#ffffc0" class="ns">13:41:40</text>
<text x="757.67" y="729.00" textLength="71.91" lengthAdjust="spacingAndGlyphs" fill="#ffffc0" class="ns">13:42:00</text>
<text x="785.79" y="729.00" textLength="71.91" lengthAdjust="spacingAndGlyphs" fill="#ffffc0" class="ns">13:42:20</text>
<text x="813.92" y="729.00" textLength="71.91" lengthAdjust="spacingAndGlyphs" fill="#ffffc0" class="ns">13:42:40</text>
<text x="842.04" y="729.00" textLength="71.91" lengthAdjust="spacingAndGlyphs" fill="#ffffc0" class="ns">13:43:00</text>
<text x="870.17" y="729.00" textLength="71.91" lengthAdjust="spacingAndGlyphs" fill="#ffffc0" class="ns">13:43:20</text>
<text x="898.29" y="729.00" textLength="71.91" lengthAdjust="spacingAndGlyphs" fill="#ffffc0" class="ns">13:43:40</text>
<text x="926.42" y="729.00" textLength="71.91" lengthAdjust="spacingAndGlyphs" fill="#ffffc0" class="ns">13:44:00</text>
<text x="954.54" y="729.00" textLength="71.91" lengthAdjust="spacingAndGlyphs" fill="#ffffc0" class="ns">13:44:20</text>
</g>
</svg>
</body></html>
